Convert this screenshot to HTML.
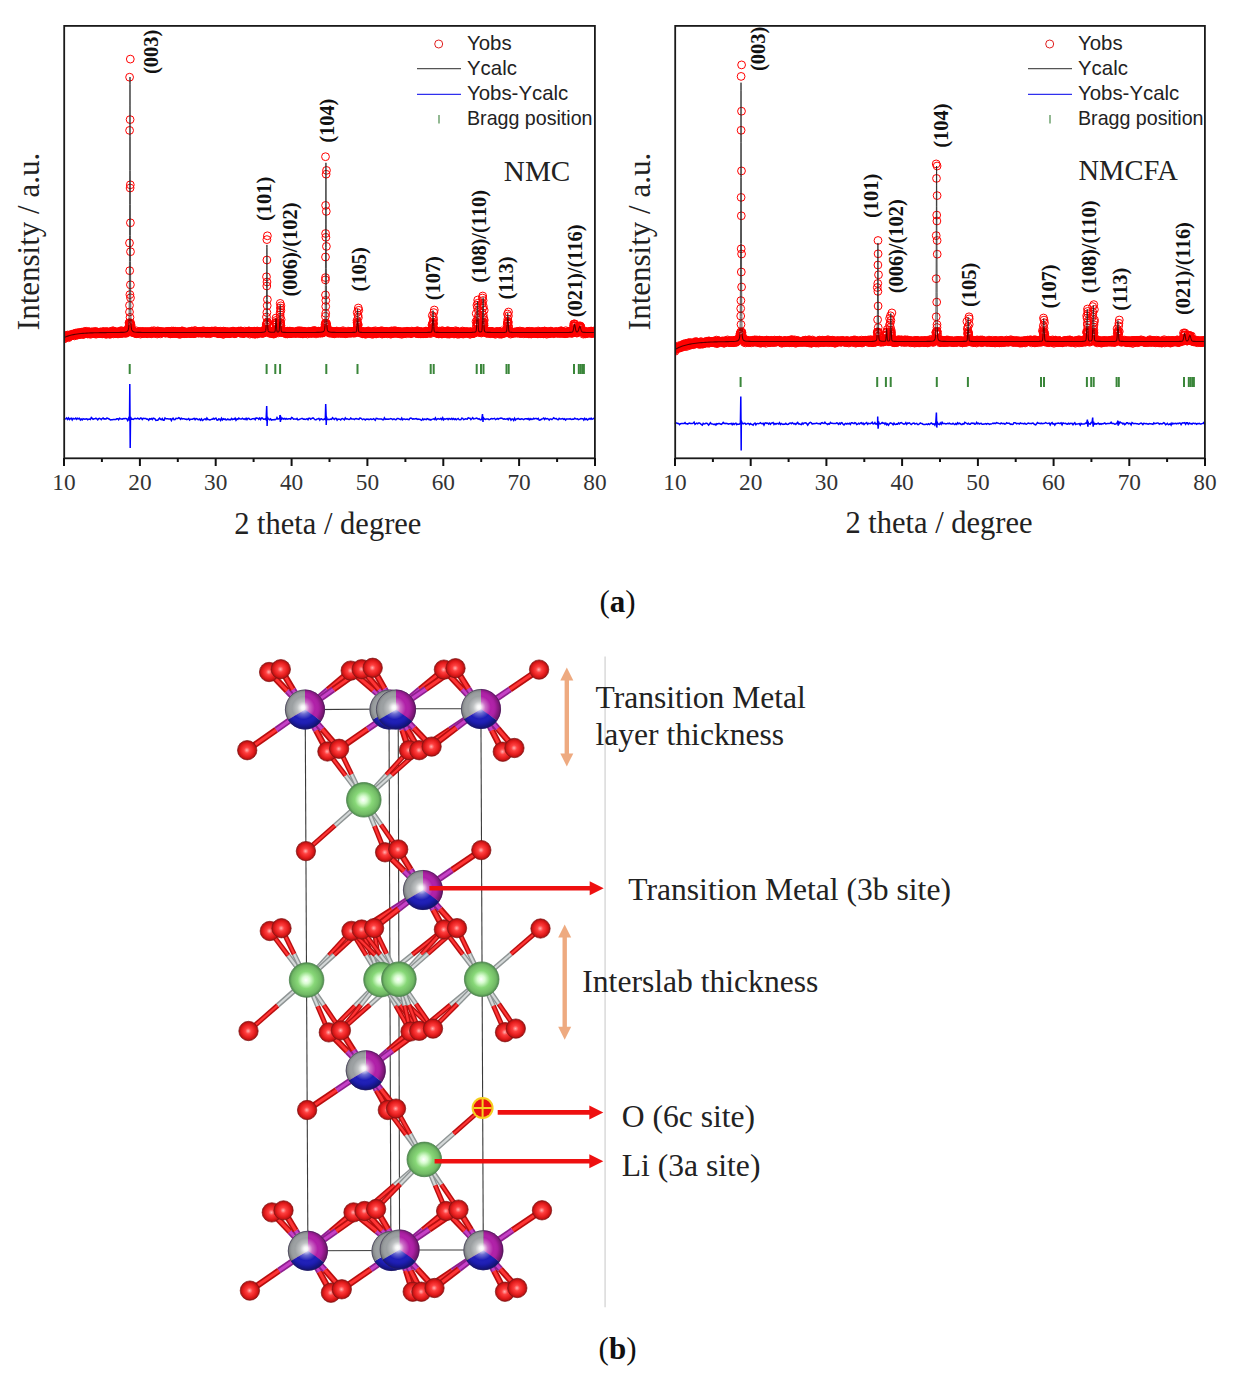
<!DOCTYPE html><html><head><meta charset="utf-8"><style>html,body{margin:0;padding:0;background:#fff;}svg{display:block}</style></head><body>
<svg width="1239" height="1381" viewBox="0 0 1239 1381" font-family='"Liberation Serif", serif'>
<defs>
<marker id="mo" markerWidth="10" markerHeight="10" refX="5" refY="5" markerUnits="userSpaceOnUse" overflow="visible"><circle cx="5" cy="5" r="3.9" fill="none" stroke="#f00" stroke-width="1"/></marker>
<radialGradient id="gO" cx="0.5" cy="0.5" r="0.5" fx="0.48" fy="0.5"><stop offset="0" stop-color="#ffb0b0"/><stop offset="0.3" stop-color="#ff4040"/><stop offset="0.7" stop-color="#e41c1c"/><stop offset="0.88" stop-color="#c01414"/><stop offset="1" stop-color="#8a1010"/></radialGradient>
<radialGradient id="gLi" cx="0.5" cy="0.5" r="0.5" fx="0.48" fy="0.5"><stop offset="0" stop-color="#ffffff"/><stop offset="0.22" stop-color="#d8fcd0"/><stop offset="0.5" stop-color="#88d878"/><stop offset="0.85" stop-color="#70b864"/><stop offset="1" stop-color="#4e8a4e"/></radialGradient>
<radialGradient id="gTMh" cx="0.47" cy="0.47" r="0.53" fx="0.45" fy="0.45"><stop offset="0" stop-color="#fff" stop-opacity="1"/><stop offset="0.1" stop-color="#fff" stop-opacity="0.9"/><stop offset="0.3" stop-color="#fff" stop-opacity="0.35"/><stop offset="0.55" stop-color="#fff" stop-opacity="0"/><stop offset="0.75" stop-color="#000" stop-opacity="0.05"/><stop offset="1" stop-color="#000" stop-opacity="0.4"/></radialGradient>
<clipPath id="clip1"><rect x="65" y="26" width="529" height="431"/></clipPath><clipPath id="clip2"><rect x="676" y="26" width="528" height="431"/></clipPath>
</defs>
<rect width="1239" height="1381" fill="#fff"/>
<g stroke="#3a863a" stroke-width="2">
<g clip-path="url(#clip1)">
<polyline points="64.0,338.7 64.3,338.7 64.5,337.5 64.8,336.7 65.1,336.4 65.3,337.1 65.6,336.2 65.9,335.8 66.1,336.9 66.4,336.7 66.7,337.0 66.9,335.8 67.2,336.4 67.5,336.2 67.7,335.0 68.0,336.5 68.2,336.2 68.5,337.7 68.8,336.0 69.0,335.6 69.3,336.6 69.6,335.7 69.8,336.2 70.1,335.1 70.4,335.5 70.6,336.0 70.9,335.7 71.2,335.2 71.4,334.3 71.7,335.3 72.0,335.0 72.2,335.4 72.5,335.0 72.8,335.6 73.0,334.7 73.3,334.8 73.6,335.1 73.8,333.7 74.1,334.2 74.4,334.1 74.6,335.9 74.9,334.3 75.2,334.8 75.4,334.7 75.7,334.0 75.9,333.0 76.2,334.9 76.5,333.8 76.7,334.6 77.0,333.0 77.3,333.7 77.5,334.9 77.8,335.0 78.1,332.9 78.3,332.8 78.6,333.8 78.9,334.3 79.1,333.9 79.4,333.9 79.7,332.9 79.9,334.1 80.2,334.5 80.5,333.3 80.7,332.5 81.0,333.0 81.3,334.1 81.5,332.2 81.8,333.4 82.1,332.7 82.3,333.3 82.6,333.2 82.9,333.4 83.1,334.5 83.4,333.6 83.6,334.3 83.9,333.2 84.2,332.9 84.4,333.5 84.7,331.4 85.0,333.2 85.2,333.3 85.5,332.3 85.8,333.5 86.0,332.7 86.3,331.3 86.6,333.0 86.8,332.4 87.1,332.7 87.4,333.0 87.6,334.0 87.9,333.1 88.2,333.0 88.4,333.3 88.7,331.6 89.0,333.9 89.2,332.2 89.5,333.3 89.8,332.1 90.0,332.2 90.3,332.6 90.6,334.3 90.8,333.4 91.1,332.4 91.3,332.7 91.6,332.0 91.9,332.8 92.1,332.4 92.4,333.4 92.7,331.8 92.9,332.6 93.2,332.2 93.5,332.3 93.7,333.3 94.0,332.9 94.3,333.2 94.5,333.7 94.8,333.6 95.1,331.7 95.3,333.2 95.6,331.4 95.9,332.7 96.1,334.2 96.4,332.6 96.7,332.5 96.9,332.9 97.2,332.7 97.5,332.7 97.7,332.1 98.0,333.5 98.2,333.4 98.5,332.5 98.8,332.9 99.0,333.2 99.3,333.5 99.6,333.0 99.8,333.2 100.1,332.5 100.4,331.9 100.6,332.3 100.9,333.4 101.2,333.4 101.4,332.8 101.7,332.2 102.0,332.9 102.2,333.9 102.5,333.6 102.8,332.1 103.0,332.6 103.3,331.5 103.6,331.8 103.8,332.7 104.1,332.6 104.4,333.3 104.6,333.5 104.9,333.2 105.2,333.6 105.4,332.2 105.7,331.7 105.9,333.0 106.2,334.4 106.5,332.8 106.7,331.7 107.0,332.8 107.3,333.6 107.5,331.8 107.8,333.2 108.1,332.1 108.3,333.5 108.6,333.1 108.9,332.8 109.1,334.1 109.4,332.2 109.7,332.0 109.9,333.9 110.2,331.9 110.5,334.2 110.7,332.5 111.0,331.8 111.3,332.5 111.5,332.6 111.8,332.7 112.1,332.4 112.3,333.3 112.6,330.8 112.9,332.1 113.1,332.3 113.4,333.9 113.6,331.0 113.9,332.3 114.2,331.7 114.4,332.0 114.7,333.0 115.0,332.8 115.2,333.6 115.5,332.0 115.8,332.7 116.0,333.4 116.3,333.2 116.6,332.2 116.8,333.3 117.1,331.8 117.4,333.8 117.6,332.6 117.9,332.4 118.2,332.7 118.4,333.1 118.7,333.8 119.0,332.3 119.2,332.2 119.5,332.9 119.8,331.8 120.0,331.2 120.3,333.1 120.6,332.1 120.8,333.3 121.1,331.6 121.3,330.6 121.6,332.6 121.9,332.5 122.1,333.6 122.4,332.8 122.7,332.6 122.9,332.8 123.2,332.0 123.5,332.4 123.7,331.3 124.0,332.7 124.3,331.6 124.5,331.9 124.8,332.7 125.1,332.8 125.3,331.3 125.6,333.5 125.9,331.5 126.1,332.5 126.4,332.5 126.7,331.9 126.9,331.7 127.2,332.7 127.5,331.8 127.7,331.1 128.0,328.9 128.3,329.1 128.5,329.4 128.8,326.8 129.0,322.8 129.3,323.0 129.6,323.3 129.8,324.0 130.1,323.8 130.4,324.3 130.6,322.9 130.9,324.2 131.2,325.9 131.4,328.1 131.7,330.8 132.0,330.3 132.2,330.6 132.5,330.9 132.8,331.0 133.0,332.7 133.3,332.7 133.6,332.3 133.8,332.0 134.1,332.7 134.4,332.0 134.6,332.4 134.9,332.4 135.2,332.2 135.4,333.4 135.7,333.5 136.0,333.2 136.2,330.8 136.5,333.7 136.7,332.8 137.0,332.0 137.3,332.3 137.5,333.2 137.8,333.2 138.1,333.0 138.3,332.5 138.6,332.4 138.9,333.0 139.1,332.3 139.4,331.7 139.7,331.9 139.9,332.3 140.2,332.7 140.5,334.1 140.7,331.4 141.0,332.8 141.3,332.4 141.5,332.7 141.8,333.5 142.1,333.4 142.3,332.3 142.6,332.0 142.9,331.4 143.1,332.4 143.4,333.4 143.7,332.3 143.9,333.0 144.2,333.0 144.4,332.8 144.7,333.3 145.0,332.4 145.2,331.8 145.5,331.6 145.8,333.2 146.0,332.2 146.3,332.2 146.6,333.1 146.8,331.9 147.1,333.8 147.4,333.0 147.6,332.1 147.9,332.0 148.2,333.3 148.4,331.6 148.7,332.0 149.0,332.5 149.2,332.6 149.5,332.5 149.8,332.8 150.0,332.2 150.3,332.4 150.6,333.4 150.8,333.0 151.1,332.1 151.3,333.8 151.6,331.0 151.9,332.5 152.1,333.0 152.4,333.2 152.7,332.6 152.9,332.2 153.2,332.9 153.5,332.3 153.7,332.8 154.0,330.7 154.3,332.8 154.5,331.9 154.8,333.2 155.1,333.0 155.3,333.0 155.6,332.2 155.9,332.8 156.1,332.2 156.4,332.6 156.7,332.4 156.9,331.8 157.2,334.0 157.5,333.0 157.7,330.9 158.0,333.2 158.3,331.4 158.5,332.3 158.8,332.1 159.0,332.1 159.3,332.7 159.6,332.2 159.8,331.4 160.1,332.5 160.4,332.8 160.6,333.8 160.9,332.2 161.2,331.6 161.4,332.2 161.7,333.0 162.0,331.8 162.2,332.0 162.5,332.9 162.8,332.5 163.0,332.7 163.3,332.0 163.6,331.9 163.8,332.2 164.1,332.4 164.4,332.2 164.6,332.8 164.9,332.9 165.2,332.9 165.4,332.9 165.7,331.8 166.0,331.7 166.2,333.1 166.5,332.5 166.7,332.6 167.0,331.6 167.3,332.3 167.5,332.0 167.8,331.8 168.1,332.0 168.3,331.4 168.6,332.6 168.9,333.4 169.1,332.0 169.4,332.6 169.7,331.7 169.9,333.0 170.2,333.9 170.5,331.6 170.7,332.3 171.0,333.6 171.3,332.8 171.5,332.6 171.8,331.0 172.1,332.4 172.3,333.2 172.6,333.6 172.9,333.0 173.1,332.1 173.4,332.0 173.7,331.1 173.9,331.7 174.2,333.3 174.4,332.4 174.7,331.5 175.0,333.5 175.2,331.2 175.5,333.4 175.8,332.3 176.0,332.7 176.3,333.0 176.6,332.7 176.8,333.4 177.1,332.5 177.4,332.2 177.6,332.0 177.9,331.4 178.2,332.0 178.4,333.2 178.7,333.1 179.0,333.5 179.2,334.3 179.5,333.0 179.8,332.9 180.0,331.5 180.3,332.3 180.6,334.1 180.8,332.9 181.1,332.4 181.4,332.7 181.6,331.1 181.9,331.9 182.1,331.5 182.4,330.9 182.7,333.1 182.9,333.2 183.2,332.4 183.5,332.8 183.7,331.7 184.0,332.8 184.3,333.1 184.5,333.6 184.8,333.7 185.1,332.9 185.3,332.4 185.6,331.9 185.9,332.0 186.1,333.0 186.4,332.9 186.7,332.5 186.9,333.7 187.2,333.0 187.5,332.5 187.7,332.4 188.0,332.6 188.3,331.8 188.5,331.8 188.8,332.8 189.1,332.1 189.3,332.3 189.6,333.4 189.8,332.4 190.1,333.5 190.4,332.5 190.6,333.6 190.9,332.8 191.2,331.2 191.4,333.4 191.7,332.3 192.0,331.0 192.2,332.6 192.5,332.6 192.8,331.5 193.0,332.0 193.3,332.9 193.6,333.6 193.8,333.4 194.1,333.4 194.4,333.3 194.6,330.7 194.9,332.0 195.2,332.6 195.4,330.7 195.7,333.1 196.0,333.2 196.2,331.9 196.5,332.2 196.8,331.8 197.0,332.5 197.3,332.5 197.5,332.5 197.8,331.7 198.1,332.8 198.3,332.2 198.6,333.2 198.9,332.7 199.1,331.4 199.4,331.4 199.7,332.5 199.9,332.1 200.2,332.8 200.5,333.1 200.7,332.5 201.0,331.2 201.3,331.6 201.5,332.9 201.8,331.7 202.1,333.3 202.3,332.4 202.6,332.9 202.9,331.8 203.1,332.4 203.4,330.7 203.7,332.3 203.9,332.9 204.2,331.8 204.4,331.9 204.7,332.5 205.0,332.5 205.2,331.9 205.5,333.0 205.8,331.3 206.0,333.3 206.3,331.4 206.6,331.9 206.8,333.5 207.1,331.8 207.4,331.3 207.6,332.6 207.9,331.8 208.2,331.7 208.4,332.0 208.7,331.9 209.0,331.8 209.2,331.7 209.5,333.7 209.8,332.0 210.0,333.2 210.3,331.4 210.6,332.9 210.8,331.6 211.1,332.2 211.4,333.0 211.6,332.1 211.9,331.0 212.1,332.1 212.4,332.4 212.7,332.9 212.9,331.7 213.2,332.3 213.5,332.5 213.7,331.3 214.0,332.4 214.3,331.9 214.5,332.8 214.8,332.4 215.1,332.4 215.3,330.7 215.6,332.4 215.9,332.2 216.1,331.8 216.4,332.1 216.7,331.5 216.9,332.6 217.2,333.0 217.5,332.9 217.7,332.1 218.0,333.8 218.3,333.1 218.5,331.8 218.8,332.4 219.1,331.3 219.3,332.4 219.6,333.0 219.8,333.4 220.1,332.2 220.4,331.2 220.6,332.4 220.9,333.5 221.2,332.6 221.4,333.5 221.7,333.1 222.0,333.7 222.2,332.9 222.5,332.0 222.8,332.8 223.0,334.3 223.3,332.1 223.6,331.1 223.8,334.1 224.1,332.8 224.4,332.0 224.6,332.0 224.9,331.3 225.2,333.0 225.4,332.6 225.7,332.0 226.0,332.2 226.2,332.2 226.5,333.3 226.8,332.4 227.0,333.5 227.3,331.9 227.5,332.0 227.8,332.1 228.1,332.1 228.3,332.4 228.6,333.3 228.9,333.4 229.1,331.7 229.4,333.5 229.7,332.6 229.9,333.7 230.2,332.4 230.5,331.9 230.7,333.1 231.0,333.0 231.3,332.2 231.5,332.5 231.8,332.6 232.1,332.7 232.3,331.2 232.6,331.6 232.9,332.5 233.1,332.7 233.4,332.1 233.7,331.2 233.9,333.5 234.2,332.3 234.5,331.7 234.7,333.7 235.0,333.3 235.2,333.3 235.5,333.1 235.8,332.9 236.0,331.8 236.3,332.5 236.6,332.8 236.8,333.0 237.1,332.8 237.4,331.7 237.6,332.0 237.9,332.2 238.2,332.3 238.4,331.8 238.7,331.1 239.0,331.6 239.2,332.7 239.5,332.5 239.8,332.9 240.0,331.1 240.3,332.2 240.6,333.2 240.8,331.0 241.1,331.7 241.4,331.2 241.6,333.4 241.9,332.5 242.2,332.1 242.4,332.6 242.7,332.4 242.9,333.2 243.2,333.4 243.5,333.2 243.7,332.7 244.0,333.1 244.3,333.1 244.5,333.4 244.8,331.1 245.1,332.7 245.3,332.5 245.6,332.6 245.9,332.3 246.1,332.4 246.4,332.9 246.7,332.6 246.9,332.6 247.2,331.7 247.5,331.5 247.7,331.9 248.0,331.2 248.3,332.1 248.5,331.8 248.8,331.1 249.1,331.0 249.3,332.1 249.6,332.1 249.8,334.1 250.1,333.1 250.4,331.9 250.6,332.1 250.9,331.7 251.2,331.9 251.4,332.2 251.7,332.4 252.0,332.0 252.2,333.1 252.5,333.0 252.8,333.9 253.0,331.5 253.3,333.0 253.6,332.2 253.8,331.3 254.1,332.2 254.4,331.2 254.6,332.5 254.9,334.3 255.2,333.5 255.4,333.8 255.7,333.4 256.0,331.3 256.2,332.8 256.5,332.6 256.8,332.8 257.0,331.7 257.3,331.0 257.5,334.0 257.8,333.3 258.1,332.7 258.3,332.1 258.6,332.6 258.9,331.5 259.1,333.2 259.4,332.6 259.7,332.3 259.9,332.1 260.2,332.4 260.5,332.5 260.7,332.1 261.0,333.1 261.3,332.5 261.5,332.3 261.8,331.7 262.1,333.3 262.3,333.3 262.6,332.8 262.9,330.9 263.1,332.0 263.4,333.0 263.7,332.2 263.9,333.1 264.2,331.7 264.5,332.6 264.7,332.2 265.0,329.9 265.2,331.1 265.5,330.8 265.8,329.7 266.0,326.7 266.3,324.7 266.6,323.4 266.8,324.1 267.1,322.5 267.4,321.9 267.6,323.1 267.9,329.4 268.2,330.1 268.4,331.6 268.7,332.1 269.0,331.4 269.2,331.9 269.5,331.5 269.8,332.9 270.0,333.5 270.3,332.6 270.6,331.8 270.8,331.7 271.1,332.1 271.4,333.0 271.6,331.7 271.9,333.4 272.2,331.4 272.4,332.3 272.7,333.3 272.9,333.6 273.2,332.0 273.5,332.9 273.7,334.1 274.0,333.1 274.3,330.5 274.5,332.3 274.8,333.7 275.1,330.3 275.3,329.8 275.6,323.1 275.9,324.7 276.1,322.9 276.4,324.4 276.7,329.3 276.9,329.2 277.2,330.7 277.5,332.2 277.7,330.9 278.0,332.0 278.3,331.3 278.5,332.9 278.8,331.3 279.1,330.5 279.3,329.7 279.6,324.7 279.9,323.4 280.1,323.7 280.4,323.9 280.6,323.1 280.9,325.9 281.2,330.8 281.4,331.3 281.7,330.8 282.0,332.7 282.2,332.5 282.5,332.3 282.8,331.7 283.0,332.1 283.3,332.8 283.6,332.7 283.8,331.7 284.1,331.7 284.4,332.6 284.6,332.5 284.9,333.0 285.2,331.6 285.4,333.1 285.7,333.8 286.0,333.1 286.2,332.5 286.5,333.1 286.8,331.5 287.0,332.1 287.3,334.0 287.6,331.2 287.8,331.6 288.1,333.1 288.3,332.0 288.6,332.0 288.9,331.6 289.1,333.7 289.4,332.0 289.7,332.3 289.9,331.1 290.2,333.0 290.5,332.5 290.7,332.8 291.0,333.7 291.3,332.6 291.5,331.6 291.8,331.7 292.1,332.5 292.3,333.5 292.6,331.6 292.9,332.3 293.1,332.4 293.4,333.0 293.7,331.8 293.9,332.7 294.2,333.1 294.5,332.5 294.7,332.4 295.0,332.9 295.3,332.9 295.5,333.4 295.8,331.7 296.0,333.4 296.3,332.3 296.6,331.6 296.8,332.1 297.1,331.6 297.4,332.3 297.6,333.3 297.9,330.8 298.2,331.6 298.4,333.1 298.7,332.3 299.0,333.1 299.2,331.5 299.5,332.4 299.8,330.7 300.0,331.8 300.3,333.0 300.6,333.4 300.8,333.7 301.1,332.4 301.4,331.8 301.6,332.2 301.9,331.0 302.2,333.5 302.4,333.4 302.7,331.8 302.9,333.9 303.2,331.5 303.5,332.9 303.7,331.9 304.0,331.2 304.3,332.8 304.5,331.6 304.8,333.4 305.1,331.8 305.3,332.6 305.6,332.1 305.9,332.6 306.1,332.0 306.4,333.1 306.7,332.9 306.9,332.5 307.2,332.4 307.5,334.0 307.7,332.0 308.0,332.1 308.3,333.1 308.5,332.5 308.8,331.2 309.1,332.4 309.3,332.2 309.6,331.7 309.9,332.6 310.1,331.6 310.4,332.3 310.6,331.6 310.9,333.6 311.2,332.3 311.4,332.8 311.7,332.7 312.0,333.0 312.2,332.3 312.5,333.0 312.8,332.6 313.0,330.7 313.3,332.7 313.6,331.5 313.8,333.2 314.1,332.6 314.4,332.2 314.6,330.6 314.9,330.8 315.2,331.6 315.4,332.2 315.7,331.4 316.0,333.9 316.2,332.8 316.5,332.4 316.8,331.7 317.0,332.2 317.3,332.2 317.6,332.1 317.8,332.3 318.1,333.0 318.3,331.1 318.6,332.6 318.9,333.2 319.1,331.3 319.4,332.2 319.7,332.1 319.9,331.5 320.2,333.0 320.5,332.0 320.7,333.1 321.0,332.6 321.3,332.0 321.5,332.4 321.8,331.9 322.1,330.9 322.3,333.1 322.6,332.2 322.9,332.7 323.1,330.4 323.4,332.4 323.7,332.0 323.9,331.0 324.2,329.0 324.5,330.0 324.7,328.1 325.0,324.8 325.3,323.5 325.5,322.8 325.8,323.4 326.0,323.5 326.3,324.6 326.6,323.4 326.8,325.6 327.1,327.4 327.4,329.6 327.6,331.4 327.9,329.8 328.2,331.8 328.4,331.8 328.7,331.3 329.0,331.7 329.2,333.1 329.5,331.7 329.8,332.3 330.0,332.5 330.3,333.1 330.6,330.7 330.8,331.1 331.1,331.3 331.4,332.1 331.6,332.8 331.9,332.9 332.2,332.1 332.4,333.5 332.7,332.3 333.0,332.9 333.2,331.8 333.5,333.0 333.7,331.9 334.0,333.3 334.3,333.1 334.5,333.8 334.8,332.1 335.1,331.6 335.3,333.0 335.6,332.7 335.9,332.0 336.1,331.4 336.4,333.0 336.7,331.0 336.9,332.1 337.2,333.2 337.5,332.3 337.7,332.8 338.0,332.8 338.3,332.9 338.5,333.3 338.8,332.9 339.1,332.2 339.3,331.5 339.6,332.2 339.9,332.0 340.1,332.8 340.4,333.4 340.7,333.1 340.9,331.9 341.2,332.6 341.4,332.5 341.7,332.1 342.0,333.4 342.2,332.9 342.5,332.7 342.8,331.6 343.0,330.7 343.3,331.9 343.6,333.3 343.8,332.3 344.1,332.5 344.4,332.3 344.6,332.8 344.9,332.5 345.2,333.8 345.4,332.4 345.7,332.3 346.0,333.5 346.2,333.0 346.5,333.0 346.8,332.9 347.0,332.4 347.3,332.7 347.6,332.9 347.8,332.6 348.1,331.1 348.4,333.5 348.6,332.1 348.9,332.0 349.1,332.2 349.4,331.9 349.7,331.8 349.9,332.4 350.2,333.1 350.5,332.2 350.7,332.8 351.0,331.4 351.3,333.0 351.5,331.6 351.8,333.0 352.1,331.9 352.3,332.0 352.6,331.5 352.9,331.5 353.1,332.3 353.4,331.7 353.7,332.2 353.9,333.3 354.2,331.8 354.5,332.1 354.7,332.3 355.0,331.8 355.3,332.2 355.5,332.4 355.8,332.9 356.0,331.5 356.3,331.6 356.6,330.7 356.8,328.6 357.1,322.7 357.4,323.6 357.6,324.1 357.9,323.9 358.2,324.7 358.4,329.1 358.7,330.1 359.0,331.5 359.2,331.9 359.5,331.1 359.8,332.9 360.0,332.4 360.3,332.2 360.6,332.0 360.8,332.7 361.1,332.2 361.4,332.8 361.6,332.1 361.9,333.2 362.2,331.2 362.4,331.6 362.7,333.8 363.0,333.2 363.2,333.7 363.5,331.9 363.7,333.0 364.0,333.2 364.3,333.2 364.5,332.3 364.8,333.6 365.1,332.8 365.3,331.5 365.6,334.3 365.9,332.6 366.1,333.4 366.4,332.0 366.7,331.8 366.9,333.1 367.2,333.1 367.5,331.9 367.7,332.7 368.0,331.5 368.3,330.9 368.5,333.3 368.8,331.6 369.1,333.0 369.3,333.3 369.6,332.8 369.9,333.6 370.1,332.8 370.4,332.7 370.7,332.5 370.9,332.8 371.2,332.8 371.4,331.8 371.7,332.5 372.0,332.2 372.2,334.3 372.5,333.4 372.8,331.9 373.0,332.9 373.3,331.2 373.6,332.5 373.8,333.9 374.1,332.6 374.4,333.5 374.6,332.2 374.9,332.8 375.2,332.8 375.4,330.8 375.7,331.9 376.0,333.9 376.2,331.9 376.5,333.4 376.8,333.8 377.0,332.5 377.3,333.2 377.6,332.8 377.8,332.0 378.1,332.9 378.4,332.8 378.6,331.8 378.9,332.2 379.1,331.5 379.4,332.2 379.7,332.5 379.9,331.8 380.2,331.1 380.5,333.0 380.7,333.4 381.0,331.8 381.3,332.5 381.5,332.0 381.8,330.7 382.1,334.1 382.3,332.7 382.6,331.4 382.9,333.4 383.1,333.0 383.4,333.6 383.7,333.0 383.9,332.9 384.2,333.6 384.5,332.3 384.7,332.7 385.0,331.7 385.3,331.6 385.5,332.7 385.8,332.7 386.1,331.3 386.3,332.8 386.6,333.3 386.8,331.6 387.1,332.2 387.4,333.8 387.6,331.9 387.9,332.9 388.2,333.1 388.4,332.6 388.7,332.6 389.0,332.9 389.2,332.7 389.5,332.6 389.8,331.4 390.0,332.7 390.3,331.9 390.6,333.6 390.8,334.2 391.1,333.3 391.4,330.9 391.6,333.2 391.9,332.6 392.2,331.7 392.4,331.6 392.7,333.3 393.0,332.0 393.2,332.4 393.5,332.5 393.8,333.2 394.0,330.7 394.3,333.4 394.5,331.9 394.8,332.2 395.1,333.0 395.3,332.8 395.6,330.8 395.9,332.9 396.1,332.4 396.4,331.7 396.7,332.0 396.9,331.3 397.2,333.1 397.5,333.6 397.7,332.0 398.0,332.1 398.3,331.4 398.5,332.0 398.8,331.7 399.1,332.5 399.3,333.8 399.6,333.3 399.9,333.2 400.1,331.8 400.4,333.1 400.7,332.0 400.9,331.8 401.2,333.0 401.5,332.4 401.7,334.3 402.0,332.6 402.2,332.3 402.5,333.1 402.8,331.6 403.0,333.0 403.3,333.7 403.6,332.4 403.8,332.1 404.1,333.3 404.4,331.7 404.6,332.8 404.9,332.1 405.2,332.7 405.4,331.9 405.7,332.9 406.0,332.9 406.2,333.8 406.5,332.2 406.8,332.8 407.0,331.2 407.3,331.9 407.6,332.7 407.8,331.5 408.1,332.4 408.4,331.8 408.6,332.9 408.9,332.9 409.1,332.1 409.4,333.0 409.7,332.1 409.9,332.6 410.2,332.9 410.5,332.9 410.7,332.9 411.0,333.8 411.3,332.0 411.5,332.4 411.8,331.1 412.1,333.1 412.3,331.7 412.6,332.0 412.9,332.1 413.1,332.8 413.4,332.3 413.7,332.3 413.9,332.6 414.2,332.2 414.5,332.5 414.7,331.8 415.0,332.1 415.3,331.6 415.5,333.1 415.8,333.2 416.1,333.0 416.3,332.7 416.6,332.0 416.8,332.9 417.1,331.3 417.4,330.7 417.6,331.6 417.9,333.6 418.2,332.7 418.4,333.7 418.7,332.0 419.0,333.2 419.2,333.7 419.5,333.2 419.8,332.7 420.0,333.3 420.3,332.1 420.6,333.8 420.8,331.6 421.1,331.9 421.4,332.5 421.6,331.9 421.9,333.8 422.2,333.0 422.4,331.9 422.7,333.7 423.0,333.5 423.2,332.2 423.5,333.7 423.8,333.4 424.0,332.1 424.3,332.1 424.5,332.7 424.8,333.3 425.1,333.7 425.3,333.6 425.6,332.1 425.9,331.1 426.1,331.2 426.4,333.6 426.7,333.3 426.9,333.3 427.2,332.4 427.5,332.5 427.7,332.8 428.0,332.8 428.3,332.5 428.5,331.7 428.8,331.4 429.1,332.5 429.3,332.3 429.6,333.4 429.9,331.5 430.1,330.8 430.4,330.8 430.7,332.2 430.9,333.4 431.2,331.8 431.5,331.4 431.7,331.8 432.0,331.5 432.2,328.1 432.5,324.2 432.8,324.2 433.0,323.3 433.3,323.6 433.6,323.8 433.8,328.7 434.1,328.7 434.4,331.1 434.6,332.2 434.9,331.9 435.2,332.1 435.4,332.0 435.7,331.6 436.0,332.7 436.2,333.3 436.5,332.1 436.8,332.7 437.0,333.2 437.3,331.9 437.6,332.4 437.8,331.5 438.1,333.6 438.4,333.7 438.6,332.3 438.9,333.9 439.2,333.1 439.4,331.1 439.7,332.8 439.9,332.7 440.2,332.8 440.5,333.0 440.7,332.1 441.0,333.3 441.3,332.7 441.5,333.9 441.8,332.4 442.1,330.7 442.3,333.9 442.6,332.9 442.9,331.1 443.1,332.0 443.4,331.9 443.7,333.2 443.9,332.0 444.2,333.4 444.5,332.1 444.7,333.2 445.0,332.0 445.3,331.6 445.5,332.9 445.8,332.3 446.1,332.9 446.3,331.2 446.6,331.7 446.9,332.2 447.1,334.0 447.4,332.8 447.6,331.2 447.9,330.7 448.2,333.9 448.4,332.7 448.7,331.5 449.0,333.2 449.2,333.1 449.5,334.1 449.8,332.6 450.0,332.1 450.3,333.1 450.6,331.5 450.8,332.2 451.1,331.7 451.4,332.1 451.6,331.5 451.9,331.4 452.2,331.7 452.4,332.8 452.7,332.5 453.0,332.4 453.2,332.8 453.5,333.1 453.8,332.8 454.0,334.0 454.3,332.7 454.6,332.8 454.8,332.1 455.1,333.3 455.3,333.6 455.6,330.7 455.9,333.1 456.1,331.7 456.4,332.8 456.7,332.6 456.9,331.5 457.2,331.5 457.5,332.3 457.7,334.3 458.0,331.6 458.3,332.2 458.5,332.3 458.8,332.3 459.1,333.3 459.3,334.0 459.6,332.5 459.9,332.8 460.1,332.2 460.4,333.7 460.7,332.4 460.9,333.0 461.2,332.3 461.5,333.3 461.7,332.4 462.0,331.8 462.2,333.9 462.5,331.0 462.8,332.6 463.0,332.2 463.3,331.8 463.6,334.0 463.8,332.7 464.1,332.2 464.4,331.8 464.6,332.7 464.9,332.5 465.2,332.3 465.4,332.0 465.7,333.6 466.0,332.6 466.2,332.3 466.5,331.5 466.8,331.9 467.0,333.0 467.3,331.9 467.6,333.0 467.8,332.4 468.1,332.8 468.4,332.7 468.6,332.1 468.9,332.3 469.2,332.4 469.4,332.9 469.7,334.2 469.9,333.1 470.2,331.5 470.5,334.1 470.7,332.3 471.0,331.9 471.3,332.5 471.5,332.4 471.8,332.6 472.1,332.4 472.3,332.4 472.6,333.3 472.9,333.6 473.1,332.4 473.4,333.5 473.7,333.0 473.9,333.2 474.2,332.5 474.5,332.4 474.7,332.8 475.0,331.4 475.3,332.1 475.5,331.0 475.8,332.4 476.1,331.4 476.3,330.2 476.6,325.8 476.9,322.9 477.1,324.2 477.4,323.2 477.6,323.3 477.9,323.5 478.2,324.5 478.4,329.0 478.7,330.1 479.0,330.7 479.2,332.5 479.5,331.6 479.8,331.7 480.0,331.3 480.3,332.6 480.6,332.3 480.8,331.5 481.1,330.5 481.4,333.0 481.6,330.8 481.9,329.4 482.2,327.1 482.4,322.6 482.7,323.5 483.0,323.1 483.2,322.6 483.5,324.0 483.8,322.9 484.0,325.4 484.3,330.3 484.6,330.8 484.8,330.8 485.1,330.6 485.3,331.5 485.6,331.6 485.9,331.8 486.1,331.8 486.4,333.2 486.7,333.1 486.9,332.5 487.2,332.8 487.5,332.0 487.7,331.3 488.0,332.8 488.3,333.4 488.5,331.9 488.8,331.9 489.1,331.9 489.3,331.4 489.6,332.8 489.9,331.6 490.1,333.5 490.4,333.7 490.7,332.5 490.9,332.4 491.2,331.8 491.5,333.1 491.7,332.5 492.0,331.3 492.3,331.8 492.5,332.8 492.8,332.1 493.0,332.8 493.3,332.6 493.6,333.5 493.8,332.4 494.1,333.3 494.4,333.3 494.6,333.5 494.9,332.2 495.2,332.7 495.4,334.3 495.7,332.3 496.0,332.0 496.2,332.6 496.5,331.6 496.8,331.8 497.0,332.1 497.3,332.3 497.6,333.2 497.8,331.6 498.1,332.3 498.4,332.7 498.6,332.2 498.9,333.0 499.2,334.1 499.4,331.7 499.7,331.8 500.0,332.1 500.2,332.1 500.5,332.1 500.7,332.8 501.0,333.8 501.3,334.3 501.5,332.4 501.8,330.9 502.1,333.6 502.3,332.5 502.6,332.1 502.9,333.3 503.1,332.3 503.4,332.2 503.7,331.8 503.9,333.1 504.2,333.0 504.5,331.7 504.7,331.9 505.0,333.2 505.3,331.7 505.5,331.9 505.8,331.6 506.1,331.9 506.3,332.5 506.6,331.2 506.9,330.1 507.1,325.7 507.4,322.0 507.7,323.5 507.9,323.5 508.2,322.3 508.4,326.6 508.7,329.7 509.0,330.9 509.2,332.3 509.5,332.8 509.8,332.7 510.0,331.8 510.3,332.3 510.6,334.1 510.8,331.4 511.1,332.4 511.4,332.4 511.6,333.5 511.9,332.9 512.2,332.6 512.4,332.2 512.7,333.4 513.0,332.5 513.2,332.4 513.5,332.6 513.8,333.0 514.0,332.5 514.3,332.7 514.6,333.1 514.8,331.9 515.1,332.3 515.3,332.5 515.6,333.0 515.9,332.9 516.1,332.1 516.4,331.7 516.7,332.2 516.9,332.1 517.2,333.1 517.5,333.0 517.7,332.5 518.0,331.7 518.3,331.5 518.5,332.6 518.8,332.9 519.1,332.8 519.3,332.3 519.6,332.9 519.9,331.0 520.1,333.3 520.4,333.6 520.7,332.6 520.9,332.7 521.2,332.3 521.5,333.2 521.7,331.8 522.0,332.1 522.3,332.8 522.5,331.4 522.8,332.9 523.0,332.8 523.3,332.5 523.6,332.1 523.8,333.8 524.1,332.1 524.4,332.6 524.6,333.1 524.9,332.5 525.2,333.3 525.4,332.5 525.7,332.7 526.0,332.5 526.2,333.0 526.5,332.0 526.8,333.2 527.0,333.3 527.3,331.7 527.6,331.4 527.8,331.5 528.1,331.9 528.4,333.0 528.6,332.5 528.9,333.9 529.2,333.7 529.4,331.3 529.7,332.2 530.0,332.3 530.2,333.7 530.5,333.1 530.7,333.2 531.0,331.9 531.3,334.0 531.5,331.7 531.8,332.5 532.1,331.8 532.3,331.8 532.6,332.7 532.9,331.8 533.1,333.0 533.4,332.9 533.7,332.5 533.9,333.0 534.2,333.3 534.5,333.3 534.7,331.6 535.0,333.0 535.3,333.2 535.5,332.2 535.8,332.2 536.1,333.4 536.3,333.0 536.6,332.6 536.9,333.6 537.1,333.2 537.4,333.8 537.7,332.2 537.9,333.2 538.2,331.0 538.4,332.0 538.7,333.7 539.0,331.8 539.2,332.4 539.5,332.2 539.8,332.9 540.0,333.3 540.3,333.7 540.6,332.4 540.8,332.7 541.1,333.2 541.4,333.4 541.6,332.3 541.9,333.5 542.2,331.4 542.4,332.7 542.7,331.5 543.0,332.1 543.2,331.9 543.5,333.8 543.8,333.7 544.0,333.1 544.3,332.6 544.6,331.0 544.8,331.2 545.1,332.6 545.4,333.0 545.6,332.9 545.9,331.9 546.1,331.9 546.4,332.9 546.7,334.2 546.9,333.0 547.2,332.5 547.5,332.4 547.7,332.8 548.0,332.7 548.3,331.4 548.5,333.7 548.8,332.8 549.1,332.9 549.3,332.2 549.6,333.3 549.9,333.3 550.1,331.9 550.4,333.3 550.7,332.0 550.9,331.1 551.2,333.1 551.5,331.7 551.7,332.1 552.0,331.8 552.3,332.4 552.5,332.2 552.8,332.6 553.1,332.8 553.3,333.7 553.6,332.8 553.8,332.9 554.1,332.9 554.4,333.1 554.6,333.2 554.9,332.7 555.2,331.6 555.4,331.8 555.7,332.7 556.0,332.3 556.2,332.2 556.5,332.1 556.8,332.0 557.0,333.3 557.3,333.1 557.6,331.5 557.8,332.6 558.1,332.5 558.4,332.1 558.6,333.3 558.9,332.7 559.2,332.5 559.4,331.8 559.7,333.2 560.0,332.7 560.2,332.7 560.5,332.0 560.8,333.6 561.0,330.7 561.3,331.4 561.5,331.2 561.8,331.5 562.1,331.7 562.3,332.1 562.6,332.2 562.9,332.6 563.1,333.5 563.4,332.9 563.7,332.6 563.9,332.4 564.2,332.8 564.5,333.1 564.7,331.9 565.0,333.8 565.3,332.5 565.5,333.1 565.8,330.7 566.1,332.6 566.3,332.2 566.6,333.5 566.9,333.2 567.1,332.7 567.4,332.9 567.7,332.2 567.9,331.8 568.2,333.3 568.4,331.5 568.7,332.0 569.0,331.6 569.2,331.7 569.5,332.1 569.8,333.0 570.0,331.7 570.3,332.9 570.6,331.0 570.8,331.7 571.1,331.7 571.4,332.8 571.6,333.3 571.9,330.5 572.2,332.2 572.4,333.2 572.7,331.7 573.0,332.4 573.2,331.2 573.5,329.3 573.8,326.5 574.0,325.5 574.3,326.0 574.6,323.8 574.8,324.3 575.1,326.1 575.4,328.9 575.6,329.5 575.9,329.4 576.1,330.8 576.4,332.2 576.7,332.7 576.9,333.1 577.2,332.3 577.5,332.2 577.7,330.8 578.0,330.8 578.3,329.6 578.5,329.8 578.8,329.3 579.1,328.1 579.3,326.5 579.6,327.0 579.9,327.1 580.1,327.7 580.4,325.9 580.7,326.6 580.9,328.5 581.2,330.6 581.5,331.7 581.7,332.0 582.0,331.8 582.3,332.2 582.5,332.0 582.8,331.7 583.1,331.6 583.3,334.1 583.6,332.2 583.8,332.8 584.1,332.8 584.4,333.1 584.6,332.4 584.9,333.1 585.2,333.9 585.4,331.9 585.7,332.0 586.0,331.7 586.2,332.2 586.5,331.5 586.8,332.7 587.0,333.0 587.3,333.4 587.6,333.4 587.8,332.2 588.1,332.6 588.4,331.9 588.6,332.5 588.9,332.5 589.2,332.8 589.4,332.4 589.7,331.7 590.0,333.2 590.2,332.4 590.5,331.4 590.8,331.2 591.0,333.0 591.3,331.1 591.5,333.0 591.8,333.6 592.1,332.9 592.3,333.1 592.6,332.9 592.9,332.0 593.1,332.6 593.4,331.1 593.7,332.9 593.9,333.0 594.2,332.6 594.5,333.3 594.7,332.4 595.0,331.2 130.3,59.1 129.6,77.2 130.1,119.6 129.6,130.4 130.3,184.8 130.1,188.0 130.4,222.8 129.5,243.0 130.5,251.7 129.7,270.7 130.4,284.8 129.9,294.6 130.5,297.8 129.5,305.4 129.5,312.0 130.0,317.4 267.4,235.8 266.9,239.6 266.9,260.0 266.5,276.8 267.0,282.0 266.8,286.0 267.4,299.6 267.2,305.7 266.9,312.5 266.5,317.0 325.5,156.7 326.5,170.4 326.1,174.2 325.6,205.4 326.3,211.4 325.6,233.5 325.9,237.3 326.4,246.4 325.5,257.0 325.5,277.6 325.4,279.9 325.5,295.0 325.8,300.4 325.7,306.5 325.7,313.3 325.4,316.3 280.2,303.4 280.9,305.8 280.4,308.0 280.9,310.3 280.2,312.3 280.1,314.8 280.3,317.3 281.1,319.6 280.4,322.7 280.8,325.4 280.5,327.6 276.0,318.0 276.1,320.4 275.3,322.5 276.3,324.5 276.8,326.7 358.3,308.0 358.8,310.3 357.2,312.5 358.0,315.2 358.4,317.5 357.0,320.5 357.3,322.7 358.0,325.4 357.3,327.5 434.3,310.0 433.8,312.6 432.3,315.6 433.4,317.5 433.6,319.9 432.9,322.1 431.9,325.0 432.1,327.4 477.7,300.0 477.8,303.2 476.9,305.2 477.4,307.7 478.4,310.5 476.2,313.6 478.4,315.7 478.4,317.7 477.3,319.7 476.0,321.6 477.9,323.9 476.5,326.7 482.7,296.0 482.4,298.0 483.1,300.5 482.0,303.6 483.3,306.2 482.7,308.2 484.2,310.2 481.9,312.5 483.2,314.9 483.7,318.0 484.3,320.1 483.7,321.9 484.0,323.7 483.9,325.8 508.5,312.0 507.5,314.0 508.4,315.9 507.8,319.1 508.2,321.8 507.4,323.8 508.5,326.1 507.4,328.5 573.7,324.0 573.8,325.9 575.0,327.7 579.4,326.0 580.9,327.0" fill="none" stroke="none" marker-start="url(#mo)" marker-mid="url(#mo)" marker-end="url(#mo)"/>
<path d="M64.00,337.70L65.90,336.85L67.79,336.14L69.69,335.54L71.59,335.04L73.48,334.63L75.38,334.28L77.28,333.99L79.17,333.74L81.07,333.54L82.96,333.37L84.86,333.22L86.76,333.10L88.65,333.00L90.55,332.92L92.45,332.85L94.34,332.79L96.24,332.74L98.14,332.70L100.03,332.66L101.93,332.63L103.82,332.61L105.72,332.59L107.62,332.57L109.51,332.55L111.41,332.53L113.31,332.52L115.20,332.50L117.10,332.48L119.00,332.45L120.89,332.41L122.79,332.34L124.69,332.19L126.58,331.73L126.66,331.70L126.73,331.66L126.81,331.62L126.89,331.58L126.96,331.53L127.04,331.48L127.11,331.43L127.19,331.37L127.26,331.30L127.34,331.24L127.42,331.16L127.49,331.08L127.57,330.99L127.64,330.89L127.72,330.79L127.80,330.67L127.87,330.54L127.95,330.39L128.02,330.23L128.10,330.06L128.18,329.85L128.25,329.63L128.33,329.37L128.40,329.08L128.48,328.75L128.55,328.37L128.63,327.91L128.71,327.36L128.78,326.67L128.86,325.75L128.93,324.45L129.01,322.51L129.09,319.52M130.91,319.52L130.98,322.51L131.06,324.45L131.13,325.75L131.21,326.67L131.29,327.36L131.36,327.91L131.44,328.36L131.51,328.75L131.59,329.08L131.66,329.37L131.74,329.63L131.82,329.85L131.89,330.05L131.97,330.23L132.04,330.39L132.12,330.53L132.20,330.66L132.27,330.78L132.35,330.89L132.42,330.99L132.50,331.07L132.57,331.16L132.65,331.23L132.73,331.30L132.80,331.36L132.88,331.42L132.95,331.47L133.03,331.52L133.11,331.57L133.18,331.61L133.26,331.65L133.33,331.69L133.41,331.73L133.49,331.76L133.56,331.79L133.64,331.82L133.71,331.85L133.79,331.87L133.86,331.90L133.94,331.92L134.02,331.94L134.09,331.96L134.17,331.98L134.24,332.00L134.32,332.02L134.40,332.04L134.47,332.05L134.55,332.07L136.44,332.28L138.34,332.37L140.24,332.42L142.13,332.44L144.03,332.46L145.93,332.47L147.82,332.47L149.72,332.48L151.62,332.48L153.51,332.48L155.41,332.49L157.30,332.49L159.20,332.49L161.10,332.49L162.99,332.49L164.89,332.49L166.79,332.49L168.68,332.49L170.58,332.49L172.48,332.49L174.37,332.49L176.27,332.49L178.17,332.50L180.06,332.50L181.96,332.50L183.85,332.50L185.75,332.50L187.65,332.50L189.54,332.50L191.44,332.50L193.34,332.50L195.23,332.50L197.13,332.50L199.03,332.50L200.92,332.50L202.82,332.50L204.72,332.50L206.61,332.50L208.51,332.50L210.40,332.50L212.30,332.50L214.20,332.50L216.09,332.50L217.99,332.50L219.89,332.50L221.78,332.50L223.68,332.50L225.58,332.50L227.47,332.50L229.37,332.50L231.27,332.49L233.16,332.49L235.06,332.49L236.95,332.49L238.85,332.49L240.75,332.49L242.64,332.49L244.54,332.49L246.44,332.49L248.33,332.49L250.23,332.48L252.13,332.48L254.02,332.48L255.92,332.47L257.82,332.45L259.71,332.43L261.61,332.38L263.50,332.22L263.58,332.21L263.66,332.20L263.73,332.18L263.81,332.17L263.88,332.15L263.96,332.13L264.04,332.11L264.11,332.09L264.19,332.07L264.26,332.05L264.34,332.02L264.41,331.99L264.49,331.96L264.57,331.93L264.64,331.89L264.72,331.85L264.79,331.81L264.87,331.76L264.95,331.70L265.02,331.64L265.10,331.57L265.17,331.50L265.25,331.41L265.32,331.31L265.40,331.20L265.48,331.06L265.55,330.91L265.63,330.72L265.70,330.48L265.78,330.17L265.86,329.72L265.93,329.05L266.01,328.03L266.08,326.44L266.16,323.99L266.24,320.36M267.60,320.36L267.68,323.99L267.75,326.43L267.83,328.02L267.90,329.05L267.98,329.71L268.06,330.16L268.13,330.47L268.21,330.71L268.28,330.90L268.36,331.05L268.44,331.19L268.51,331.30L268.59,331.40L268.66,331.48L268.74,331.56L268.81,331.63L268.89,331.69L268.97,331.75L269.04,331.79L269.12,331.84L269.19,331.88L269.27,331.91L269.35,331.95L269.42,331.98L269.50,332.00L269.57,332.03L269.65,332.05L269.72,332.07L269.80,332.09L269.88,332.11L269.95,332.13L270.03,332.14L270.10,332.16L270.18,332.17L270.26,332.18L270.33,332.19L270.41,332.20L270.48,332.21L270.56,332.22L270.63,332.23L270.71,332.24L270.79,332.25L270.86,332.25L270.94,332.26L271.01,332.27L271.09,332.27L271.17,332.28L271.24,332.28L271.32,332.28L271.39,332.29L271.47,332.29L271.55,332.30L271.62,332.30L271.70,332.30L271.77,332.30L271.85,332.31L271.92,332.31L272.00,332.31L272.08,332.31L272.15,332.31L272.23,332.31L272.30,332.31L272.38,332.31L272.46,332.31L272.53,332.31L272.61,332.31L272.68,332.31L272.76,332.31L272.83,332.31L272.91,332.31L272.99,332.31L273.06,332.30L273.14,332.30L273.21,332.30L273.29,332.29L273.37,332.29L273.44,332.29L273.52,332.28L273.59,332.27L273.67,332.27L273.74,332.26L273.82,332.25L273.90,332.24L273.97,332.23L274.05,332.22L274.12,332.21L274.20,332.19L274.28,332.17L274.35,332.15L274.43,332.13L274.50,332.10L274.58,332.07L274.66,332.03L274.73,331.97L274.81,331.89L274.88,331.78L274.96,331.61L275.03,331.37L275.11,331.04L275.19,330.57L275.26,329.93L275.34,329.11L275.41,328.07L275.49,326.82L275.57,325.39L275.64,323.83L275.72,322.24L275.79,320.75L275.87,319.51L275.94,318.67M276.10,318.67L276.17,319.50L276.25,320.74L276.32,322.23L276.40,323.81L276.48,325.36L276.55,326.78L276.63,328.03L276.70,329.06L276.78,329.88L276.86,330.51L276.93,330.97L277.01,331.31L277.08,331.53L277.16,331.69L277.23,331.80L277.31,331.87L277.39,331.92L277.46,331.95L277.54,331.98L277.61,331.99L277.69,332.00L277.77,332.01L277.84,332.01L277.92,332.01L277.99,332.01L278.07,332.00L278.14,331.99L278.22,331.97L278.30,331.96L278.37,331.93L278.45,331.91L278.52,331.87L278.60,331.84L278.68,331.79L278.75,331.72L278.83,331.64L278.90,331.53L278.98,331.38L279.05,331.16L279.13,330.83L279.21,330.36L279.28,329.70L279.36,328.76L279.43,327.50L279.51,325.85L279.59,323.77L279.66,321.28M280.72,321.31L280.80,323.80L280.88,325.88L280.95,327.53L281.03,328.80L281.10,329.74L281.18,330.41L281.25,330.89L281.33,331.21L281.41,331.44L281.48,331.60L281.56,331.72L281.63,331.80L281.71,331.87L281.79,331.93L281.86,331.97L281.94,332.01L282.01,332.05L282.09,332.08L282.17,332.11L282.24,332.13L282.32,332.16L282.39,332.18L282.47,332.20L282.54,332.21L282.62,332.23L282.70,332.24L282.77,332.26L282.85,332.27L282.92,332.28L283.00,332.29L283.08,332.30L283.15,332.31L283.23,332.32L283.30,332.32L283.38,332.33L283.45,332.34L283.53,332.34L283.61,332.35L283.68,332.36L283.76,332.36L283.83,332.37L283.91,332.37L283.99,332.37L284.06,332.38L284.14,332.38L284.21,332.39L284.29,332.39L284.36,332.39L284.44,332.40L284.52,332.40L284.59,332.40L284.67,332.40L284.74,332.41L284.82,332.41L286.72,332.45L288.61,332.46L290.51,332.47L292.41,332.48L294.30,332.48L296.20,332.48L298.10,332.48L299.99,332.48L301.89,332.48L303.78,332.48L305.68,332.48L307.58,332.48L309.47,332.47L311.37,332.47L313.27,332.46L315.16,332.44L317.06,332.42L318.96,332.37L320.85,332.26L322.75,331.90L322.82,331.87L322.90,331.84L322.98,331.81L323.05,331.77L323.13,331.74L323.20,331.69L323.28,331.65L323.36,331.60L323.43,331.54L323.51,331.49L323.58,331.42L323.66,331.35L323.73,331.27L323.81,331.19L323.89,331.09L323.96,330.98L324.04,330.86L324.11,330.73L324.19,330.58L324.27,330.41L324.34,330.22L324.42,330.00L324.49,329.74L324.57,329.44L324.65,329.08L324.72,328.62L324.80,328.00L324.87,327.14L324.95,325.85L325.02,323.87L325.10,320.78M326.77,320.78L326.84,323.87L326.92,325.85L327.00,327.14L327.07,328.00L327.15,328.62L327.22,329.08L327.30,329.44L327.38,329.74L327.45,330.00L327.53,330.22L327.60,330.41L327.68,330.58L327.76,330.73L327.83,330.86L327.91,330.98L327.98,331.09L328.06,331.19L328.13,331.27L328.21,331.35L328.29,331.42L328.36,331.49L328.44,331.54L328.51,331.60L328.59,331.65L328.67,331.69L328.74,331.74L328.82,331.77L328.89,331.81L328.97,331.84L329.04,331.87L329.12,331.90L329.20,331.93L329.27,331.96L329.35,331.98L329.42,332.00L329.50,332.02L329.58,332.04L329.65,332.06L329.73,332.08L329.80,332.09L329.88,332.11L329.96,332.12L330.03,332.14L330.11,332.15L330.18,332.16L330.26,332.17L330.33,332.18L330.41,332.19L330.49,332.20L330.56,332.21L332.46,332.35L334.35,332.41L336.25,332.44L338.15,332.45L340.04,332.46L341.94,332.47L343.84,332.47L345.73,332.47L347.63,332.47L349.53,332.47L351.42,332.46L353.32,332.42L353.39,332.42L353.47,332.42L353.55,332.42L353.62,332.41L353.70,332.41L353.77,332.41L353.85,332.40L353.93,332.40L354.00,332.40L354.08,332.39L354.15,332.39L354.23,332.38L354.31,332.38L354.38,332.37L354.46,332.37L354.53,332.36L354.61,332.36L354.68,332.35L354.76,332.34L354.84,332.33L354.91,332.32L354.99,332.31L355.06,332.30L355.14,332.29L355.22,332.28L355.29,332.27L355.37,332.25L355.44,332.23L355.52,332.21L355.59,332.19L355.67,332.17L355.75,332.15L355.82,332.12L355.90,332.08L355.97,332.04L356.05,332.00L356.13,331.94L356.20,331.87L356.28,331.77L356.35,331.64L356.43,331.45L356.51,331.18L356.58,330.78L356.66,330.21L356.73,329.43L356.81,328.37L356.88,326.98L356.96,325.24L357.04,323.14L357.11,320.74M358.02,320.74L358.10,323.14L358.17,325.24L358.25,326.98L358.33,328.37L358.40,329.43L358.48,330.22L358.55,330.78L358.63,331.18L358.70,331.45L358.78,331.64L358.86,331.77L358.93,331.87L359.01,331.94L359.08,332.00L359.16,332.05L359.24,332.08L359.31,332.12L359.39,332.15L359.46,332.17L359.54,332.20L359.62,332.22L359.69,332.24L359.77,332.25L359.84,332.27L359.92,332.28L359.99,332.29L360.07,332.31L360.15,332.32L360.22,332.33L360.30,332.33L360.37,332.34L360.45,332.35L360.53,332.36L360.60,332.36L360.68,332.37L360.75,332.38L360.83,332.38L360.90,332.39L360.98,332.39L361.06,332.40L361.13,332.40L361.21,332.40L361.28,332.41L361.36,332.41L361.44,332.41L361.51,332.42L361.59,332.42L361.66,332.42L361.74,332.42L361.82,332.43L361.89,332.43L361.97,332.43L362.04,332.43L362.12,332.44L362.19,332.44L364.09,332.47L365.99,332.48L367.88,332.48L369.78,332.49L371.68,332.49L373.57,332.49L375.47,332.49L377.37,332.49L379.26,332.49L381.16,332.49L383.06,332.49L384.95,332.49L386.85,332.49L388.74,332.50L390.64,332.50L392.54,332.50L394.43,332.50L396.33,332.50L398.23,332.50L400.12,332.50L402.02,332.50L403.92,332.50L405.81,332.49L407.71,332.49L409.61,332.49L411.50,332.49L413.40,332.49L415.29,332.49L417.19,332.49L419.09,332.49L420.98,332.49L422.88,332.48L424.78,332.47L426.67,332.46L428.57,332.42L428.65,332.42L428.72,332.42L428.80,332.41L428.87,332.41L428.95,332.41L429.02,332.40L429.10,332.40L429.18,332.40L429.25,332.39L429.33,332.39L429.40,332.38L429.48,332.38L429.56,332.37L429.63,332.37L429.71,332.36L429.78,332.35L429.86,332.35L429.93,332.34L430.01,332.33L430.09,332.32L430.16,332.32L430.24,332.31L430.31,332.30L430.39,332.29L430.47,332.27L430.54,332.26L430.62,332.25L430.69,332.23L430.77,332.21L430.85,332.19L430.92,332.17L431.00,332.15L431.07,332.12L431.15,332.09L431.22,332.06L431.30,332.02L431.38,331.97L431.45,331.91L431.53,331.84L431.60,331.74L431.68,331.61L431.76,331.42L431.83,331.17L431.91,330.83L431.98,330.36L432.06,329.75L432.13,328.95L432.21,327.93L432.29,326.68L432.36,325.18L432.44,323.44L432.51,321.50L432.59,319.41M433.50,319.41L433.58,321.50L433.65,323.44L433.73,325.18L433.80,326.68L433.88,327.93L433.96,328.95L434.03,329.75L434.11,330.36L434.18,330.83L434.26,331.17L434.33,331.42L434.41,331.60L434.49,331.74L434.56,331.84L434.64,331.91L434.71,331.97L434.79,332.02L434.87,332.06L434.94,332.09L435.02,332.12L435.09,332.15L435.17,332.17L435.24,332.19L435.32,332.21L435.40,332.23L435.47,332.25L435.55,332.26L435.62,332.27L435.70,332.28L435.78,332.30L435.85,332.31L435.93,332.32L436.00,332.32L436.08,332.33L436.16,332.34L436.23,332.35L436.31,332.35L436.38,332.36L436.46,332.37L436.53,332.37L436.61,332.38L436.69,332.38L436.76,332.39L436.84,332.39L436.91,332.39L436.99,332.40L437.07,332.40L437.14,332.41L437.22,332.41L437.29,332.41L437.37,332.41L437.44,332.42L437.52,332.42L437.60,332.42L437.67,332.42L439.57,332.46L441.47,332.47L443.36,332.48L445.26,332.48L447.15,332.49L449.05,332.49L450.95,332.49L452.84,332.49L454.74,332.49L456.64,332.49L458.53,332.49L460.43,332.48L462.33,332.48L464.22,332.48L466.12,332.47L468.02,332.46L469.91,332.44L471.81,332.41L473.70,332.31L473.78,332.31L473.86,332.30L473.93,332.29L474.01,332.28L474.08,332.28L474.16,332.27L474.24,332.26L474.31,332.25L474.39,332.23L474.46,332.22L474.54,332.21L474.61,332.20L474.69,332.18L474.77,332.16L474.84,332.15L474.92,332.13L474.99,332.11L475.07,332.08L475.15,332.06L475.22,332.03L475.30,332.00L475.37,331.97L475.45,331.93L475.52,331.89L475.60,331.84L475.68,331.78L475.75,331.71L475.83,331.63L475.90,331.52L475.98,331.38L476.06,331.19L476.13,330.93L476.21,330.58L476.28,330.09L476.36,329.44L476.44,328.57L476.51,327.44L476.59,326.01L476.66,324.24L476.74,322.12L476.81,319.67M478.03,319.64L478.10,322.08L478.18,324.20L478.26,325.96L478.33,327.39L478.41,328.51L478.48,329.38L478.56,330.03L478.64,330.51L478.71,330.86L478.79,331.11L478.86,331.29L478.94,331.43L479.01,331.53L479.09,331.61L479.17,331.67L479.24,331.72L479.32,331.76L479.39,331.80L479.47,331.83L479.55,331.85L479.62,331.87L479.70,331.89L479.77,331.90L479.85,331.92L479.92,331.93L480.00,331.93L480.08,331.94L480.15,331.94L480.23,331.94L480.30,331.94L480.38,331.94L480.46,331.93L480.53,331.92L480.61,331.91L480.68,331.90L480.76,331.88L480.83,331.86L480.91,331.84L480.99,331.81L481.06,331.78L481.14,331.75L481.21,331.71L481.29,331.66L481.37,331.60L481.44,331.53L481.52,331.44L481.59,331.33L481.67,331.17L481.75,330.96L481.82,330.68L481.90,330.28L481.97,329.74L482.05,329.00L482.12,328.03L482.20,326.76L482.28,325.14L482.35,323.15L482.43,320.76M483.79,320.80L483.87,323.18L483.95,325.18L484.02,326.80L484.10,328.08L484.17,329.06L484.25,329.80L484.32,330.34L484.40,330.74L484.48,331.03L484.55,331.25L484.63,331.41L484.70,331.53L484.78,331.62L484.86,331.70L484.93,331.76L485.01,331.82L485.08,331.87L485.16,331.91L485.23,331.95L485.31,331.98L485.39,332.01L485.46,332.04L485.54,332.06L485.61,332.09L485.69,332.11L485.77,332.13L485.84,332.15L485.92,332.16L485.99,332.18L486.07,332.19L486.14,332.21L486.22,332.22L486.30,332.23L486.37,332.24L486.45,332.25L486.52,332.26L486.60,332.27L486.68,332.28L486.75,332.29L486.83,332.30L486.90,332.30L486.98,332.31L487.06,332.32L487.13,332.32L487.21,332.33L487.28,332.33L487.36,332.34L487.43,332.34L487.51,332.35L487.59,332.35L487.66,332.36L487.74,332.36L489.63,332.42L491.53,332.45L493.43,332.46L495.32,332.47L497.22,332.47L499.12,332.47L501.01,332.46L502.91,332.43L504.81,332.34L504.88,332.33L504.96,332.32L505.03,332.31L505.11,332.30L505.19,332.29L505.26,332.28L505.34,332.27L505.41,332.25L505.49,332.24L505.56,332.22L505.64,332.20L505.72,332.18L505.79,332.16L505.87,332.13L505.94,332.10L506.02,332.07L506.10,332.03L506.17,331.98L506.25,331.91L506.32,331.82L506.40,331.70L506.47,331.54L506.55,331.32L506.63,331.01L506.70,330.60L506.78,330.06L506.85,329.35L506.93,328.44L507.01,327.33L507.08,326.00L507.16,324.46L507.23,322.74L507.31,320.89L507.39,318.99M508.14,318.99L508.22,320.89L508.30,322.74L508.37,324.46L508.45,326.00L508.52,327.33L508.60,328.45L508.67,329.35L508.75,330.06L508.83,330.60L508.90,331.01L508.98,331.32L509.05,331.54L509.13,331.70L509.21,331.82L509.28,331.91L509.36,331.98L509.43,332.03L509.51,332.07L509.58,332.11L509.66,332.14L509.74,332.16L509.81,332.19L509.89,332.21L509.96,332.22L510.04,332.24L510.12,332.26L510.19,332.27L510.27,332.28L510.34,332.29L510.42,332.31L510.50,332.32L510.57,332.32L510.65,332.33L510.72,332.34L510.80,332.35L510.87,332.36L510.95,332.36L511.03,332.37L511.10,332.37L511.18,332.38L511.25,332.38L511.33,332.39L511.41,332.39L511.48,332.40L511.56,332.40L511.63,332.40L511.71,332.41L511.78,332.41L511.86,332.41L511.94,332.42L512.01,332.42L512.09,332.42L512.16,332.42L512.24,332.43L512.32,332.43L514.21,332.46L516.11,332.48L518.01,332.48L519.90,332.49L521.80,332.49L523.69,332.49L525.59,332.49L527.49,332.49L529.38,332.49L531.28,332.49L533.18,332.49L535.07,332.49L536.97,332.49L538.87,332.49L540.76,332.49L542.66,332.49L544.56,332.49L546.45,332.49L548.35,332.49L550.24,332.49L552.14,332.49L554.04,332.49L555.93,332.49L557.83,332.49L559.73,332.49L561.62,332.48L563.52,332.48L565.42,332.47L567.31,332.45L569.21,332.42L571.11,332.34L571.18,332.33L571.26,332.33L571.33,332.32L571.41,332.31L571.48,332.30L571.56,332.29L571.64,332.28L571.71,332.27L571.79,332.26L571.86,332.24L571.94,332.22L572.02,332.20L572.09,332.18L572.17,332.15L572.24,332.11L572.32,332.07L572.39,332.02L572.47,331.95L572.55,331.88L572.62,331.79L572.70,331.69L572.77,331.56L572.85,331.42L572.93,331.25L573.00,331.05L573.08,330.83L573.15,330.58L573.23,330.30L573.30,329.98L573.38,329.64L573.46,329.27L573.53,328.87L573.61,328.45L573.68,328.01L573.76,327.56L573.84,327.10L573.91,326.65L573.99,326.21L574.06,325.80L574.14,325.42L574.22,325.08L574.29,324.81L574.37,324.60L574.44,324.48L574.52,324.43L574.59,324.47L574.67,324.60L574.75,324.80L574.82,325.07L574.90,325.40L574.97,325.78L575.05,326.19L575.13,326.62L575.20,327.07L575.28,327.52L575.35,327.97L575.43,328.40L575.50,328.82L575.58,329.21L575.66,329.58L575.73,329.92L575.81,330.23L575.88,330.51L575.96,330.75L576.04,330.97L576.11,331.16L576.19,331.32L576.26,331.46L576.34,331.57L576.42,331.67L576.49,331.75L576.57,331.81L576.64,331.86L576.72,331.90L576.79,331.93L576.87,331.94L576.95,331.95L577.02,331.96L577.10,331.95L577.17,331.94L577.25,331.91L577.33,331.89L577.40,331.85L577.48,331.80L577.55,331.75L577.63,331.69L577.70,331.61L577.78,331.52L577.86,331.42L577.93,331.31L578.01,331.19L578.08,331.05L578.16,330.89L578.24,330.72L578.31,330.54L578.39,330.34L578.46,330.12L578.54,329.90L578.61,329.66L578.69,329.41L578.77,329.15L578.84,328.88L578.92,328.61L578.99,328.34L579.07,328.08L579.15,327.82L579.22,327.56L579.30,327.33L579.37,327.11L579.45,326.92L579.53,326.75L579.60,326.62L579.68,326.52L579.75,326.46L579.83,326.44L579.90,326.46L579.98,326.53L580.06,326.63L580.13,326.76L580.21,326.93L580.28,327.13L580.36,327.35L580.44,327.59L580.51,327.84L580.59,328.11L580.66,328.38L580.74,328.65L580.81,328.93L580.89,329.20L580.97,329.46L581.04,329.71L581.12,329.96L581.19,330.19L581.27,330.41L581.35,330.61L581.42,330.80L581.50,330.98L581.57,331.14L581.65,331.28L581.73,331.41L581.80,331.53L581.88,331.64L581.95,331.73L582.03,331.82L582.10,331.89L582.18,331.95L582.26,332.01L582.33,332.06L582.41,332.10L582.48,332.14L582.56,332.17L582.64,332.20L582.71,332.22L582.79,332.24L582.86,332.26L582.94,332.27L583.01,332.29L583.09,332.30L583.17,332.31L583.24,332.32L583.32,332.33L583.39,332.33L583.47,332.34L583.55,332.35L583.62,332.35L583.70,332.36L583.77,332.36L583.85,332.37L583.92,332.37L584.00,332.38L584.08,332.38L584.15,332.38L584.23,332.39L584.30,332.39L584.38,332.39L586.28,332.44L588.17,332.46L590.07,332.47L591.97,332.48L593.86,332.48" fill="none" stroke="#5a0000" stroke-width="1.1"/>
<path d="M129.09,319.52L129.16,314.88L129.24,307.75L129.31,297.15L129.39,282.06L129.46,261.66L129.54,235.69L129.62,204.75L129.69,170.58L129.77,136.23L129.84,105.93L129.92,84.71L130.00,77.01L130.07,84.71L130.15,105.93L130.22,136.23L130.30,170.58L130.38,204.75L130.45,235.69L130.53,261.66L130.60,282.06L130.68,297.15L130.75,307.75L130.83,314.88L130.91,319.52M266.24,320.36L266.31,315.19L266.39,308.19L266.46,299.29L266.54,288.68L266.61,276.96L266.69,265.18L266.77,254.80L266.84,247.52L266.92,244.88L266.99,247.52L267.07,254.80L267.15,265.18L267.22,276.96L267.30,288.67L267.37,299.28L267.45,308.19L267.52,315.18L267.60,320.36M275.94,318.67L276.02,318.38L276.10,318.67M279.66,321.28L279.74,318.42L279.81,315.32L279.89,312.15L279.97,309.17L280.04,306.69L280.12,305.03L280.19,304.44L280.27,305.03L280.34,306.70L280.42,309.18L280.50,312.16L280.57,315.34L280.65,318.44L280.72,321.31M325.10,320.78L325.18,316.05L325.25,309.01L325.33,298.99L325.40,285.44L325.48,268.19L325.56,247.64L325.63,224.95L325.71,202.13L325.78,182.01L325.86,167.91L325.93,162.80L326.01,167.91L326.09,182.01L326.16,202.13L326.24,224.95L326.31,247.64L326.39,268.19L326.47,285.44L326.54,298.99L326.62,309.01L326.69,316.05L326.77,320.78M357.11,320.74L357.19,318.13L357.26,315.47L357.34,312.97L357.42,310.89L357.49,309.49L357.57,308.99L357.64,309.49L357.72,310.89L357.79,312.97L357.87,315.47L357.95,318.13L358.02,320.74M432.59,319.41L432.67,317.27L432.74,315.19L432.82,313.32L432.89,311.82L432.97,310.84L433.04,310.50L433.12,310.84L433.20,311.82L433.27,313.32L433.35,315.19L433.42,317.27L433.50,319.41M476.81,319.67L476.89,316.93L476.97,313.99L477.04,310.97L477.12,308.04L477.19,305.41L477.27,303.29L477.35,301.90L477.42,301.42L477.50,301.90L477.57,303.28L477.65,305.40L477.72,308.03L477.80,310.95L477.88,313.97L477.95,316.90L478.03,319.64M482.43,320.76L482.50,318.00L482.58,314.91L482.66,311.60L482.73,308.19L482.81,304.89L482.88,301.92L482.96,299.53L483.03,297.97L483.11,297.43L483.19,297.97L483.26,299.54L483.34,301.93L483.41,304.91L483.49,308.21L483.57,311.62L483.64,314.94L483.72,318.03L483.79,320.80M507.39,318.99L507.46,317.15L507.54,315.50L507.61,314.16L507.69,313.29L507.76,312.99L507.84,313.30L507.92,314.16L507.99,315.50L508.07,317.15L508.14,318.99" fill="none" stroke="#222" stroke-width="0.8"/>
</g>
<line x1="129.7" y1="364" x2="129.7" y2="374"/>
<line x1="266.6" y1="364" x2="266.6" y2="374"/>
<line x1="275.3" y1="364" x2="275.3" y2="374"/>
<line x1="280.1" y1="364" x2="280.1" y2="374"/>
<line x1="326.3" y1="364" x2="326.3" y2="374"/>
<line x1="357.5" y1="364" x2="357.5" y2="374"/>
<line x1="430.7" y1="364" x2="430.7" y2="374"/>
<line x1="433.7" y1="364" x2="433.7" y2="374"/>
<line x1="476.7" y1="364" x2="476.7" y2="374"/>
<line x1="481.0" y1="364" x2="481.0" y2="374"/>
<line x1="483.5" y1="364" x2="483.5" y2="374"/>
<line x1="506.5" y1="364" x2="506.5" y2="374"/>
<line x1="508.7" y1="364" x2="508.7" y2="374"/>
<line x1="574.0" y1="364" x2="574.0" y2="374"/>
<line x1="578.8" y1="364" x2="578.8" y2="374"/>
<line x1="580.6" y1="364" x2="580.6" y2="374"/>
<line x1="582.3" y1="364" x2="582.3" y2="374"/>
<line x1="583.9" y1="364" x2="583.9" y2="374"/>
<path d="M64.0,419.8 L64.9,419.0 L65.8,418.9 L66.7,418.0 L67.6,419.4 L68.6,418.0 L69.5,419.6 L70.4,418.7 L71.3,418.2 L72.2,419.9 L73.1,418.4 L74.0,418.8 L74.9,418.9 L75.8,418.1 L76.7,419.3 L77.7,418.2 L78.6,418.9 L79.5,418.3 L80.4,419.9 L81.3,419.0 L82.2,419.9 L83.1,418.7 L84.0,419.1 L84.9,419.3 L85.8,419.0 L86.8,418.8 L87.7,419.7 L88.6,419.2 L89.5,419.0 L90.4,419.5 L91.3,417.5 L92.2,418.4 L93.1,419.3 L94.0,418.8 L94.9,418.8 L95.9,418.1 L96.8,418.8 L97.7,419.8 L98.6,418.7 L99.5,418.4 L100.4,418.8 L101.3,419.6 L102.2,418.6 L103.1,418.0 L104.1,419.1 L105.0,418.8 L105.9,419.1 L106.8,418.0 L107.7,418.3 L108.6,418.8 L109.5,419.2 L110.4,420.0 L111.3,419.8 L112.2,419.7 L113.2,419.6 L114.1,419.6 L115.0,419.4 L115.9,419.4 L116.8,418.8 L117.7,418.7 L118.6,419.8 L119.5,418.3 L120.4,418.7 L121.3,418.9 L122.3,419.1 L123.2,418.6 L124.1,418.7 L125.0,418.5 L125.9,418.6 L126.8,418.8 L127.7,420.5 L128.6,418.3 L129.5,420.4 L129.8,384.0 L130.2,448.0 L130.5,418.3 L130.6,417.0 L131.4,419.1 L132.3,419.0 L133.2,419.4 L134.1,418.8 L135.0,418.4 L135.9,418.7 L136.8,418.8 L137.7,418.1 L138.6,418.9 L139.6,419.1 L140.5,418.1 L141.4,418.2 L142.3,419.5 L143.2,418.4 L144.1,418.6 L145.0,418.6 L145.9,418.6 L146.8,419.3 L147.7,419.1 L148.7,420.2 L149.6,418.8 L150.5,419.2 L151.4,418.6 L152.3,419.6 L153.2,418.1 L154.1,418.5 L155.0,418.9 L155.9,420.5 L156.8,420.3 L157.8,420.2 L158.7,419.0 L159.6,418.1 L160.5,419.3 L161.4,419.6 L162.3,418.6 L163.2,420.2 L164.1,420.2 L165.0,418.0 L166.0,418.8 L166.9,418.8 L167.8,418.8 L168.7,418.9 L169.6,419.0 L170.5,418.8 L171.4,420.5 L172.3,418.7 L173.2,418.3 L174.1,419.7 L175.1,419.6 L176.0,418.3 L176.9,418.5 L177.8,418.5 L178.7,417.7 L179.6,418.2 L180.5,419.3 L181.4,418.2 L182.3,418.9 L183.2,418.8 L184.2,418.7 L185.1,419.3 L186.0,419.1 L186.9,419.7 L187.8,419.2 L188.7,418.6 L189.6,420.0 L190.5,419.2 L191.4,419.3 L192.4,419.2 L193.3,418.8 L194.2,418.4 L195.1,419.7 L196.0,418.6 L196.9,418.8 L197.8,419.5 L198.7,419.6 L199.6,419.0 L200.5,420.2 L201.5,418.9 L202.4,420.4 L203.3,419.8 L204.2,419.1 L205.1,418.9 L206.0,419.7 L206.9,418.0 L207.8,419.4 L208.7,419.4 L209.6,419.9 L210.6,419.8 L211.5,419.2 L212.4,419.3 L213.3,418.4 L214.2,419.3 L215.1,418.5 L216.0,418.2 L216.9,420.0 L217.8,420.1 L218.7,418.9 L219.7,419.2 L220.6,420.4 L221.5,418.2 L222.4,419.9 L223.3,418.8 L224.2,419.4 L225.1,419.0 L226.0,419.9 L226.9,419.7 L227.9,418.9 L228.8,419.7 L229.7,419.6 L230.6,419.8 L231.5,418.4 L232.4,419.5 L233.3,419.0 L234.2,419.2 L235.1,418.1 L236.0,420.3 L237.0,419.0 L237.9,419.3 L238.8,418.1 L239.7,418.9 L240.6,419.1 L241.5,419.1 L242.4,418.3 L243.3,419.2 L244.2,418.8 L245.1,419.5 L246.1,418.3 L247.0,419.7 L247.9,418.4 L248.8,418.3 L249.7,419.3 L250.6,419.4 L251.5,419.3 L252.4,418.7 L253.3,418.8 L254.2,418.5 L255.2,419.7 L256.1,417.9 L257.0,418.3 L257.9,418.3 L258.8,419.3 L259.7,418.1 L260.6,419.5 L261.5,418.0 L262.4,418.0 L263.4,419.2 L264.3,419.2 L265.2,418.8 L266.1,419.8 L266.7,406.0 L267.0,418.7 L267.1,426.0 L267.5,417.0 L267.9,418.7 L268.8,418.9 L269.7,419.8 L270.6,418.9 L271.5,420.1 L272.5,419.8 L273.4,419.7 L274.3,419.5 L275.2,419.8 L276.1,419.3 L277.0,417.6 L277.9,419.1 L278.8,418.9 L279.7,418.3 L280.0,415.0 L280.4,422.0 L280.6,417.9 L280.8,417.0 L281.6,419.1 L282.5,418.3 L283.4,419.0 L284.3,418.5 L285.2,419.2 L286.1,418.4 L287.0,419.1 L287.9,419.0 L288.8,418.7 L289.8,418.8 L290.7,419.2 L291.6,417.5 L292.5,417.9 L293.4,419.1 L294.3,419.0 L295.2,419.1 L296.1,419.2 L297.0,418.4 L297.9,419.8 L298.9,419.5 L299.8,419.2 L300.7,418.9 L301.6,418.6 L302.5,418.6 L303.4,419.2 L304.3,419.1 L305.2,419.5 L306.1,419.1 L307.0,418.7 L308.0,419.7 L308.9,418.2 L309.8,418.2 L310.7,419.2 L311.6,418.7 L312.5,418.1 L313.4,418.1 L314.3,419.0 L315.2,419.8 L316.1,419.8 L317.1,418.9 L318.0,418.8 L318.9,418.5 L319.8,420.1 L320.7,418.9 L321.6,418.8 L322.5,419.5 L323.4,419.7 L324.3,419.0 L325.3,419.7 L325.7,404.0 L326.2,418.2 L326.2,425.0 L326.5,417.0 L327.1,419.3 L328.0,419.4 L328.9,419.2 L329.8,419.4 L330.7,419.1 L331.6,419.3 L332.5,417.7 L333.4,418.6 L334.4,419.5 L335.3,418.3 L336.2,418.5 L337.1,420.2 L338.0,419.0 L338.9,419.2 L339.8,419.2 L340.7,420.0 L341.6,418.8 L342.5,418.5 L343.5,419.2 L344.4,419.8 L345.3,417.9 L346.2,418.9 L347.1,418.8 L348.0,419.1 L348.9,419.4 L349.8,419.2 L350.7,418.1 L351.7,418.9 L352.6,418.9 L353.5,419.0 L354.4,419.6 L355.3,418.8 L356.2,418.6 L357.1,418.9 L358.0,419.0 L358.9,419.4 L359.8,418.0 L360.8,418.2 L361.7,419.0 L362.6,419.6 L363.5,419.0 L364.4,419.1 L365.3,420.0 L366.2,419.1 L367.1,419.2 L368.0,419.0 L368.9,419.6 L369.9,419.3 L370.8,418.8 L371.7,419.4 L372.6,419.3 L373.5,418.7 L374.4,419.4 L375.3,420.2 L376.2,418.3 L377.1,418.4 L378.0,418.9 L379.0,418.9 L379.9,419.1 L380.8,419.0 L381.7,419.1 L382.6,419.7 L383.5,419.8 L384.4,417.8 L385.3,419.3 L386.2,419.0 L387.2,419.3 L388.1,419.0 L389.0,419.2 L389.9,418.9 L390.8,418.6 L391.7,418.9 L392.6,419.5 L393.5,419.0 L394.4,419.0 L395.3,419.7 L396.3,419.5 L397.2,418.5 L398.1,418.5 L399.0,418.9 L399.9,419.3 L400.8,419.6 L401.7,418.0 L402.6,419.8 L403.5,419.0 L404.4,419.1 L405.4,419.5 L406.3,419.2 L407.2,419.1 L408.1,419.6 L409.0,419.7 L409.9,418.3 L410.8,418.1 L411.7,418.4 L412.6,419.2 L413.5,418.8 L414.5,418.9 L415.4,418.7 L416.3,418.5 L417.2,419.3 L418.1,419.0 L419.0,419.2 L419.9,419.3 L420.8,419.9 L421.7,420.3 L422.7,418.7 L423.6,419.8 L424.5,419.1 L425.4,419.3 L426.3,419.7 L427.2,418.7 L428.1,418.9 L429.0,419.6 L429.9,419.4 L430.8,420.1 L431.8,419.4 L432.7,419.1 L433.6,418.9 L434.5,419.4 L435.4,417.9 L436.3,419.8 L437.2,419.2 L438.1,418.6 L439.0,419.1 L439.9,419.3 L440.9,418.3 L441.8,419.5 L442.7,417.7 L443.6,419.9 L444.5,418.8 L445.4,419.2 L446.3,418.8 L447.2,418.6 L448.1,419.6 L449.1,418.4 L450.0,419.0 L450.9,419.3 L451.8,418.3 L452.7,419.4 L453.6,418.5 L454.5,419.5 L455.4,418.8 L456.3,419.8 L457.2,419.0 L458.2,418.4 L459.1,419.6 L460.0,419.7 L460.9,419.6 L461.8,418.1 L462.7,418.4 L463.6,419.6 L464.5,419.3 L465.4,418.8 L466.3,418.9 L467.3,419.1 L468.2,417.7 L469.1,418.3 L470.0,418.3 L470.9,419.6 L471.8,418.8 L472.7,417.7 L473.6,418.9 L474.5,418.8 L475.4,418.6 L476.4,418.1 L477.3,418.5 L478.2,419.2 L479.1,418.7 L480.0,419.5 L480.9,419.8 L481.8,418.8 L482.5,414.0 L482.7,418.1 L483.0,422.0 L483.3,417.0 L483.6,418.4 L484.6,419.0 L485.5,419.4 L486.4,418.9 L487.3,419.0 L488.2,419.1 L489.1,419.7 L490.0,419.4 L490.9,418.8 L491.8,418.6 L492.7,419.0 L493.7,418.6 L494.6,418.4 L495.5,419.6 L496.4,419.1 L497.3,418.4 L498.2,419.2 L499.1,418.4 L500.0,418.4 L500.9,418.0 L501.8,418.3 L502.8,418.7 L503.7,419.1 L504.6,418.9 L505.5,419.2 L506.4,419.0 L507.3,418.7 L508.2,419.7 L509.1,418.3 L510.0,418.4 L511.0,420.2 L511.9,419.1 L512.8,419.1 L513.7,420.5 L514.6,418.3 L515.5,420.0 L516.4,419.0 L517.3,418.9 L518.2,418.4 L519.1,419.0 L520.1,419.4 L521.0,419.0 L521.9,418.7 L522.8,419.2 L523.7,419.7 L524.6,419.0 L525.5,418.7 L526.4,418.8 L527.3,419.2 L528.2,418.6 L529.2,419.8 L530.1,418.7 L531.0,419.6 L531.9,418.9 L532.8,419.4 L533.7,418.3 L534.6,418.9 L535.5,418.4 L536.4,418.5 L537.3,419.0 L538.3,418.3 L539.2,420.2 L540.1,420.0 L541.0,419.5 L541.9,419.0 L542.8,418.6 L543.7,418.0 L544.6,419.5 L545.5,418.3 L546.5,419.0 L547.4,418.6 L548.3,419.0 L549.2,420.0 L550.1,418.9 L551.0,418.9 L551.9,419.5 L552.8,418.7 L553.7,417.8 L554.6,418.5 L555.6,418.8 L556.5,418.5 L557.4,419.6 L558.3,419.7 L559.2,418.4 L560.1,419.0 L561.0,419.1 L561.9,418.7 L562.8,418.6 L563.7,419.3 L564.7,418.8 L565.6,420.1 L566.5,419.0 L567.4,419.0 L568.3,419.1 L569.2,419.1 L570.1,418.7 L571.0,419.3 L571.9,419.5 L572.8,419.1 L573.8,419.2 L574.7,418.2 L575.6,418.7 L576.5,419.0 L577.4,418.8 L578.3,419.6 L579.2,419.2 L580.1,419.0 L581.0,418.6 L582.0,418.8 L582.9,418.8 L583.8,420.0 L584.7,418.3 L585.6,419.5 L586.5,418.8 L587.4,420.0 L588.3,419.5 L589.2,418.5 L590.1,419.2 L591.1,418.2 L592.0,419.4 L592.9,418.9 L593.8,418.4 L594.7,419.0" fill="none" stroke="#0000ff" stroke-width="1.5"/>
</g>
<rect x="64.2" y="25.9" width="530.7" height="432.4" fill="none" stroke="#1a1a1a" stroke-width="1.8"/>
<line x1="64.0" y1="458" x2="64.0" y2="466" stroke="#111" stroke-width="2"/>
<text x="64.0" y="490" text-anchor="middle" font-size="23.3" fill="#333">10</text>
<line x1="101.9" y1="458" x2="101.9" y2="462" stroke="#111" stroke-width="2"/>
<line x1="139.9" y1="458" x2="139.9" y2="466" stroke="#111" stroke-width="2"/>
<text x="139.9" y="490" text-anchor="middle" font-size="23.3" fill="#333">20</text>
<line x1="177.8" y1="458" x2="177.8" y2="462" stroke="#111" stroke-width="2"/>
<line x1="215.7" y1="458" x2="215.7" y2="466" stroke="#111" stroke-width="2"/>
<text x="215.7" y="490" text-anchor="middle" font-size="23.3" fill="#333">30</text>
<line x1="253.6" y1="458" x2="253.6" y2="462" stroke="#111" stroke-width="2"/>
<line x1="291.6" y1="458" x2="291.6" y2="466" stroke="#111" stroke-width="2"/>
<text x="291.6" y="490" text-anchor="middle" font-size="23.3" fill="#333">40</text>
<line x1="329.5" y1="458" x2="329.5" y2="462" stroke="#111" stroke-width="2"/>
<line x1="367.4" y1="458" x2="367.4" y2="466" stroke="#111" stroke-width="2"/>
<text x="367.4" y="490" text-anchor="middle" font-size="23.3" fill="#333">50</text>
<line x1="405.4" y1="458" x2="405.4" y2="462" stroke="#111" stroke-width="2"/>
<line x1="443.3" y1="458" x2="443.3" y2="466" stroke="#111" stroke-width="2"/>
<text x="443.3" y="490" text-anchor="middle" font-size="23.3" fill="#333">60</text>
<line x1="481.2" y1="458" x2="481.2" y2="462" stroke="#111" stroke-width="2"/>
<line x1="519.1" y1="458" x2="519.1" y2="466" stroke="#111" stroke-width="2"/>
<text x="519.1" y="490" text-anchor="middle" font-size="23.3" fill="#333">70</text>
<line x1="557.1" y1="458" x2="557.1" y2="462" stroke="#111" stroke-width="2"/>
<line x1="595.0" y1="458" x2="595.0" y2="466" stroke="#111" stroke-width="2"/>
<text x="595.0" y="490" text-anchor="middle" font-size="23.3" fill="#333">80</text>
<text x="327.8" y="534.1" text-anchor="middle" font-size="30.5" fill="#222">2 theta / degree</text>
<text transform="translate(39.0,241.5) rotate(-90)" text-anchor="middle" font-size="31" fill="#222">Intensity / a.u.</text>
<circle cx="438.7" cy="44" r="4" fill="none" stroke="#e02020" stroke-width="1"/>
<line x1="417.0" y1="68.6" x2="461.0" y2="68.6" stroke="#555" stroke-width="1.2"/>
<line x1="417.0" y1="94.4" x2="461.0" y2="94.4" stroke="#3030ee" stroke-width="1.2"/>
<line x1="439.0" y1="115" x2="439.0" y2="123.5" stroke="#4a8a4a" stroke-width="1.2"/>
<text x="467.0" y="50.0" font-family='"Liberation Sans", sans-serif' font-size="20.4" fill="#222">Yobs</text>
<text x="467.0" y="75.0" font-family='"Liberation Sans", sans-serif' font-size="20.4" fill="#222">Ycalc</text>
<text x="467.0" y="100.0" font-family='"Liberation Sans", sans-serif' font-size="20.4" fill="#222">Yobs-Ycalc</text>
<text x="467.0" y="124.5" font-family='"Liberation Sans", sans-serif' font-size="20.4" fill="#222" textLength="125.5" lengthAdjust="spacingAndGlyphs">Bragg position</text>
<text x="503.8" y="180.8" font-size="29.2" fill="#222">NMC</text>
<text transform="translate(158.2,74.0) rotate(-90)" font-size="20.4" font-weight="bold" fill="#111">(003)</text>
<text transform="translate(271.2,221.0) rotate(-90)" font-size="20.4" font-weight="bold" fill="#111">(101)</text>
<text transform="translate(297.2,296.5) rotate(-90)" font-size="20.4" font-weight="bold" fill="#111">(006)/(102)</text>
<text transform="translate(333.7,142.8) rotate(-90)" font-size="20.4" font-weight="bold" fill="#111">(104)</text>
<text transform="translate(366.2,291.4) rotate(-90)" font-size="20.4" font-weight="bold" fill="#111">(105)</text>
<text transform="translate(440.2,300.3) rotate(-90)" font-size="20.4" font-weight="bold" fill="#111">(107)</text>
<text transform="translate(485.8,282.8) rotate(-90)" font-size="20.4" font-weight="bold" fill="#111">(108)/(110)</text>
<text transform="translate(512.9,299.5) rotate(-90)" font-size="20.4" font-weight="bold" fill="#111">(113)</text>
<text transform="translate(582.4,317.3) rotate(-90)" font-size="20.4" font-weight="bold" fill="#111">(021)/(116)</text>
<g stroke="#3a863a" stroke-width="2">
<g clip-path="url(#clip2)">
<polyline points="675.0,351.3 675.3,348.8 675.5,349.5 675.8,349.2 676.1,349.5 676.3,347.7 676.6,348.3 676.9,347.9 677.1,347.5 677.4,347.6 677.6,347.7 677.9,347.7 678.2,347.2 678.4,348.0 678.7,347.2 679.0,345.7 679.2,348.3 679.5,347.0 679.8,346.6 680.0,347.2 680.3,347.1 680.6,346.9 680.8,346.1 681.1,346.8 681.4,345.4 681.6,347.5 681.9,345.4 682.2,346.1 682.4,346.2 682.7,346.2 683.0,345.8 683.2,346.2 683.5,344.0 683.7,345.5 684.0,345.4 684.3,345.1 684.5,346.5 684.8,344.6 685.1,345.2 685.3,343.6 685.6,345.3 685.9,343.8 686.1,343.8 686.4,346.6 686.7,345.3 686.9,344.7 687.2,344.8 687.5,343.5 687.7,343.7 688.0,344.8 688.2,342.8 688.5,344.6 688.8,343.0 689.0,344.3 689.3,343.4 689.6,345.5 689.8,344.9 690.1,343.6 690.4,342.5 690.6,343.3 690.9,343.8 691.2,343.1 691.4,344.0 691.7,344.5 692.0,343.7 692.2,343.3 692.5,344.2 692.8,343.3 693.0,344.2 693.3,343.2 693.6,344.7 693.8,343.2 694.1,342.6 694.3,343.4 694.6,342.8 694.9,342.5 695.1,343.1 695.4,343.8 695.7,341.5 695.9,343.1 696.2,343.0 696.5,342.9 696.7,343.6 697.0,342.0 697.3,343.5 697.5,342.8 697.8,343.0 698.1,342.7 698.3,342.6 698.6,342.4 698.9,343.1 699.1,344.4 699.4,343.5 699.6,343.4 699.9,343.1 700.2,342.3 700.4,343.1 700.7,344.2 701.0,341.6 701.2,343.2 701.5,343.3 701.8,342.8 702.0,343.1 702.3,343.6 702.6,344.2 702.8,343.5 703.1,343.7 703.4,342.7 703.6,343.0 703.9,342.5 704.2,342.6 704.4,342.0 704.7,342.9 704.9,343.4 705.2,342.2 705.5,342.5 705.7,342.8 706.0,342.3 706.3,343.0 706.5,342.4 706.8,341.3 707.1,341.4 707.3,342.8 707.6,342.7 707.9,343.0 708.1,342.4 708.4,342.3 708.7,340.9 708.9,343.2 709.2,341.4 709.5,342.9 709.7,341.2 710.0,341.6 710.2,342.2 710.5,341.7 710.8,341.5 711.0,342.7 711.3,342.5 711.6,342.3 711.8,341.7 712.1,341.4 712.4,341.6 712.6,341.6 712.9,341.9 713.2,342.5 713.4,341.8 713.7,341.3 714.0,341.5 714.2,342.9 714.5,342.0 714.8,342.1 715.0,342.1 715.3,342.3 715.5,342.0 715.8,342.8 716.1,342.5 716.3,340.1 716.6,341.8 716.9,343.7 717.1,340.9 717.4,341.9 717.7,342.6 717.9,341.8 718.2,342.8 718.5,340.9 718.7,340.9 719.0,341.7 719.3,341.2 719.5,341.0 719.8,342.2 720.1,342.0 720.3,341.8 720.6,341.5 720.8,342.0 721.1,341.7 721.4,341.2 721.6,342.1 721.9,342.0 722.2,341.8 722.4,342.2 722.7,340.9 723.0,341.6 723.2,341.3 723.5,342.7 723.8,342.1 724.0,343.3 724.3,342.9 724.6,341.4 724.8,340.8 725.1,342.0 725.4,341.4 725.6,341.5 725.9,340.9 726.1,342.1 726.4,341.8 726.7,341.9 726.9,341.9 727.2,340.9 727.5,339.9 727.7,341.4 728.0,341.1 728.3,341.2 728.5,342.3 728.8,341.5 729.1,342.7 729.3,341.7 729.6,342.1 729.9,341.9 730.1,342.2 730.4,340.6 730.7,342.4 730.9,341.6 731.2,340.8 731.4,342.0 731.7,341.8 732.0,342.5 732.2,342.0 732.5,341.8 732.8,340.3 733.0,342.7 733.3,342.6 733.6,342.0 733.8,341.8 734.1,342.3 734.4,340.7 734.6,341.9 734.9,341.4 735.2,340.6 735.4,341.6 735.7,341.5 736.0,342.5 736.2,341.9 736.5,339.9 736.7,339.6 737.0,341.0 737.3,340.8 737.5,340.1 737.8,339.6 738.1,340.4 738.3,339.4 738.6,339.5 738.9,340.3 739.1,339.3 739.4,337.7 739.7,336.1 739.9,334.0 740.2,333.9 740.5,332.2 740.7,333.9 741.0,332.0 741.3,332.4 741.5,333.1 741.8,332.0 742.0,332.6 742.3,335.3 742.6,338.4 742.8,339.7 743.1,339.0 743.4,340.1 743.6,339.9 743.9,338.8 744.2,342.4 744.4,341.2 744.7,341.5 745.0,341.2 745.2,341.2 745.5,342.9 745.8,339.8 746.0,340.9 746.3,340.9 746.6,341.1 746.8,341.8 747.1,340.7 747.3,340.3 747.6,340.5 747.9,341.7 748.1,342.1 748.4,342.0 748.7,342.6 748.9,341.0 749.2,342.1 749.5,341.9 749.7,341.3 750.0,340.9 750.3,342.1 750.5,340.9 750.8,341.2 751.1,340.7 751.3,342.8 751.6,341.4 751.9,341.1 752.1,341.3 752.4,341.3 752.6,341.5 752.9,340.2 753.2,340.6 753.4,341.8 753.7,342.3 754.0,340.7 754.2,341.6 754.5,341.0 754.8,339.8 755.0,341.2 755.3,340.7 755.6,342.1 755.8,341.3 756.1,341.4 756.4,340.4 756.6,341.6 756.9,340.0 757.2,341.6 757.4,342.5 757.7,340.6 757.9,342.1 758.2,342.5 758.5,341.3 758.7,342.3 759.0,341.5 759.3,341.1 759.5,340.0 759.8,340.7 760.1,340.4 760.3,343.3 760.6,341.7 760.9,341.4 761.1,340.5 761.4,342.8 761.7,340.6 761.9,342.6 762.2,342.3 762.5,341.5 762.7,341.0 763.0,341.5 763.2,340.5 763.5,342.0 763.8,342.8 764.0,342.2 764.3,342.3 764.6,341.0 764.8,341.7 765.1,340.7 765.4,341.2 765.6,342.0 765.9,343.3 766.2,341.5 766.4,341.5 766.7,340.1 767.0,341.6 767.2,340.8 767.5,340.4 767.8,340.4 768.0,341.6 768.3,341.2 768.5,342.0 768.8,341.3 769.1,341.5 769.3,342.6 769.6,342.1 769.9,342.1 770.1,342.6 770.4,341.7 770.7,340.7 770.9,340.9 771.2,340.3 771.5,341.8 771.7,341.2 772.0,341.9 772.3,342.1 772.5,340.9 772.8,341.6 773.1,342.5 773.3,341.6 773.6,342.2 773.8,341.3 774.1,340.8 774.4,341.3 774.6,340.1 774.9,342.0 775.2,341.1 775.4,342.5 775.7,340.6 776.0,341.6 776.2,341.8 776.5,341.3 776.8,341.8 777.0,340.9 777.3,340.7 777.6,340.4 777.8,341.1 778.1,340.9 778.4,341.7 778.6,341.2 778.9,341.0 779.1,340.9 779.4,340.1 779.7,341.2 779.9,341.8 780.2,340.5 780.5,341.3 780.7,342.0 781.0,341.0 781.3,341.6 781.5,341.2 781.8,343.3 782.1,342.6 782.3,342.4 782.6,341.0 782.9,342.0 783.1,341.4 783.4,341.8 783.7,341.1 783.9,341.6 784.2,340.9 784.4,341.7 784.7,342.8 785.0,340.5 785.2,340.5 785.5,341.9 785.8,342.1 786.0,341.2 786.3,341.9 786.6,341.8 786.8,341.9 787.1,342.5 787.4,341.0 787.6,342.0 787.9,341.6 788.2,341.0 788.4,341.9 788.7,340.5 789.0,340.4 789.2,342.3 789.5,340.7 789.7,342.8 790.0,342.3 790.3,341.1 790.5,340.8 790.8,339.8 791.1,341.4 791.3,340.2 791.6,342.7 791.9,340.2 792.1,341.5 792.4,339.7 792.7,341.2 792.9,342.5 793.2,341.2 793.5,340.9 793.7,341.1 794.0,341.8 794.3,342.2 794.5,341.3 794.8,339.9 795.0,341.7 795.3,342.2 795.6,343.3 795.8,341.6 796.1,341.6 796.4,341.1 796.6,342.1 796.9,342.8 797.2,340.7 797.4,341.6 797.7,340.7 798.0,341.0 798.2,341.4 798.5,341.9 798.8,340.9 799.0,341.3 799.3,342.5 799.6,341.9 799.8,342.0 800.1,341.8 800.3,341.3 800.6,341.8 800.9,341.9 801.1,341.5 801.4,342.3 801.7,341.5 801.9,342.2 802.2,341.5 802.5,342.1 802.7,341.0 803.0,341.1 803.3,340.6 803.5,342.4 803.8,341.9 804.1,341.7 804.3,342.0 804.6,340.9 804.9,341.6 805.1,341.1 805.4,340.1 805.6,341.3 805.9,340.8 806.2,342.6 806.4,340.9 806.7,341.0 807.0,342.2 807.2,341.5 807.5,340.5 807.8,341.7 808.0,340.9 808.3,342.8 808.6,340.7 808.8,340.9 809.1,339.7 809.4,341.0 809.6,342.9 809.9,341.4 810.2,340.8 810.4,341.7 810.7,341.3 810.9,341.5 811.2,343.3 811.5,343.0 811.7,342.7 812.0,342.8 812.3,340.8 812.5,340.0 812.8,342.1 813.1,341.8 813.3,341.5 813.6,341.4 813.9,342.0 814.1,341.9 814.4,341.7 814.7,341.9 814.9,341.3 815.2,341.2 815.5,342.6 815.7,341.3 816.0,343.0 816.2,342.0 816.5,341.5 816.8,342.4 817.0,341.1 817.3,341.3 817.6,341.2 817.8,341.5 818.1,342.0 818.4,343.1 818.6,341.9 818.9,340.7 819.2,340.9 819.4,340.1 819.7,342.1 820.0,342.2 820.2,341.7 820.5,341.8 820.8,341.9 821.0,341.8 821.3,342.0 821.5,341.7 821.8,340.7 822.1,342.2 822.3,342.5 822.6,340.2 822.9,341.3 823.1,340.6 823.4,341.9 823.7,341.3 823.9,342.6 824.2,342.3 824.5,341.1 824.7,341.1 825.0,341.0 825.3,341.9 825.5,340.8 825.8,341.8 826.1,340.4 826.3,342.3 826.6,341.9 826.8,340.6 827.1,340.9 827.4,341.6 827.6,341.7 827.9,339.7 828.2,341.6 828.4,342.7 828.7,341.2 829.0,340.5 829.2,342.4 829.5,341.7 829.8,341.6 830.0,342.0 830.3,340.5 830.6,341.0 830.8,340.6 831.1,340.6 831.4,341.2 831.6,340.7 831.9,342.7 832.1,341.9 832.4,342.1 832.7,340.2 832.9,341.3 833.2,341.4 833.5,341.6 833.7,341.8 834.0,340.9 834.3,340.8 834.5,342.2 834.8,343.2 835.1,343.1 835.3,341.3 835.6,340.9 835.9,341.6 836.1,341.9 836.4,342.8 836.7,341.3 836.9,340.9 837.2,342.3 837.4,340.9 837.7,340.8 838.0,341.9 838.2,341.3 838.5,340.7 838.8,341.3 839.0,341.2 839.3,341.3 839.6,340.9 839.8,341.9 840.1,341.2 840.4,341.0 840.6,342.3 840.9,340.8 841.2,342.1 841.4,341.9 841.7,341.3 842.0,341.7 842.2,340.4 842.5,341.7 842.7,340.7 843.0,340.8 843.3,341.7 843.5,340.9 843.8,341.6 844.1,341.8 844.3,342.3 844.6,341.8 844.9,342.3 845.1,340.9 845.4,341.2 845.7,342.0 845.9,342.4 846.2,341.8 846.5,341.1 846.7,340.7 847.0,340.8 847.3,342.3 847.5,340.7 847.8,341.3 848.0,342.0 848.3,341.8 848.6,341.0 848.8,343.0 849.1,341.6 849.4,341.7 849.6,342.1 849.9,341.3 850.2,342.0 850.4,341.4 850.7,340.8 851.0,340.8 851.2,341.8 851.5,341.6 851.8,341.4 852.0,341.1 852.3,341.3 852.5,342.1 852.8,342.3 853.1,341.3 853.3,341.7 853.6,340.1 853.9,340.6 854.1,341.0 854.4,340.8 854.7,342.0 854.9,339.9 855.2,341.9 855.5,342.0 855.7,343.2 856.0,341.1 856.3,341.8 856.5,342.6 856.8,342.2 857.1,340.8 857.3,341.2 857.6,340.6 857.8,341.5 858.1,342.0 858.4,342.5 858.6,341.9 858.9,342.2 859.2,342.3 859.4,340.9 859.7,342.0 860.0,342.2 860.2,341.3 860.5,340.8 860.8,341.6 861.0,341.6 861.3,342.0 861.6,340.1 861.8,341.2 862.1,343.0 862.4,342.5 862.6,341.4 862.9,341.3 863.1,341.3 863.4,340.7 863.7,341.1 863.9,341.4 864.2,340.6 864.5,341.4 864.7,341.7 865.0,340.5 865.3,341.1 865.5,340.3 865.8,341.5 866.1,341.6 866.3,341.1 866.6,341.5 866.9,341.9 867.1,342.0 867.4,340.5 867.7,341.2 867.9,340.4 868.2,340.0 868.4,342.2 868.7,342.0 869.0,342.4 869.2,342.0 869.5,341.1 869.8,341.6 870.0,341.0 870.3,342.5 870.6,339.6 870.8,341.7 871.1,341.0 871.4,341.9 871.6,342.3 871.9,340.9 872.2,342.4 872.4,342.2 872.7,340.2 873.0,342.7 873.2,340.4 873.5,340.3 873.7,342.0 874.0,340.7 874.3,341.4 874.5,341.1 874.8,340.4 875.1,342.3 875.3,342.1 875.6,340.9 875.9,341.9 876.1,340.4 876.4,340.2 876.7,339.1 876.9,336.6 877.2,332.2 877.5,331.8 877.7,332.8 878.0,332.6 878.3,332.1 878.5,333.5 878.8,336.0 879.0,340.2 879.3,339.5 879.6,340.0 879.8,340.0 880.1,340.9 880.4,340.8 880.6,341.0 880.9,342.4 881.2,341.7 881.4,340.7 881.7,341.5 882.0,341.0 882.2,341.0 882.5,341.1 882.8,341.3 883.0,341.8 883.3,342.1 883.6,341.3 883.8,340.7 884.1,341.3 884.3,341.1 884.6,341.0 884.9,340.3 885.1,341.0 885.4,339.6 885.7,341.3 885.9,339.1 886.2,335.3 886.5,331.8 886.7,332.7 887.0,335.0 887.3,337.9 887.5,339.4 887.8,340.7 888.1,339.3 888.3,341.7 888.6,341.4 888.9,339.9 889.1,341.4 889.4,341.6 889.6,340.6 889.9,338.8 890.2,333.9 890.4,332.7 890.7,333.6 891.0,332.3 891.2,332.0 891.5,335.5 891.8,338.6 892.0,340.8 892.3,340.3 892.6,341.3 892.8,341.4 893.1,342.4 893.4,342.6 893.6,340.9 893.9,341.2 894.2,341.2 894.4,340.9 894.7,342.7 894.9,342.3 895.2,341.2 895.5,340.4 895.7,340.9 896.0,341.4 896.3,342.6 896.5,340.5 896.8,342.5 897.1,340.4 897.3,341.7 897.6,340.6 897.9,341.1 898.1,339.7 898.4,341.9 898.7,341.5 898.9,340.7 899.2,339.9 899.5,341.4 899.7,341.4 900.0,340.4 900.2,341.8 900.5,341.4 900.8,340.6 901.0,340.9 901.3,339.7 901.6,342.0 901.8,342.2 902.1,341.3 902.4,340.5 902.6,340.6 902.9,341.2 903.2,340.8 903.4,341.7 903.7,340.8 904.0,342.1 904.2,342.4 904.5,341.0 904.8,340.9 905.0,339.7 905.3,341.5 905.5,341.8 905.8,340.8 906.1,342.3 906.3,341.0 906.6,340.6 906.9,342.1 907.1,341.8 907.4,339.9 907.7,340.9 907.9,340.5 908.2,341.3 908.5,341.6 908.7,341.1 909.0,341.6 909.3,342.1 909.5,341.2 909.8,340.5 910.1,340.7 910.3,342.1 910.6,342.8 910.8,341.3 911.1,341.8 911.4,340.9 911.6,341.0 911.9,342.2 912.2,341.1 912.4,341.6 912.7,341.6 913.0,342.3 913.2,341.6 913.5,341.4 913.8,341.2 914.0,341.1 914.3,342.2 914.6,343.1 914.8,340.3 915.1,342.2 915.4,340.7 915.6,341.0 915.9,341.2 916.1,341.1 916.4,341.2 916.7,341.0 916.9,342.8 917.2,340.4 917.5,341.0 917.7,340.9 918.0,341.6 918.3,340.5 918.5,341.5 918.8,341.5 919.1,342.9 919.3,341.9 919.6,341.4 919.9,341.5 920.1,342.8 920.4,341.4 920.7,340.9 920.9,341.0 921.2,341.2 921.4,342.1 921.7,340.7 922.0,341.0 922.2,341.4 922.5,340.8 922.8,341.9 923.0,341.2 923.3,341.8 923.6,341.8 923.8,342.6 924.1,342.7 924.4,340.8 924.6,340.5 924.9,340.6 925.2,341.8 925.4,341.8 925.7,341.4 926.0,341.4 926.2,342.6 926.5,342.1 926.7,341.6 927.0,341.9 927.3,340.3 927.5,342.3 927.8,342.9 928.1,341.5 928.3,341.1 928.6,342.3 928.9,341.0 929.1,341.4 929.4,341.8 929.7,341.2 929.9,341.9 930.2,339.9 930.5,339.5 930.7,341.9 931.0,341.7 931.3,341.4 931.5,341.0 931.8,341.3 932.0,341.5 932.3,340.3 932.6,341.3 932.8,340.5 933.1,342.5 933.4,341.2 933.6,341.0 933.9,341.4 934.2,341.2 934.4,340.9 934.7,339.3 935.0,339.4 935.2,339.0 935.5,336.6 935.8,332.6 936.0,332.1 936.3,332.6 936.6,333.5 936.8,331.6 937.1,331.5 937.3,331.6 937.6,334.2 937.9,338.9 938.1,340.4 938.4,340.0 938.7,340.2 938.9,341.4 939.2,341.4 939.5,339.1 939.7,340.8 940.0,342.8 940.3,340.7 940.5,340.6 940.8,340.7 941.1,342.4 941.3,340.9 941.6,341.6 941.9,342.2 942.1,341.4 942.4,341.3 942.6,340.6 942.9,340.4 943.2,342.2 943.4,340.4 943.7,342.2 944.0,342.3 944.2,342.5 944.5,341.3 944.8,340.8 945.0,341.5 945.3,342.4 945.6,341.8 945.8,341.8 946.1,341.3 946.4,342.1 946.6,340.0 946.9,340.6 947.2,342.6 947.4,341.8 947.7,342.0 947.9,340.0 948.2,340.8 948.5,341.1 948.7,341.4 949.0,342.3 949.3,341.0 949.5,341.6 949.8,340.9 950.1,341.3 950.3,341.7 950.6,341.8 950.9,342.2 951.1,340.5 951.4,342.0 951.7,341.8 951.9,340.9 952.2,342.4 952.5,341.0 952.7,341.2 953.0,341.9 953.2,342.5 953.5,341.2 953.8,342.6 954.0,341.8 954.3,340.9 954.6,342.0 954.8,341.5 955.1,340.9 955.4,341.4 955.6,342.4 955.9,341.7 956.2,341.3 956.4,342.1 956.7,340.4 957.0,342.0 957.2,342.5 957.5,340.6 957.8,340.7 958.0,340.8 958.3,341.3 958.5,340.9 958.8,341.5 959.1,340.7 959.3,341.7 959.6,341.9 959.9,341.8 960.1,341.0 960.4,342.1 960.7,340.3 960.9,341.0 961.2,341.4 961.5,342.4 961.7,341.2 962.0,341.9 962.3,342.7 962.5,342.9 962.8,342.7 963.1,340.9 963.3,341.6 963.6,341.8 963.8,341.9 964.1,341.8 964.4,341.3 964.6,341.4 964.9,340.4 965.2,341.9 965.4,341.6 965.7,340.9 966.0,342.6 966.2,341.2 966.5,340.6 966.8,341.3 967.0,340.8 967.3,339.3 967.6,334.0 967.8,333.1 968.1,332.6 968.4,333.4 968.6,332.7 968.9,336.0 969.1,339.0 969.4,341.1 969.7,341.7 969.9,340.1 970.2,341.7 970.5,341.2 970.7,341.5 971.0,340.8 971.3,340.6 971.5,341.0 971.8,340.8 972.1,341.1 972.3,341.5 972.6,341.5 972.9,342.8 973.1,340.8 973.4,341.1 973.7,341.5 973.9,341.9 974.2,340.7 974.4,340.4 974.7,341.7 975.0,341.8 975.2,341.9 975.5,342.0 975.8,340.4 976.0,342.3 976.3,341.4 976.6,343.0 976.8,341.2 977.1,339.9 977.4,341.4 977.6,341.6 977.9,341.7 978.2,341.6 978.4,341.1 978.7,340.3 979.0,341.4 979.2,341.3 979.5,341.0 979.7,341.5 980.0,341.3 980.3,340.0 980.5,340.9 980.8,340.9 981.1,341.3 981.3,342.7 981.6,341.5 981.9,341.9 982.1,339.9 982.4,342.4 982.7,341.1 982.9,341.9 983.2,340.7 983.5,341.5 983.7,342.1 984.0,341.5 984.3,341.7 984.5,340.9 984.8,341.0 985.0,341.7 985.3,341.4 985.6,341.6 985.8,341.0 986.1,341.2 986.4,342.0 986.6,342.5 986.9,341.2 987.2,341.0 987.4,341.6 987.7,342.2 988.0,341.7 988.2,342.3 988.5,341.4 988.8,340.8 989.0,340.1 989.3,342.1 989.6,341.7 989.8,341.0 990.1,341.8 990.3,340.7 990.6,342.3 990.9,342.3 991.1,342.4 991.4,341.2 991.7,342.5 991.9,342.1 992.2,342.7 992.5,340.3 992.7,342.2 993.0,342.5 993.3,341.3 993.5,342.2 993.8,341.6 994.1,342.6 994.3,341.3 994.6,341.5 994.9,340.6 995.1,343.0 995.4,340.9 995.6,340.7 995.9,340.8 996.2,341.6 996.4,341.5 996.7,341.8 997.0,342.6 997.2,342.2 997.5,340.4 997.8,341.6 998.0,341.4 998.3,342.1 998.6,341.6 998.8,342.5 999.1,341.6 999.4,342.9 999.6,340.8 999.9,342.4 1000.2,342.2 1000.4,341.0 1000.7,340.5 1000.9,341.0 1001.2,341.8 1001.5,342.7 1001.7,340.4 1002.0,341.3 1002.3,340.6 1002.5,342.1 1002.8,341.6 1003.1,341.5 1003.3,342.1 1003.6,341.7 1003.9,342.6 1004.1,341.3 1004.4,341.1 1004.7,341.5 1004.9,341.5 1005.2,342.4 1005.5,341.2 1005.7,341.1 1006.0,341.0 1006.2,340.9 1006.5,340.1 1006.8,341.6 1007.0,341.9 1007.3,341.6 1007.6,340.9 1007.8,342.2 1008.1,342.0 1008.4,341.7 1008.6,342.0 1008.9,341.4 1009.2,341.8 1009.4,341.9 1009.7,340.6 1010.0,341.1 1010.2,341.0 1010.5,341.8 1010.8,339.7 1011.0,341.7 1011.3,341.5 1011.5,341.4 1011.8,341.8 1012.1,340.4 1012.3,341.7 1012.6,340.9 1012.9,341.1 1013.1,342.5 1013.4,341.3 1013.7,342.3 1013.9,341.5 1014.2,341.3 1014.5,341.2 1014.7,340.4 1015.0,341.3 1015.3,341.6 1015.5,342.5 1015.8,342.1 1016.1,342.1 1016.3,340.8 1016.6,341.0 1016.8,341.8 1017.1,341.9 1017.4,340.7 1017.6,342.3 1017.9,341.0 1018.2,341.7 1018.4,341.2 1018.7,342.0 1019.0,342.1 1019.2,342.3 1019.5,340.8 1019.8,341.6 1020.0,343.2 1020.3,341.5 1020.6,341.8 1020.8,341.6 1021.1,341.1 1021.4,342.8 1021.6,342.7 1021.9,341.0 1022.1,341.9 1022.4,342.9 1022.7,341.9 1022.9,341.6 1023.2,342.2 1023.5,342.1 1023.7,340.6 1024.0,340.9 1024.3,342.7 1024.5,341.1 1024.8,341.5 1025.1,341.0 1025.3,342.9 1025.6,340.6 1025.9,341.6 1026.1,341.2 1026.4,341.3 1026.7,340.6 1026.9,340.9 1027.2,341.4 1027.4,341.7 1027.7,340.1 1028.0,341.6 1028.2,340.9 1028.5,341.5 1028.8,341.2 1029.0,341.4 1029.3,341.3 1029.6,341.8 1029.8,341.5 1030.1,340.3 1030.4,339.7 1030.6,340.4 1030.9,341.7 1031.2,340.3 1031.4,340.7 1031.7,342.8 1032.0,341.2 1032.2,341.3 1032.5,341.7 1032.7,342.0 1033.0,341.1 1033.3,341.6 1033.5,340.0 1033.8,341.7 1034.1,341.9 1034.3,340.2 1034.6,342.2 1034.9,342.9 1035.1,339.7 1035.4,341.3 1035.7,342.5 1035.9,342.0 1036.2,340.9 1036.5,341.0 1036.7,341.2 1037.0,342.0 1037.3,340.8 1037.5,340.4 1037.8,341.5 1038.0,340.9 1038.3,342.7 1038.6,340.7 1038.8,341.6 1039.1,341.3 1039.4,340.3 1039.6,341.0 1039.9,339.9 1040.2,341.7 1040.4,340.6 1040.7,340.4 1041.0,340.1 1041.2,342.3 1041.5,341.6 1041.8,340.4 1042.0,340.8 1042.3,341.2 1042.6,340.4 1042.8,337.8 1043.1,331.4 1043.3,333.8 1043.6,332.4 1043.9,333.5 1044.1,331.5 1044.4,334.4 1044.7,339.2 1044.9,341.0 1045.2,339.8 1045.5,340.8 1045.7,342.3 1046.0,340.6 1046.3,341.8 1046.5,341.2 1046.8,340.2 1047.1,342.1 1047.3,342.2 1047.6,341.9 1047.9,341.6 1048.1,342.2 1048.4,339.9 1048.6,341.4 1048.9,342.7 1049.2,341.8 1049.4,342.2 1049.7,341.3 1050.0,341.7 1050.2,340.6 1050.5,341.8 1050.8,341.7 1051.0,341.2 1051.3,341.5 1051.6,341.5 1051.8,341.6 1052.1,342.0 1052.4,342.2 1052.6,339.9 1052.9,341.7 1053.2,342.3 1053.4,340.6 1053.7,341.3 1053.9,343.3 1054.2,341.0 1054.5,342.2 1054.7,341.7 1055.0,340.4 1055.3,341.3 1055.5,340.1 1055.8,341.2 1056.1,342.2 1056.3,342.0 1056.6,341.7 1056.9,341.1 1057.1,342.0 1057.4,342.4 1057.7,342.1 1057.9,342.2 1058.2,341.8 1058.5,341.8 1058.7,340.8 1059.0,342.6 1059.2,340.7 1059.5,340.8 1059.8,341.0 1060.0,340.9 1060.3,342.5 1060.6,341.3 1060.8,341.3 1061.1,341.3 1061.4,341.5 1061.6,342.5 1061.9,342.6 1062.2,341.2 1062.4,342.8 1062.7,341.9 1063.0,341.7 1063.2,342.5 1063.5,341.6 1063.8,341.7 1064.0,341.6 1064.3,340.6 1064.5,340.6 1064.8,340.8 1065.1,340.8 1065.3,341.1 1065.6,341.1 1065.9,342.3 1066.1,341.5 1066.4,342.1 1066.7,341.7 1066.9,340.8 1067.2,341.3 1067.5,340.4 1067.7,340.2 1068.0,341.8 1068.3,341.5 1068.5,341.5 1068.8,342.2 1069.1,340.5 1069.3,341.4 1069.6,339.8 1069.8,340.8 1070.1,341.9 1070.4,340.3 1070.6,340.5 1070.9,341.2 1071.2,342.7 1071.4,342.0 1071.7,341.3 1072.0,341.9 1072.2,341.5 1072.5,341.2 1072.8,341.1 1073.0,341.8 1073.3,341.4 1073.6,342.0 1073.8,341.0 1074.1,342.1 1074.4,341.1 1074.6,342.3 1074.9,342.2 1075.1,340.9 1075.4,343.2 1075.7,341.7 1075.9,341.0 1076.2,340.5 1076.5,341.5 1076.7,341.6 1077.0,340.9 1077.3,340.6 1077.5,341.1 1077.8,340.6 1078.1,341.0 1078.3,340.8 1078.6,341.8 1078.9,339.7 1079.1,342.9 1079.4,341.1 1079.7,341.4 1079.9,340.4 1080.2,342.2 1080.4,341.3 1080.7,341.1 1081.0,340.7 1081.2,341.8 1081.5,341.7 1081.8,340.9 1082.0,342.6 1082.3,340.7 1082.6,342.2 1082.8,341.5 1083.1,340.3 1083.4,341.1 1083.6,341.7 1083.9,340.9 1084.2,341.3 1084.4,341.1 1084.7,341.4 1085.0,340.6 1085.2,342.3 1085.5,341.0 1085.7,341.6 1086.0,339.5 1086.3,337.6 1086.5,331.8 1086.8,332.5 1087.1,333.6 1087.3,332.7 1087.6,331.9 1087.9,332.1 1088.1,336.0 1088.4,338.8 1088.7,341.7 1088.9,340.8 1089.2,340.8 1089.5,341.4 1089.7,342.2 1090.0,339.8 1090.3,340.5 1090.5,340.5 1090.8,339.5 1091.0,340.7 1091.3,340.7 1091.6,341.2 1091.8,340.7 1092.1,339.7 1092.4,336.7 1092.6,332.2 1092.9,334.3 1093.2,333.6 1093.4,332.3 1093.7,331.8 1094.0,332.9 1094.2,336.4 1094.5,339.4 1094.8,340.8 1095.0,341.4 1095.3,341.2 1095.6,340.3 1095.8,340.7 1096.1,339.8 1096.3,341.9 1096.6,340.8 1096.9,341.4 1097.1,342.9 1097.4,340.7 1097.7,341.3 1097.9,340.7 1098.2,340.0 1098.5,342.1 1098.7,341.3 1099.0,341.3 1099.3,342.0 1099.5,341.3 1099.8,341.9 1100.1,342.4 1100.3,340.9 1100.6,341.8 1100.9,341.5 1101.1,342.2 1101.4,343.2 1101.6,340.7 1101.9,342.6 1102.2,341.5 1102.4,341.9 1102.7,341.7 1103.0,341.4 1103.2,340.5 1103.5,341.5 1103.8,340.8 1104.0,342.5 1104.3,341.8 1104.6,341.0 1104.8,341.2 1105.1,342.3 1105.4,340.4 1105.6,341.6 1105.9,341.6 1106.2,340.8 1106.4,342.2 1106.7,341.2 1106.9,342.2 1107.2,341.6 1107.5,341.0 1107.7,341.4 1108.0,342.2 1108.3,340.8 1108.5,340.9 1108.8,341.4 1109.1,341.9 1109.3,341.9 1109.6,340.7 1109.9,340.6 1110.1,341.4 1110.4,341.3 1110.7,341.7 1110.9,340.3 1111.2,341.1 1111.5,340.6 1111.7,342.6 1112.0,339.9 1112.2,340.8 1112.5,341.0 1112.8,340.1 1113.0,341.1 1113.3,340.8 1113.6,340.2 1113.8,341.0 1114.1,342.3 1114.4,341.5 1114.6,342.3 1114.9,342.3 1115.2,341.4 1115.4,341.0 1115.7,339.6 1116.0,339.6 1116.2,341.2 1116.5,340.8 1116.8,340.2 1117.0,337.5 1117.3,333.5 1117.5,331.7 1117.8,333.1 1118.1,332.6 1118.3,331.0 1118.6,334.1 1118.9,339.4 1119.1,339.4 1119.4,340.0 1119.7,340.3 1119.9,340.7 1120.2,341.3 1120.5,341.1 1120.7,341.4 1121.0,340.9 1121.3,341.8 1121.5,342.4 1121.8,340.7 1122.1,341.6 1122.3,341.6 1122.6,341.5 1122.8,341.4 1123.1,341.8 1123.4,341.3 1123.6,341.0 1123.9,340.9 1124.2,342.0 1124.4,341.1 1124.7,340.1 1125.0,341.1 1125.2,341.1 1125.5,342.1 1125.8,342.2 1126.0,340.7 1126.3,342.4 1126.6,341.7 1126.8,342.6 1127.1,341.1 1127.4,342.0 1127.6,342.0 1127.9,342.6 1128.1,340.5 1128.4,341.5 1128.7,341.6 1128.9,341.3 1129.2,340.8 1129.5,341.3 1129.7,341.5 1130.0,342.9 1130.3,341.5 1130.5,342.3 1130.8,341.1 1131.1,341.7 1131.3,341.5 1131.6,341.5 1131.9,340.4 1132.1,341.5 1132.4,343.3 1132.7,341.5 1132.9,340.5 1133.2,343.2 1133.4,341.8 1133.7,341.7 1134.0,340.4 1134.2,341.3 1134.5,341.3 1134.8,341.4 1135.0,340.8 1135.3,342.0 1135.6,340.5 1135.8,342.3 1136.1,341.5 1136.4,341.2 1136.6,340.4 1136.9,341.7 1137.2,341.8 1137.4,340.4 1137.7,342.7 1138.0,341.3 1138.2,340.4 1138.5,342.4 1138.7,340.7 1139.0,340.8 1139.3,340.4 1139.5,340.8 1139.8,341.3 1140.1,340.7 1140.3,341.7 1140.6,340.7 1140.9,341.4 1141.1,339.8 1141.4,341.1 1141.7,341.4 1141.9,341.9 1142.2,341.2 1142.5,341.5 1142.7,341.7 1143.0,340.8 1143.3,341.9 1143.5,341.7 1143.8,341.1 1144.0,340.6 1144.3,342.4 1144.6,342.3 1144.8,341.6 1145.1,342.3 1145.4,342.5 1145.6,341.4 1145.9,341.9 1146.2,341.9 1146.4,341.8 1146.7,341.4 1147.0,341.1 1147.2,342.0 1147.5,341.6 1147.8,342.7 1148.0,341.8 1148.3,341.5 1148.6,340.6 1148.8,341.4 1149.1,341.7 1149.3,341.4 1149.6,340.9 1149.9,339.7 1150.1,340.8 1150.4,341.6 1150.7,342.6 1150.9,340.6 1151.2,341.8 1151.5,340.5 1151.7,342.2 1152.0,341.3 1152.3,341.5 1152.5,341.7 1152.8,341.0 1153.1,341.0 1153.3,342.2 1153.6,340.4 1153.9,340.8 1154.1,342.0 1154.4,342.0 1154.6,340.9 1154.9,340.9 1155.2,341.6 1155.4,342.8 1155.7,342.5 1156.0,341.2 1156.2,341.1 1156.5,341.4 1156.8,340.2 1157.0,341.7 1157.3,341.2 1157.6,342.2 1157.8,340.9 1158.1,341.7 1158.4,341.0 1158.6,341.1 1158.9,342.8 1159.2,340.8 1159.4,341.4 1159.7,341.8 1159.9,342.9 1160.2,341.7 1160.5,341.2 1160.7,341.7 1161.0,342.7 1161.3,341.9 1161.5,342.0 1161.8,343.1 1162.1,340.8 1162.3,342.3 1162.6,340.9 1162.9,342.4 1163.1,341.9 1163.4,341.9 1163.7,341.7 1163.9,341.7 1164.2,339.7 1164.5,340.6 1164.7,343.0 1165.0,341.6 1165.2,341.4 1165.5,341.9 1165.8,342.2 1166.0,341.6 1166.3,342.2 1166.6,341.9 1166.8,341.1 1167.1,341.6 1167.4,342.2 1167.6,340.8 1167.9,341.5 1168.2,340.9 1168.4,341.3 1168.7,340.3 1169.0,341.6 1169.2,341.0 1169.5,342.3 1169.8,341.2 1170.0,343.0 1170.3,342.3 1170.5,340.9 1170.8,343.0 1171.1,341.6 1171.3,341.8 1171.6,340.5 1171.9,341.4 1172.1,341.0 1172.4,340.5 1172.7,340.7 1172.9,342.4 1173.2,341.1 1173.5,341.4 1173.7,340.9 1174.0,341.1 1174.3,341.1 1174.5,341.4 1174.8,341.5 1175.1,342.1 1175.3,341.4 1175.6,341.3 1175.8,340.8 1176.1,341.8 1176.4,341.7 1176.6,341.2 1176.9,340.1 1177.2,341.3 1177.4,339.9 1177.7,342.5 1178.0,341.4 1178.2,342.3 1178.5,341.2 1178.8,342.0 1179.0,342.6 1179.3,342.0 1179.6,340.6 1179.8,340.2 1180.1,340.9 1180.4,341.5 1180.6,340.4 1180.9,339.9 1181.1,340.8 1181.4,341.1 1181.7,339.8 1181.9,341.0 1182.2,341.6 1182.5,340.0 1182.7,340.7 1183.0,340.0 1183.3,339.4 1183.5,338.2 1183.8,335.7 1184.1,335.3 1184.3,335.2 1184.6,333.6 1184.9,332.9 1185.1,335.0 1185.4,338.2 1185.7,338.1 1185.9,339.5 1186.2,339.2 1186.4,339.4 1186.7,340.7 1187.0,341.1 1187.2,340.3 1187.5,340.9 1187.8,340.2 1188.0,338.5 1188.3,339.3 1188.6,339.2 1188.8,339.6 1189.1,335.9 1189.4,336.3 1189.6,335.8 1189.9,335.6 1190.2,335.8 1190.4,337.5 1190.7,338.1 1191.0,337.7 1191.2,338.5 1191.5,339.8 1191.7,339.2 1192.0,340.8 1192.3,341.5 1192.5,340.6 1192.8,340.9 1193.1,340.7 1193.3,341.3 1193.6,341.6 1193.9,340.5 1194.1,342.0 1194.4,340.6 1194.7,341.4 1194.9,341.5 1195.2,340.6 1195.5,341.1 1195.7,340.5 1196.0,342.1 1196.3,341.2 1196.5,340.2 1196.8,341.9 1197.0,341.1 1197.3,342.7 1197.6,341.3 1197.8,341.8 1198.1,340.5 1198.4,341.2 1198.6,341.3 1198.9,342.0 1199.2,342.4 1199.4,341.5 1199.7,341.3 1200.0,340.7 1200.2,340.9 1200.5,341.3 1200.8,342.2 1201.0,342.7 1201.3,341.2 1201.6,340.9 1201.8,340.7 1202.1,342.0 1202.3,342.4 1202.6,341.9 1202.9,342.6 1203.1,341.4 1203.4,341.1 1203.7,341.6 1203.9,340.5 1204.2,341.2 1204.5,341.0 1204.7,340.0 1205.0,341.4 741.6,64.9 741.1,76.4 741.5,111.2 741.1,130.3 741.5,170.9 741.1,197.4 741.3,215.8 741.2,248.8 741.6,254.0 741.3,272.0 741.6,287.0 740.9,300.6 740.7,308.5 740.7,316.0 741.0,324.5 878.0,240.5 878.1,253.8 877.9,265.0 878.5,274.8 877.8,283.5 877.3,287.5 877.9,291.4 878.1,306.0 877.6,319.7 878.2,327.5 936.2,163.9 937.1,166.0 936.5,178.4 937.1,195.6 936.7,215.1 936.9,221.0 936.2,235.6 937.1,240.5 937.2,254.2 936.2,278.7 936.7,302.1 936.2,316.8 937.0,324.6 937.0,327.5 891.9,312.9 890.5,315.8 889.6,318.5 890.9,320.4 890.2,323.2 889.5,325.1 890.4,327.3 891.3,330.4 891.5,333.4 891.5,336.2 887.3,329.5 887.0,332.1 886.5,334.6 969.0,316.8 969.2,318.9 966.9,321.4 969.2,324.3 968.0,326.7 967.3,328.9 968.0,331.5 968.6,334.2 968.9,336.3 1043.5,318.0 1044.0,320.1 1044.5,322.8 1043.3,325.8 1044.0,328.3 1042.4,330.7 1044.8,333.5 1044.9,336.0 1087.5,309.0 1087.7,311.4 1087.9,313.7 1086.7,315.7 1087.0,318.1 1088.5,320.5 1087.4,323.0 1087.4,325.0 1087.8,327.9 1087.5,331.0 1088.3,333.3 1088.6,336.5 1093.8,304.6 1092.7,306.6 1094.4,309.5 1092.8,312.1 1092.8,314.6 1092.5,316.8 1094.5,319.9 1094.3,322.0 1094.0,324.8 1093.4,327.0 1093.9,329.9 1092.1,333.0 1093.0,335.3 1119.3,320.0 1118.9,323.2 1118.7,325.9 1117.1,328.9 1119.3,331.5 1117.8,333.6 1118.9,335.9 1183.5,333.0 1185.0,335.3 1187.8,335.0 1191.5,336.0" fill="none" stroke="none" marker-start="url(#mo)" marker-mid="url(#mo)" marker-end="url(#mo)"/>
<path d="M675.00,349.50L676.89,348.46L678.79,347.56L680.68,346.77L682.57,346.09L684.46,345.49L686.36,344.97L688.25,344.52L690.14,344.13L692.04,343.79L693.93,343.49L695.82,343.23L697.71,343.01L699.61,342.81L701.50,342.64L703.39,342.49L705.29,342.36L707.18,342.25L709.07,342.15L710.96,342.06L712.86,341.99L714.75,341.92L716.64,341.86L718.54,341.81L720.43,341.76L722.32,341.72L724.21,341.68L726.11,341.65L728.00,341.61L729.89,341.57L731.79,341.51L733.68,341.44L735.57,341.28L737.46,340.86L737.54,340.82L737.62,340.79L737.69,340.75L737.77,340.72L737.84,340.67L737.92,340.63L737.99,340.58L738.07,340.53L738.15,340.48L738.22,340.42L738.30,340.35L738.37,340.28L738.45,340.21L738.52,340.12L738.60,340.03L738.68,339.93L738.75,339.82L738.83,339.70L738.90,339.57L738.98,339.43L739.05,339.26L739.13,339.08L739.21,338.88L739.28,338.65L739.36,338.39L739.43,338.10L739.51,337.76L739.58,337.37L739.66,336.91L739.74,336.35L739.81,335.65L739.89,334.72L739.96,333.40L740.04,331.43L740.11,328.41M741.93,328.40L742.01,331.42L742.08,333.39L742.16,334.71L742.23,335.64L742.31,336.34L742.39,336.90L742.46,337.36L742.54,337.75L742.61,338.08L742.69,338.38L742.76,338.63L742.84,338.86L742.92,339.06L742.99,339.25L743.07,339.41L743.14,339.55L743.22,339.68L743.29,339.80L743.37,339.91L743.45,340.01L743.52,340.10L743.60,340.18L743.67,340.26L743.75,340.33L743.82,340.39L743.90,340.45L743.98,340.50L744.05,340.55L744.13,340.60L744.20,340.64L744.28,340.69L744.35,340.72L744.43,340.76L744.51,340.79L744.58,340.82L744.66,340.85L744.73,340.88L744.81,340.91L744.88,340.93L744.96,340.95L745.04,340.98L745.11,341.00L745.19,341.02L745.26,341.03L745.34,341.05L745.41,341.07L745.49,341.08L745.57,341.10L747.46,341.32L749.35,341.40L751.24,341.44L753.14,341.46L755.03,341.47L756.92,341.48L758.82,341.49L760.71,341.49L762.60,341.49L764.49,341.49L766.39,341.49L768.28,341.50L770.17,341.50L772.07,341.50L773.96,341.50L775.85,341.50L777.74,341.50L779.64,341.50L781.53,341.50L783.42,341.50L785.32,341.50L787.21,341.50L789.10,341.50L790.99,341.50L792.89,341.50L794.78,341.50L796.67,341.50L798.57,341.50L800.46,341.50L802.35,341.50L804.24,341.50L806.14,341.50L808.03,341.50L809.92,341.50L811.82,341.50L813.71,341.50L815.60,341.50L817.49,341.50L819.39,341.50L821.28,341.50L823.17,341.50L825.07,341.50L826.96,341.50L828.85,341.50L830.74,341.50L832.64,341.50L834.53,341.50L836.42,341.50L838.32,341.50L840.21,341.49L842.10,341.49L843.99,341.49L845.89,341.49L847.78,341.49L849.67,341.49L851.57,341.49L853.46,341.49L855.35,341.49L857.24,341.49L859.14,341.49L861.03,341.48L862.92,341.48L864.82,341.47L866.71,341.47L868.60,341.45L870.49,341.43L872.39,341.38L874.28,341.22L874.36,341.21L874.43,341.20L874.51,341.19L874.58,341.17L874.66,341.16L874.73,341.14L874.81,341.13L874.89,341.11L874.96,341.09L875.04,341.07L875.11,341.05L875.19,341.02L875.26,340.99L875.34,340.97L875.42,340.93L875.49,340.90L875.57,340.86L875.64,340.82L875.72,340.77L875.79,340.72L875.87,340.67L875.95,340.61L876.02,340.54L876.10,340.46L876.17,340.37L876.25,340.28L876.32,340.16L876.40,340.03L876.48,339.89L876.55,339.71L876.63,339.50L876.70,339.23L876.78,338.88L876.85,338.38L876.93,337.63L877.01,336.48L877.08,334.69L877.16,331.94L877.23,327.85M878.60,327.85L878.67,331.93L878.75,334.68L878.82,336.47L878.90,337.62L878.97,338.37L879.05,338.87L879.13,339.22L879.20,339.49L879.28,339.70L879.35,339.88L879.43,340.02L879.50,340.15L879.58,340.26L879.66,340.36L879.73,340.45L879.81,340.52L879.88,340.59L879.96,340.65L880.03,340.71L880.11,340.76L880.19,340.80L880.26,340.84L880.34,340.88L880.41,340.92L880.49,340.95L880.56,340.97L880.64,341.00L880.72,341.02L880.79,341.05L880.87,341.07L880.94,341.08L881.02,341.10L881.09,341.12L881.17,341.13L881.25,341.15L881.32,341.16L881.40,341.17L881.47,341.18L881.55,341.19L881.62,341.20L881.70,341.21L881.78,341.22L881.85,341.23L881.93,341.23L882.00,341.24L882.08,341.25L882.15,341.25L882.23,341.26L882.31,341.26L882.38,341.27L882.46,341.27L882.53,341.27L882.61,341.28L882.68,341.28L882.76,341.28L882.84,341.29L882.91,341.29L882.99,341.29L883.06,341.29L883.14,341.29L883.21,341.29L883.29,341.30L883.37,341.30L883.44,341.30L883.52,341.29L883.59,341.29L883.67,341.29L883.74,341.29L883.82,341.29L883.90,341.29L883.97,341.28L884.05,341.28L884.12,341.28L884.20,341.27L884.27,341.27L884.35,341.26L884.43,341.26L884.50,341.25L884.58,341.24L884.65,341.23L884.73,341.22L884.80,341.21L884.88,341.19L884.96,341.18L885.03,341.16L885.11,341.13L885.18,341.10L885.26,341.07L885.33,341.02L885.41,340.95L885.49,340.85L885.56,340.71L885.64,340.51L885.71,340.22L885.79,339.82L885.86,339.27L885.94,338.57L886.02,337.67L886.09,336.60L886.17,335.38L886.24,334.04L886.32,332.68L886.39,331.41L886.47,330.34L886.55,329.62L886.62,329.37L886.70,329.62L886.77,330.33L886.85,331.39L886.92,332.67L887.00,334.02L887.08,335.35L887.15,336.57L887.23,337.64L887.30,338.52L887.38,339.23L887.45,339.77L887.53,340.16L887.61,340.44L887.68,340.64L887.76,340.77L887.83,340.86L887.91,340.92L887.98,340.96L888.06,340.99L888.14,341.01L888.21,341.02L888.29,341.03L888.36,341.03L888.44,341.04L888.51,341.03L888.59,341.03L888.67,341.02L888.74,341.01L888.82,340.99L888.89,340.97L888.97,340.95L889.04,340.92L889.12,340.89L889.20,340.85L889.27,340.80L889.35,340.73L889.42,340.65L889.50,340.54L889.57,340.39L889.65,340.16L889.73,339.84L889.80,339.37L889.88,338.70L889.95,337.77L890.03,336.50L890.10,334.85L890.18,332.78L890.26,330.29M891.32,330.31L891.39,332.80L891.47,334.88L891.54,336.54L891.62,337.80L891.69,338.74L891.77,339.41L891.85,339.89L891.92,340.21L892.00,340.44L892.07,340.60L892.15,340.72L892.22,340.80L892.30,340.87L892.38,340.93L892.45,340.97L892.53,341.01L892.60,341.05L892.68,341.08L892.75,341.11L892.83,341.13L892.91,341.16L892.98,341.18L893.06,341.20L893.13,341.21L893.21,341.23L893.28,341.24L893.36,341.26L893.44,341.27L893.51,341.28L893.59,341.29L893.66,341.30L893.74,341.31L893.81,341.32L893.89,341.32L893.97,341.33L894.04,341.34L894.12,341.34L894.19,341.35L894.27,341.35L894.34,341.36L894.42,341.36L894.50,341.37L894.57,341.37L894.65,341.38L894.72,341.38L894.80,341.39L894.87,341.39L894.95,341.39L895.03,341.40L895.10,341.40L895.18,341.40L895.25,341.40L895.33,341.41L895.40,341.41L897.30,341.45L899.19,341.46L901.08,341.47L902.98,341.48L904.87,341.48L906.76,341.48L908.65,341.48L910.55,341.48L912.44,341.48L914.33,341.48L916.23,341.48L918.12,341.48L920.01,341.47L921.90,341.47L923.80,341.46L925.69,341.44L927.58,341.42L929.48,341.37L931.37,341.27L933.26,340.94L933.34,340.91L933.41,340.88L933.49,340.85L933.56,340.82L933.64,340.79L933.72,340.75L933.79,340.71L933.87,340.67L933.94,340.62L934.02,340.57L934.09,340.51L934.17,340.45L934.25,340.38L934.32,340.31L934.40,340.23L934.47,340.14L934.55,340.04L934.62,339.93L934.70,339.81L934.78,339.67L934.85,339.52L934.93,339.34L935.00,339.14L935.08,338.91L935.15,338.65L935.23,338.34L935.31,337.96L935.38,337.48L935.46,336.85L935.53,335.96L935.61,334.63L935.68,332.57L935.76,329.38M937.43,329.38L937.50,332.57L937.58,334.63L937.65,335.96L937.73,336.85L937.80,337.48L937.88,337.96L937.96,338.34L938.03,338.65L938.11,338.91L938.18,339.14L938.26,339.34L938.33,339.52L938.41,339.67L938.49,339.81L938.56,339.93L938.64,340.04L938.71,340.14L938.79,340.23L938.86,340.31L938.94,340.38L939.02,340.45L939.09,340.51L939.17,340.57L939.24,340.62L939.32,340.67L939.39,340.71L939.47,340.75L939.55,340.79L939.62,340.82L939.70,340.85L939.77,340.88L939.85,340.91L939.92,340.94L940.00,340.96L940.08,340.98L940.15,341.01L940.23,341.03L940.30,341.04L940.38,341.06L940.45,341.08L940.53,341.09L940.61,341.11L940.68,341.12L940.76,341.14L940.83,341.15L940.91,341.16L940.98,341.17L941.06,341.18L941.14,341.19L941.21,341.20L943.10,341.35L945.00,341.41L946.89,341.44L948.78,341.45L950.68,341.46L952.57,341.47L954.46,341.47L956.35,341.47L958.25,341.47L960.14,341.47L962.03,341.46L963.93,341.42L964.00,341.42L964.08,341.42L964.15,341.41L964.23,341.41L964.30,341.41L964.38,341.40L964.46,341.40L964.53,341.40L964.61,341.39L964.68,341.39L964.76,341.39L964.83,341.38L964.91,341.38L964.99,341.37L965.06,341.36L965.14,341.36L965.21,341.35L965.29,341.34L965.36,341.34L965.44,341.33L965.52,341.32L965.59,341.31L965.67,341.30L965.74,341.29L965.82,341.27L965.89,341.26L965.97,341.24L966.05,341.23L966.12,341.21L966.20,341.19L966.27,341.16L966.35,341.14L966.42,341.11L966.50,341.07L966.58,341.03L966.65,340.99L966.73,340.93L966.80,340.86L966.88,340.76L966.95,340.62L967.03,340.43L967.11,340.15L967.18,339.74L967.26,339.17L967.33,338.36L967.41,337.28L967.48,335.86L967.56,334.08L967.64,331.94L967.71,329.49M968.62,329.49L968.70,331.94L968.77,334.08L968.85,335.86L968.92,337.28L969.00,338.36L969.07,339.17L969.15,339.74L969.23,340.15L969.30,340.43L969.38,340.62L969.45,340.76L969.53,340.86L969.60,340.93L969.68,340.99L969.76,341.04L969.83,341.08L969.91,341.11L969.98,341.14L970.06,341.17L970.13,341.19L970.21,341.21L970.29,341.23L970.36,341.25L970.44,341.26L970.51,341.28L970.59,341.29L970.66,341.30L970.74,341.31L970.82,341.32L970.89,341.33L970.97,341.34L971.04,341.35L971.12,341.35L971.19,341.36L971.27,341.37L971.35,341.37L971.42,341.38L971.50,341.38L971.57,341.39L971.65,341.39L971.72,341.40L971.80,341.40L971.88,341.40L971.95,341.41L972.03,341.41L972.10,341.41L972.18,341.42L972.25,341.42L972.33,341.42L972.41,341.43L972.48,341.43L972.56,341.43L972.63,341.43L972.71,341.43L972.78,341.44L974.68,341.46L976.57,341.48L978.46,341.48L980.36,341.49L982.25,341.49L984.14,341.49L986.03,341.49L987.93,341.49L989.82,341.49L991.71,341.49L993.61,341.49L995.50,341.49L997.39,341.49L999.28,341.49L1001.18,341.50L1003.07,341.50L1004.96,341.50L1006.86,341.50L1008.75,341.50L1010.64,341.50L1012.53,341.50L1014.43,341.49L1016.32,341.49L1018.21,341.49L1020.11,341.49L1022.00,341.49L1023.89,341.49L1025.78,341.49L1027.68,341.49L1029.57,341.49L1031.46,341.49L1033.36,341.48L1035.25,341.47L1037.14,341.46L1039.03,341.42L1040.93,341.30L1041.00,341.29L1041.08,341.28L1041.15,341.26L1041.23,341.25L1041.31,341.23L1041.38,341.22L1041.46,341.20L1041.53,341.18L1041.61,341.16L1041.68,341.13L1041.76,341.11L1041.84,341.08L1041.91,341.04L1041.99,341.00L1042.06,340.95L1042.14,340.89L1042.21,340.81L1042.29,340.70L1042.37,340.56L1042.44,340.37L1042.52,340.11L1042.59,339.75L1042.67,339.27L1042.74,338.62L1042.82,337.79L1042.90,336.72L1042.97,335.41L1043.05,333.84L1043.12,332.03L1043.20,330.00L1043.27,327.81M1044.18,327.81L1044.26,329.99L1044.33,332.03L1044.41,333.84L1044.49,335.41L1044.56,336.72L1044.64,337.79L1044.71,338.62L1044.79,339.27L1044.86,339.75L1044.94,340.11L1045.02,340.37L1045.09,340.56L1045.17,340.70L1045.24,340.81L1045.32,340.89L1045.39,340.95L1045.47,341.00L1045.55,341.04L1045.62,341.08L1045.70,341.11L1045.77,341.13L1045.85,341.16L1045.92,341.18L1046.00,341.20L1046.08,341.22L1046.15,341.23L1046.23,341.25L1046.30,341.26L1046.38,341.27L1046.45,341.29L1046.53,341.30L1046.61,341.31L1046.68,341.32L1046.76,341.33L1046.83,341.33L1046.91,341.34L1046.98,341.35L1047.06,341.35L1047.14,341.36L1047.21,341.37L1047.29,341.37L1047.36,341.38L1047.44,341.38L1047.51,341.39L1047.59,341.39L1047.67,341.39L1047.74,341.40L1047.82,341.40L1047.89,341.40L1047.97,341.41L1048.04,341.41L1048.12,341.41L1048.20,341.42L1048.27,341.42L1048.35,341.42L1050.24,341.46L1052.13,341.47L1054.03,341.48L1055.92,341.48L1057.81,341.49L1059.70,341.49L1061.60,341.49L1063.49,341.49L1065.38,341.49L1067.28,341.49L1069.17,341.48L1071.06,341.48L1072.95,341.48L1074.85,341.47L1076.74,341.47L1078.63,341.46L1080.53,341.43L1082.42,341.38L1084.31,341.22L1084.39,341.20L1084.46,341.19L1084.54,341.17L1084.61,341.16L1084.69,341.14L1084.77,341.12L1084.84,341.10L1084.92,341.07L1084.99,341.05L1085.07,341.02L1085.14,340.99L1085.22,340.95L1085.30,340.92L1085.37,340.87L1085.45,340.82L1085.52,340.76L1085.60,340.69L1085.67,340.61L1085.75,340.50L1085.83,340.35L1085.90,340.15L1085.98,339.89L1086.05,339.52L1086.13,339.02L1086.20,338.35L1086.28,337.45L1086.36,336.28L1086.43,334.80L1086.51,332.98L1086.58,330.79L1086.66,328.26M1087.87,328.24L1087.95,330.76L1088.02,332.94L1088.10,334.76L1088.17,336.24L1088.25,337.40L1088.32,338.30L1088.40,338.97L1088.48,339.46L1088.55,339.82L1088.63,340.09L1088.70,340.28L1088.78,340.42L1088.85,340.52L1088.93,340.61L1089.01,340.67L1089.08,340.72L1089.16,340.77L1089.23,340.81L1089.31,340.84L1089.38,340.87L1089.46,340.89L1089.54,340.91L1089.61,340.93L1089.69,340.94L1089.76,340.96L1089.84,340.97L1089.91,340.98L1089.99,340.98L1090.07,340.99L1090.14,340.99L1090.22,340.99L1090.29,340.99L1090.37,340.99L1090.44,340.98L1090.52,340.98L1090.60,340.97L1090.67,340.96L1090.75,340.95L1090.82,340.94L1090.90,340.92L1090.97,340.90L1091.05,340.88L1091.13,340.85L1091.20,340.82L1091.28,340.79L1091.35,340.75L1091.43,340.71L1091.50,340.66L1091.58,340.60L1091.66,340.53L1091.73,340.43L1091.81,340.31L1091.88,340.15L1091.96,339.94L1092.03,339.64L1092.11,339.23L1092.19,338.67L1092.26,337.92L1092.34,336.91L1092.41,335.60L1092.49,333.94L1092.56,331.89L1092.64,329.44M1094.00,329.47L1094.08,331.92L1094.15,333.98L1094.23,335.64L1094.31,336.95L1094.38,337.96L1094.46,338.72L1094.53,339.28L1094.61,339.70L1094.68,340.00L1094.76,340.22L1094.84,340.38L1094.91,340.50L1094.99,340.60L1095.06,340.68L1095.14,340.75L1095.21,340.80L1095.29,340.85L1095.37,340.89L1095.44,340.93L1095.52,340.97L1095.59,341.00L1095.67,341.03L1095.74,341.05L1095.82,341.08L1095.90,341.10L1095.97,341.12L1096.05,341.14L1096.12,341.16L1096.20,341.17L1096.27,341.19L1096.35,341.20L1096.43,341.21L1096.50,341.23L1096.58,341.24L1096.65,341.25L1096.73,341.26L1096.80,341.27L1096.88,341.28L1096.96,341.28L1097.03,341.29L1097.11,341.30L1097.18,341.31L1097.26,341.31L1097.33,341.32L1097.41,341.32L1097.49,341.33L1097.56,341.34L1097.64,341.34L1097.71,341.35L1097.79,341.35L1097.86,341.35L1097.94,341.36L1099.83,341.42L1101.73,341.45L1103.62,341.46L1105.51,341.47L1107.40,341.47L1109.30,341.46L1111.19,341.45L1113.08,341.43L1114.98,341.33L1115.05,341.32L1115.13,341.31L1115.20,341.30L1115.28,341.29L1115.35,341.28L1115.43,341.26L1115.51,341.25L1115.58,341.24L1115.66,341.22L1115.73,341.20L1115.81,341.18L1115.88,341.16L1115.96,341.13L1116.04,341.11L1116.11,341.07L1116.19,341.04L1116.26,340.99L1116.34,340.94L1116.41,340.86L1116.49,340.77L1116.57,340.64L1116.64,340.47L1116.72,340.23L1116.79,339.90L1116.87,339.46L1116.94,338.87L1117.02,338.10L1117.10,337.13L1117.17,335.94L1117.25,334.50L1117.32,332.84L1117.40,330.99L1117.47,329.00M1118.38,329.00L1118.46,330.99L1118.53,332.85L1118.61,334.50L1118.69,335.94L1118.76,337.13L1118.84,338.10L1118.91,338.87L1118.99,339.46L1119.06,339.90L1119.14,340.23L1119.22,340.47L1119.29,340.64L1119.37,340.77L1119.44,340.86L1119.52,340.94L1119.59,340.99L1119.67,341.04L1119.75,341.08L1119.82,341.11L1119.90,341.14L1119.97,341.16L1120.05,341.18L1120.12,341.20L1120.20,341.22L1120.28,341.24L1120.35,341.25L1120.43,341.27L1120.50,341.28L1120.58,341.29L1120.65,341.30L1120.73,341.31L1120.81,341.32L1120.88,341.33L1120.96,341.34L1121.03,341.34L1121.11,341.35L1121.18,341.36L1121.26,341.36L1121.34,341.37L1121.41,341.37L1121.49,341.38L1121.56,341.38L1121.64,341.39L1121.71,341.39L1121.79,341.40L1121.87,341.40L1121.94,341.40L1122.02,341.41L1122.09,341.41L1122.17,341.41L1122.24,341.42L1122.32,341.42L1122.40,341.42L1122.47,341.42L1124.36,341.46L1126.26,341.47L1128.15,341.48L1130.04,341.49L1131.94,341.49L1133.83,341.49L1135.72,341.49L1137.61,341.49L1139.51,341.49L1141.40,341.49L1143.29,341.49L1145.19,341.49L1147.08,341.49L1148.97,341.49L1150.86,341.49L1152.76,341.49L1154.65,341.49L1156.54,341.49L1158.44,341.49L1160.33,341.49L1162.22,341.49L1164.11,341.49L1166.01,341.49L1167.90,341.49L1169.79,341.49L1171.69,341.48L1173.58,341.48L1175.47,341.47L1177.36,341.45L1179.26,341.42L1181.15,341.34L1181.23,341.33L1181.30,341.33L1181.38,341.32L1181.45,341.31L1181.53,341.30L1181.60,341.29L1181.68,341.28L1181.76,341.27L1181.83,341.26L1181.91,341.24L1181.98,341.22L1182.06,341.20L1182.13,341.18L1182.21,341.15L1182.29,341.11L1182.36,341.07L1182.44,341.02L1182.51,340.95L1182.59,340.88L1182.66,340.79L1182.74,340.69L1182.82,340.56L1182.89,340.42L1182.97,340.25L1183.04,340.05L1183.12,339.83L1183.19,339.58L1183.27,339.30L1183.35,338.98L1183.42,338.64L1183.50,338.27L1183.57,337.87L1183.65,337.45L1183.72,337.01L1183.80,336.56L1183.88,336.10L1183.95,335.65L1184.03,335.21L1184.10,334.80L1184.18,334.42L1184.25,334.08L1184.33,333.81L1184.41,333.60L1184.48,333.48L1184.56,333.43L1184.63,333.47L1184.71,333.60L1184.78,333.80L1184.86,334.07L1184.94,334.40L1185.01,334.78L1185.09,335.19L1185.16,335.62L1185.24,336.07L1185.31,336.52L1185.39,336.97L1185.47,337.40L1185.54,337.82L1185.62,338.21L1185.69,338.58L1185.77,338.92L1185.84,339.23L1185.92,339.51L1186.00,339.75L1186.07,339.97L1186.15,340.16L1186.22,340.32L1186.30,340.46L1186.37,340.57L1186.45,340.67L1186.53,340.75L1186.60,340.81L1186.68,340.86L1186.75,340.90L1186.83,340.93L1186.90,340.94L1186.98,340.95L1187.06,340.96L1187.13,340.95L1187.21,340.94L1187.28,340.91L1187.36,340.89L1187.43,340.85L1187.51,340.80L1187.59,340.75L1187.66,340.69L1187.74,340.61L1187.81,340.52L1187.89,340.42L1187.96,340.31L1188.04,340.19L1188.12,340.05L1188.19,339.89L1188.27,339.72L1188.34,339.54L1188.42,339.34L1188.49,339.12L1188.57,338.90L1188.65,338.66L1188.72,338.41L1188.80,338.15L1188.87,337.88L1188.95,337.61L1189.02,337.34L1189.10,337.08L1189.18,336.82L1189.25,336.56L1189.33,336.33L1189.40,336.11L1189.48,335.92L1189.55,335.75L1189.63,335.62L1189.71,335.52L1189.78,335.46L1189.86,335.44L1189.93,335.46L1190.01,335.53L1190.08,335.63L1190.16,335.76L1190.24,335.93L1190.31,336.13L1190.39,336.35L1190.46,336.59L1190.54,336.84L1190.61,337.11L1190.69,337.38L1190.77,337.65L1190.84,337.93L1190.92,338.20L1190.99,338.46L1191.07,338.71L1191.14,338.96L1191.22,339.19L1191.30,339.41L1191.37,339.61L1191.45,339.80L1191.52,339.98L1191.60,340.14L1191.67,340.28L1191.75,340.41L1191.83,340.53L1191.90,340.64L1191.98,340.73L1192.05,340.82L1192.13,340.89L1192.20,340.95L1192.28,341.01L1192.36,341.06L1192.43,341.10L1192.51,341.14L1192.58,341.17L1192.66,341.20L1192.73,341.22L1192.81,341.24L1192.89,341.26L1192.96,341.27L1193.04,341.29L1193.11,341.30L1193.19,341.31L1193.26,341.32L1193.34,341.33L1193.42,341.33L1193.49,341.34L1193.57,341.35L1193.64,341.35L1193.72,341.36L1193.79,341.36L1193.87,341.37L1193.95,341.37L1194.02,341.38L1194.10,341.38L1194.17,341.38L1194.25,341.39L1194.32,341.39L1194.40,341.39L1196.29,341.44L1198.19,341.46L1200.08,341.47L1201.97,341.48L1203.86,341.48" fill="none" stroke="#5a0000" stroke-width="1.1"/>
<path d="M740.11,328.41L740.19,323.70L740.27,316.48L740.34,305.74L740.42,290.44L740.49,269.78L740.57,243.46L740.64,212.10L740.72,177.48L740.80,142.67L740.87,111.97L740.95,90.46L741.02,82.66L741.10,90.46L741.17,111.97L741.25,142.67L741.33,177.48L741.40,212.10L741.48,243.45L741.55,269.77L741.63,290.44L741.70,305.73L741.78,316.47L741.86,323.69L741.93,328.40M877.23,327.85L877.31,322.03L877.38,314.17L877.46,304.16L877.54,292.23L877.61,279.06L877.69,265.81L877.76,254.13L877.84,245.95L877.91,242.98L877.99,245.95L878.07,254.13L878.14,265.81L878.22,279.05L878.29,292.22L878.37,304.15L878.44,314.17L878.52,322.03L878.60,327.85M890.26,330.29L890.33,327.43L890.41,324.32L890.48,321.15L890.56,318.18L890.63,315.69L890.71,314.03L890.79,313.44L890.86,314.03L890.94,315.70L891.01,318.18L891.09,321.17L891.16,324.34L891.24,327.45L891.32,330.31M935.76,329.38L935.84,324.49L935.91,317.21L935.99,306.84L936.06,292.83L936.14,274.99L936.21,253.74L936.29,230.27L936.37,206.67L936.44,185.86L936.52,171.28L936.59,166.00L936.67,171.28L936.74,185.86L936.82,206.67L936.90,230.27L936.97,253.74L937.05,274.99L937.12,292.83L937.20,306.84L937.27,317.21L937.35,324.49L937.43,329.38M967.71,329.49L967.79,326.83L967.86,324.11L967.94,321.56L968.01,319.43L968.09,318.00L968.17,317.49L968.24,318.00L968.32,319.43L968.39,321.56L968.47,324.11L968.54,326.83L968.62,329.49M1043.27,327.81L1043.35,325.58L1043.43,323.40L1043.50,321.45L1043.58,319.88L1043.65,318.85L1043.73,318.50L1043.80,318.85L1043.88,319.88L1043.96,321.45L1044.03,323.40L1044.11,325.58L1044.18,327.81M1086.66,328.26L1086.73,325.44L1086.81,322.40L1086.89,319.29L1086.96,316.26L1087.04,313.54L1087.11,311.36L1087.19,309.93L1087.26,309.43L1087.34,309.92L1087.42,311.35L1087.49,313.53L1087.57,316.25L1087.64,319.27L1087.72,322.38L1087.79,325.41L1087.87,328.24M1092.64,329.44L1092.72,326.60L1092.79,323.42L1092.87,320.01L1092.94,316.51L1093.02,313.11L1093.09,310.05L1093.17,307.60L1093.25,305.99L1093.32,305.44L1093.40,306.00L1093.47,307.60L1093.55,310.06L1093.62,313.12L1093.70,316.52L1093.78,320.03L1093.85,323.44L1093.93,326.62L1094.00,329.47M1117.47,329.00L1117.55,326.96L1117.63,324.97L1117.70,323.19L1117.78,321.75L1117.85,320.82L1117.93,320.49L1118.00,320.82L1118.08,321.75L1118.16,323.19L1118.23,324.97L1118.31,326.96L1118.38,329.00" fill="none" stroke="#222" stroke-width="0.8"/>
</g>
<line x1="740.6" y1="377" x2="740.6" y2="387"/>
<line x1="877.2" y1="377" x2="877.2" y2="387"/>
<line x1="885.9" y1="377" x2="885.9" y2="387"/>
<line x1="890.7" y1="377" x2="890.7" y2="387"/>
<line x1="936.8" y1="377" x2="936.8" y2="387"/>
<line x1="967.9" y1="377" x2="967.9" y2="387"/>
<line x1="1041.0" y1="377" x2="1041.0" y2="387"/>
<line x1="1044.0" y1="377" x2="1044.0" y2="387"/>
<line x1="1086.9" y1="377" x2="1086.9" y2="387"/>
<line x1="1091.2" y1="377" x2="1091.2" y2="387"/>
<line x1="1093.7" y1="377" x2="1093.7" y2="387"/>
<line x1="1116.6" y1="377" x2="1116.6" y2="387"/>
<line x1="1118.8" y1="377" x2="1118.8" y2="387"/>
<line x1="1184.0" y1="377" x2="1184.0" y2="387"/>
<line x1="1188.8" y1="377" x2="1188.8" y2="387"/>
<line x1="1190.6" y1="377" x2="1190.6" y2="387"/>
<line x1="1192.4" y1="377" x2="1192.4" y2="387"/>
<line x1="1193.9" y1="377" x2="1193.9" y2="387"/>
<path d="M675.0,423.9 L675.9,423.0 L676.8,423.0 L677.7,423.4 L678.6,423.4 L679.5,424.6 L680.5,423.7 L681.4,423.5 L682.3,423.6 L683.2,423.4 L684.1,423.5 L685.0,422.7 L685.9,423.8 L686.8,423.7 L687.7,424.2 L688.6,423.5 L689.5,423.1 L690.4,423.5 L691.4,423.5 L692.3,423.5 L693.2,423.2 L694.1,422.1 L695.0,424.4 L695.9,423.7 L696.8,423.2 L697.7,423.8 L698.6,423.0 L699.5,423.1 L700.4,423.6 L701.3,424.4 L702.3,425.1 L703.2,423.3 L704.1,423.9 L705.0,423.7 L705.9,423.3 L706.8,423.3 L707.7,423.8 L708.6,425.1 L709.5,424.0 L710.4,422.7 L711.3,423.7 L712.3,423.9 L713.2,424.1 L714.1,424.7 L715.0,424.0 L715.9,425.0 L716.8,423.7 L717.7,424.0 L718.6,423.5 L719.5,423.5 L720.4,424.0 L721.3,424.3 L722.2,423.7 L723.2,422.4 L724.1,423.4 L725.0,423.2 L725.9,423.6 L726.8,423.3 L727.7,423.8 L728.6,424.2 L729.5,423.7 L730.4,423.7 L731.3,423.4 L732.2,424.7 L733.1,423.4 L734.1,424.4 L735.0,423.6 L735.9,423.2 L736.8,424.6 L737.7,424.0 L738.6,424.2 L739.5,424.0 L740.4,423.0 L740.8,396.6 L741.2,450.6 L741.3,423.6 L741.6,421.6 L742.2,423.2 L743.1,423.8 L744.1,423.3 L745.0,423.2 L745.9,424.3 L746.8,423.9 L747.7,423.4 L748.6,423.4 L749.5,424.6 L750.4,423.6 L751.3,424.2 L752.2,424.4 L753.1,425.1 L754.0,423.7 L755.0,423.0 L755.9,424.8 L756.8,423.6 L757.7,423.5 L758.6,423.8 L759.5,423.4 L760.4,422.8 L761.3,423.6 L762.2,423.7 L763.1,423.3 L764.0,425.0 L764.9,423.2 L765.9,422.8 L766.8,423.4 L767.7,423.1 L768.6,424.1 L769.5,423.1 L770.4,424.3 L771.3,423.2 L772.2,423.1 L773.1,422.5 L774.0,424.5 L774.9,423.5 L775.9,424.2 L776.8,423.4 L777.7,423.4 L778.6,424.0 L779.5,422.7 L780.4,424.5 L781.3,423.4 L782.2,424.0 L783.1,424.4 L784.0,424.1 L784.9,424.2 L785.8,423.3 L786.8,424.2 L787.7,424.4 L788.6,424.0 L789.5,423.1 L790.4,423.0 L791.3,423.7 L792.2,422.7 L793.1,423.4 L794.0,424.1 L794.9,423.4 L795.8,424.4 L796.7,423.4 L797.7,422.5 L798.6,423.9 L799.5,423.7 L800.4,424.4 L801.3,424.6 L802.2,423.0 L803.1,424.1 L804.0,423.0 L804.9,423.0 L805.8,422.8 L806.7,423.6 L807.7,425.1 L808.6,423.8 L809.5,422.9 L810.4,422.4 L811.3,422.8 L812.2,424.1 L813.1,423.6 L814.0,423.7 L814.9,423.5 L815.8,423.4 L816.7,423.1 L817.6,423.6 L818.6,423.8 L819.5,423.5 L820.4,424.2 L821.3,423.0 L822.2,422.7 L823.1,423.3 L824.0,423.4 L824.9,422.2 L825.8,423.4 L826.7,423.7 L827.6,424.5 L828.5,423.7 L829.5,424.1 L830.4,422.5 L831.3,423.3 L832.2,423.2 L833.1,423.5 L834.0,423.4 L834.9,423.5 L835.8,423.5 L836.7,422.8 L837.6,423.2 L838.5,424.3 L839.5,423.2 L840.4,424.1 L841.3,422.7 L842.2,423.0 L843.1,424.2 L844.0,425.0 L844.9,423.8 L845.8,423.3 L846.7,424.0 L847.6,423.3 L848.5,423.8 L849.4,423.3 L850.4,424.4 L851.3,422.7 L852.2,422.8 L853.1,423.3 L854.0,423.6 L854.9,422.7 L855.8,423.1 L856.7,424.5 L857.6,424.2 L858.5,423.2 L859.4,424.0 L860.3,423.2 L861.3,422.7 L862.2,423.9 L863.1,423.2 L864.0,424.6 L864.9,423.7 L865.8,423.2 L866.7,422.6 L867.6,424.3 L868.5,423.4 L869.4,423.6 L870.3,423.7 L871.3,423.2 L872.2,422.3 L873.1,423.9 L874.0,423.7 L874.9,422.6 L875.8,424.1 L876.7,423.6 L877.6,424.9 L877.7,416.6 L878.1,428.6 L878.5,424.7 L878.5,421.6 L879.4,423.7 L880.3,423.9 L881.2,423.4 L882.2,422.6 L883.1,423.4 L884.0,422.9 L884.9,424.2 L885.8,423.1 L886.7,424.7 L887.6,423.9 L888.5,425.1 L889.4,423.7 L890.3,422.9 L891.2,423.2 L892.1,423.7 L893.1,424.8 L894.0,423.1 L894.9,424.2 L895.8,424.4 L896.7,423.9 L897.6,424.1 L898.5,422.9 L899.4,423.9 L900.3,422.9 L901.2,422.5 L902.1,423.2 L903.1,423.8 L904.0,424.1 L904.9,423.9 L905.8,422.7 L906.7,424.4 L907.6,423.1 L908.5,423.2 L909.4,422.8 L910.3,423.8 L911.2,424.6 L912.1,423.8 L913.0,423.2 L914.0,423.1 L914.9,424.1 L915.8,423.6 L916.7,423.4 L917.6,424.6 L918.5,424.6 L919.4,423.7 L920.3,423.0 L921.2,423.6 L922.1,423.6 L923.0,424.3 L923.9,424.6 L924.9,424.6 L925.8,424.2 L926.7,424.1 L927.6,424.6 L928.5,423.7 L929.4,424.5 L930.3,423.7 L931.2,422.9 L932.1,423.6 L933.0,424.3 L933.9,423.7 L934.9,425.1 L935.8,422.8 L936.4,412.6 L936.7,423.8 L936.8,427.6 L937.2,421.6 L937.6,423.3 L938.5,424.2 L939.4,424.6 L940.3,422.9 L941.2,424.3 L942.1,422.3 L943.0,423.7 L943.9,423.6 L944.8,423.5 L945.8,423.9 L946.7,423.8 L947.6,423.3 L948.5,423.7 L949.4,423.2 L950.3,423.8 L951.2,424.1 L952.1,424.0 L953.0,423.3 L953.9,424.0 L954.8,424.6 L955.7,423.6 L956.7,424.4 L957.6,422.7 L958.5,423.7 L959.4,423.2 L960.3,423.6 L961.2,424.4 L962.1,424.4 L963.0,423.7 L963.9,424.1 L964.8,422.3 L965.7,422.9 L966.7,423.3 L967.6,424.0 L968.5,423.2 L969.4,424.2 L970.3,424.3 L971.2,423.2 L972.1,423.1 L973.0,423.4 L973.9,423.2 L974.8,424.2 L975.7,424.0 L976.6,422.4 L977.6,423.8 L978.5,423.2 L979.4,424.1 L980.3,423.4 L981.2,423.3 L982.1,424.2 L983.0,424.2 L983.9,424.0 L984.8,423.9 L985.7,423.5 L986.6,424.2 L987.5,423.5 L988.5,423.6 L989.4,424.3 L990.3,424.0 L991.2,423.9 L992.1,423.6 L993.0,423.1 L993.9,423.6 L994.8,423.1 L995.7,423.6 L996.6,422.6 L997.5,423.0 L998.5,423.3 L999.4,423.6 L1000.3,423.9 L1001.2,423.0 L1002.1,423.6 L1003.0,423.8 L1003.9,423.4 L1004.8,424.1 L1005.7,423.9 L1006.6,422.7 L1007.5,423.3 L1008.4,423.3 L1009.4,423.3 L1010.3,424.4 L1011.2,424.0 L1012.1,424.4 L1013.0,424.3 L1013.9,422.7 L1014.8,422.7 L1015.7,423.0 L1016.6,423.9 L1017.5,423.4 L1018.4,423.4 L1019.3,424.1 L1020.3,423.0 L1021.2,423.5 L1022.1,423.4 L1023.0,423.5 L1023.9,423.9 L1024.8,423.3 L1025.7,424.1 L1026.6,424.2 L1027.5,423.3 L1028.4,423.0 L1029.3,423.4 L1030.3,423.4 L1031.2,423.7 L1032.1,423.3 L1033.0,423.0 L1033.9,423.9 L1034.8,424.6 L1035.7,424.8 L1036.6,423.8 L1037.5,422.5 L1038.4,423.3 L1039.3,423.3 L1040.2,423.6 L1041.2,423.2 L1042.1,423.7 L1043.0,423.5 L1043.9,423.6 L1044.8,423.2 L1045.7,422.6 L1046.6,423.1 L1047.5,423.4 L1048.4,423.3 L1049.3,423.1 L1050.2,424.9 L1051.1,423.3 L1052.1,422.6 L1053.0,424.0 L1053.9,423.6 L1054.8,425.0 L1055.7,423.6 L1056.6,423.6 L1057.5,423.2 L1058.4,423.1 L1059.3,423.4 L1060.2,423.4 L1061.1,422.8 L1062.1,424.8 L1063.0,423.0 L1063.9,423.3 L1064.8,423.5 L1065.7,423.3 L1066.6,424.0 L1067.5,424.1 L1068.4,423.2 L1069.3,424.1 L1070.2,423.4 L1071.1,423.5 L1072.0,423.3 L1073.0,424.7 L1073.9,423.6 L1074.8,422.8 L1075.7,424.4 L1076.6,423.9 L1077.5,423.9 L1078.4,423.8 L1079.3,423.6 L1080.2,425.1 L1081.1,423.3 L1082.0,424.0 L1082.9,424.1 L1083.9,424.0 L1084.8,423.7 L1085.7,423.1 L1086.6,423.3 L1087.4,419.6 L1087.5,423.7 L1087.9,426.6 L1088.2,421.6 L1088.4,423.8 L1089.3,423.8 L1090.2,424.2 L1091.1,422.6 L1092.0,422.8 L1092.7,417.6 L1092.9,423.7 L1093.2,426.6 L1093.5,421.6 L1093.9,422.9 L1094.8,424.2 L1095.7,423.7 L1096.6,424.1 L1097.5,423.5 L1098.4,423.1 L1099.3,424.3 L1100.2,423.6 L1101.1,424.3 L1102.0,423.6 L1102.9,423.9 L1103.8,423.3 L1104.8,422.9 L1105.7,423.9 L1106.6,423.7 L1107.5,423.5 L1108.4,423.6 L1109.3,423.4 L1110.2,423.2 L1111.1,422.2 L1112.0,423.5 L1112.9,423.5 L1113.8,423.5 L1114.7,424.3 L1115.7,424.1 L1116.6,423.2 L1117.5,423.6 L1117.7,420.6 L1118.2,425.6 L1118.4,424.6 L1118.5,421.6 L1119.3,423.4 L1120.2,422.1 L1121.1,422.8 L1122.0,422.9 L1122.9,423.9 L1123.8,423.3 L1124.7,424.7 L1125.7,423.9 L1126.6,422.7 L1127.5,422.7 L1128.4,423.8 L1129.3,423.3 L1130.2,423.4 L1131.1,424.8 L1132.0,422.6 L1132.9,423.2 L1133.8,423.7 L1134.7,423.5 L1135.6,423.6 L1136.6,423.8 L1137.5,423.7 L1138.4,424.2 L1139.3,424.0 L1140.2,423.4 L1141.1,423.0 L1142.0,423.6 L1142.9,424.5 L1143.8,423.3 L1144.7,423.4 L1145.6,423.7 L1146.5,423.6 L1147.5,423.9 L1148.4,424.1 L1149.3,423.6 L1150.2,423.7 L1151.1,423.7 L1152.0,424.1 L1152.9,424.3 L1153.8,422.8 L1154.7,423.6 L1155.6,423.5 L1156.5,423.2 L1157.5,422.9 L1158.4,423.1 L1159.3,424.2 L1160.2,423.5 L1161.1,423.7 L1162.0,424.0 L1162.9,423.3 L1163.8,422.6 L1164.7,423.3 L1165.6,424.7 L1166.5,424.1 L1167.4,423.4 L1168.4,424.7 L1169.3,424.4 L1170.2,423.6 L1171.1,425.1 L1172.0,423.0 L1172.9,424.0 L1173.8,423.4 L1174.7,423.7 L1175.6,423.4 L1176.5,423.8 L1177.4,423.3 L1178.3,423.6 L1179.3,423.0 L1180.2,423.1 L1181.1,424.6 L1182.0,423.1 L1182.9,422.8 L1183.8,422.9 L1184.7,422.7 L1185.6,424.3 L1186.5,422.8 L1187.4,422.8 L1188.3,424.2 L1189.3,423.0 L1190.2,423.7 L1191.1,423.5 L1192.0,424.2 L1192.9,423.3 L1193.8,423.2 L1194.7,423.6 L1195.6,423.3 L1196.5,424.3 L1197.4,423.6 L1198.3,423.7 L1199.2,423.4 L1200.2,423.9 L1201.1,423.9 L1202.0,423.6 L1202.9,423.4 L1203.8,422.6 L1204.7,424.6" fill="none" stroke="#0000ff" stroke-width="1.5"/>
</g>
<rect x="675.2" y="25.9" width="529.7" height="432.4" fill="none" stroke="#1a1a1a" stroke-width="1.8"/>
<line x1="675.0" y1="458" x2="675.0" y2="466" stroke="#111" stroke-width="2"/>
<text x="675.0" y="490" text-anchor="middle" font-size="23.3" fill="#333">10</text>
<line x1="712.9" y1="458" x2="712.9" y2="462" stroke="#111" stroke-width="2"/>
<line x1="750.7" y1="458" x2="750.7" y2="466" stroke="#111" stroke-width="2"/>
<text x="750.7" y="490" text-anchor="middle" font-size="23.3" fill="#333">20</text>
<line x1="788.6" y1="458" x2="788.6" y2="462" stroke="#111" stroke-width="2"/>
<line x1="826.4" y1="458" x2="826.4" y2="466" stroke="#111" stroke-width="2"/>
<text x="826.4" y="490" text-anchor="middle" font-size="23.3" fill="#333">30</text>
<line x1="864.3" y1="458" x2="864.3" y2="462" stroke="#111" stroke-width="2"/>
<line x1="902.1" y1="458" x2="902.1" y2="466" stroke="#111" stroke-width="2"/>
<text x="902.1" y="490" text-anchor="middle" font-size="23.3" fill="#333">40</text>
<line x1="940.0" y1="458" x2="940.0" y2="462" stroke="#111" stroke-width="2"/>
<line x1="977.9" y1="458" x2="977.9" y2="466" stroke="#111" stroke-width="2"/>
<text x="977.9" y="490" text-anchor="middle" font-size="23.3" fill="#333">50</text>
<line x1="1015.7" y1="458" x2="1015.7" y2="462" stroke="#111" stroke-width="2"/>
<line x1="1053.6" y1="458" x2="1053.6" y2="466" stroke="#111" stroke-width="2"/>
<text x="1053.6" y="490" text-anchor="middle" font-size="23.3" fill="#333">60</text>
<line x1="1091.4" y1="458" x2="1091.4" y2="462" stroke="#111" stroke-width="2"/>
<line x1="1129.3" y1="458" x2="1129.3" y2="466" stroke="#111" stroke-width="2"/>
<text x="1129.3" y="490" text-anchor="middle" font-size="23.3" fill="#333">70</text>
<line x1="1167.1" y1="458" x2="1167.1" y2="462" stroke="#111" stroke-width="2"/>
<line x1="1205.0" y1="458" x2="1205.0" y2="466" stroke="#111" stroke-width="2"/>
<text x="1205.0" y="490" text-anchor="middle" font-size="23.3" fill="#333">80</text>
<text x="939.0" y="533.0" text-anchor="middle" font-size="30.5" fill="#222">2 theta / degree</text>
<text transform="translate(650.0,241.5) rotate(-90)" text-anchor="middle" font-size="31" fill="#222">Intensity / a.u.</text>
<circle cx="1049.7" cy="44" r="4" fill="none" stroke="#e02020" stroke-width="1"/>
<line x1="1028.0" y1="68.6" x2="1072.0" y2="68.6" stroke="#555" stroke-width="1.2"/>
<line x1="1028.0" y1="94.4" x2="1072.0" y2="94.4" stroke="#3030ee" stroke-width="1.2"/>
<line x1="1050.0" y1="115" x2="1050.0" y2="123.5" stroke="#4a8a4a" stroke-width="1.2"/>
<text x="1078.0" y="50.0" font-family='"Liberation Sans", sans-serif' font-size="20.4" fill="#222">Yobs</text>
<text x="1078.0" y="75.0" font-family='"Liberation Sans", sans-serif' font-size="20.4" fill="#222">Ycalc</text>
<text x="1078.0" y="100.0" font-family='"Liberation Sans", sans-serif' font-size="20.4" fill="#222">Yobs-Ycalc</text>
<text x="1078.0" y="124.5" font-family='"Liberation Sans", sans-serif' font-size="20.4" fill="#222" textLength="125.5" lengthAdjust="spacingAndGlyphs">Bragg position</text>
<text x="1078.5" y="180" font-size="28.5" fill="#222">NMCFA</text>
<text transform="translate(765.2,71.0) rotate(-90)" font-size="20.4" font-weight="bold" fill="#111">(003)</text>
<text transform="translate(877.7,218.0) rotate(-90)" font-size="20.4" font-weight="bold" fill="#111">(101)</text>
<text transform="translate(903.1,293.3) rotate(-90)" font-size="20.4" font-weight="bold" fill="#111">(006)/(102)</text>
<text transform="translate(948.1,147.7) rotate(-90)" font-size="20.4" font-weight="bold" fill="#111">(104)</text>
<text transform="translate(975.5,307.0) rotate(-90)" font-size="20.4" font-weight="bold" fill="#111">(105)</text>
<text transform="translate(1056.0,308.6) rotate(-90)" font-size="20.4" font-weight="bold" fill="#111">(107)</text>
<text transform="translate(1095.9,293.3) rotate(-90)" font-size="20.4" font-weight="bold" fill="#111">(108)/(110)</text>
<text transform="translate(1127.2,310.8) rotate(-90)" font-size="20.4" font-weight="bold" fill="#111">(113)</text>
<text transform="translate(1190.4,315.0) rotate(-90)" font-size="20.4" font-weight="bold" fill="#111">(021)/(116)</text>
<text x="617.5" y="612" text-anchor="middle" font-size="31" fill="#111">(<tspan font-weight="bold">a</tspan>)</text>
<text x="617.5" y="1358.7" text-anchor="middle" font-size="31" fill="#111">(<tspan font-weight="bold">b</tspan>)</text>
<g stroke="#3a3a3a" stroke-width="1.1" fill="none">
<line x1="305.2" y1="709.5" x2="307.9" y2="1250.8"/>
<line x1="389.0" y1="709.0" x2="390.9" y2="1250.0"/>
<line x1="398.2" y1="709.0" x2="399.6" y2="1250.0"/>
<line x1="480.9" y1="709.0" x2="483.3" y2="1250.0"/>
<line x1="305.0" y1="709.6" x2="395.5" y2="709.0"/>
<line x1="395.5" y1="708.8" x2="481.0" y2="708.8"/>
<line x1="307.9" y1="1250.8" x2="399.6" y2="1250.5"/>
<line x1="399.6" y1="1250.0" x2="483.4" y2="1250.0"/>
</g>
<g stroke-width="4.6" stroke-linecap="butt">
<line x1="305.0" y1="709.5" x2="287.1" y2="690.8" stroke="#8e1f8e" stroke-width="6.4"/>
<line x1="287.1" y1="690.8" x2="269.1" y2="672.0" stroke="#b80e0e" stroke-width="6.4"/>
<line x1="305.0" y1="709.5" x2="287.1" y2="690.8" stroke="#c640c6" stroke-width="3.0"/>
<line x1="287.1" y1="690.8" x2="269.1" y2="672.0" stroke="#ff3434" stroke-width="3.0"/>
<line x1="305.0" y1="709.5" x2="292.9" y2="689.4" stroke="#8e1f8e" stroke-width="6.4"/>
<line x1="292.9" y1="689.4" x2="280.8" y2="669.2" stroke="#b80e0e" stroke-width="6.4"/>
<line x1="305.0" y1="709.5" x2="292.9" y2="689.4" stroke="#c640c6" stroke-width="3.0"/>
<line x1="292.9" y1="689.4" x2="280.8" y2="669.2" stroke="#ff3434" stroke-width="3.0"/>
<line x1="305.0" y1="709.5" x2="327.9" y2="690.0" stroke="#8e1f8e" stroke-width="6.4"/>
<line x1="327.9" y1="690.0" x2="350.7" y2="670.6" stroke="#b80e0e" stroke-width="6.4"/>
<line x1="305.0" y1="709.5" x2="327.9" y2="690.0" stroke="#c640c6" stroke-width="3.0"/>
<line x1="327.9" y1="690.0" x2="350.7" y2="670.6" stroke="#ff3434" stroke-width="3.0"/>
<line x1="305.0" y1="709.5" x2="333.4" y2="689.4" stroke="#8e1f8e" stroke-width="6.4"/>
<line x1="333.4" y1="689.4" x2="361.7" y2="669.2" stroke="#b80e0e" stroke-width="6.4"/>
<line x1="305.0" y1="709.5" x2="333.4" y2="689.4" stroke="#c640c6" stroke-width="3.0"/>
<line x1="333.4" y1="689.4" x2="361.7" y2="669.2" stroke="#ff3434" stroke-width="3.0"/>
<line x1="305.0" y1="709.5" x2="276.1" y2="729.9" stroke="#8e1f8e" stroke-width="6.4"/>
<line x1="276.1" y1="729.9" x2="247.2" y2="750.2" stroke="#b80e0e" stroke-width="6.4"/>
<line x1="305.0" y1="709.5" x2="276.1" y2="729.9" stroke="#c640c6" stroke-width="3.0"/>
<line x1="276.1" y1="729.9" x2="247.2" y2="750.2" stroke="#ff3434" stroke-width="3.0"/>
<line x1="305.0" y1="709.5" x2="316.2" y2="730.5" stroke="#8e1f8e" stroke-width="6.4"/>
<line x1="316.2" y1="730.5" x2="327.4" y2="751.5" stroke="#b80e0e" stroke-width="6.4"/>
<line x1="305.0" y1="709.5" x2="316.2" y2="730.5" stroke="#c640c6" stroke-width="3.0"/>
<line x1="316.2" y1="730.5" x2="327.4" y2="751.5" stroke="#ff3434" stroke-width="3.0"/>
<line x1="305.0" y1="709.5" x2="322.1" y2="729.1" stroke="#8e1f8e" stroke-width="6.4"/>
<line x1="322.1" y1="729.1" x2="339.1" y2="748.8" stroke="#b80e0e" stroke-width="6.4"/>
<line x1="305.0" y1="709.5" x2="322.1" y2="729.1" stroke="#c640c6" stroke-width="3.0"/>
<line x1="322.1" y1="729.1" x2="339.1" y2="748.8" stroke="#ff3434" stroke-width="3.0"/>
<line x1="396.0" y1="709.5" x2="373.4" y2="690.0" stroke="#8e1f8e" stroke-width="6.4"/>
<line x1="373.4" y1="690.0" x2="350.7" y2="670.6" stroke="#b80e0e" stroke-width="6.4"/>
<line x1="396.0" y1="709.5" x2="373.4" y2="690.0" stroke="#c640c6" stroke-width="3.0"/>
<line x1="373.4" y1="690.0" x2="350.7" y2="670.6" stroke="#ff3434" stroke-width="3.0"/>
<line x1="396.0" y1="709.5" x2="378.9" y2="689.4" stroke="#8e1f8e" stroke-width="6.4"/>
<line x1="378.9" y1="689.4" x2="361.7" y2="669.2" stroke="#b80e0e" stroke-width="6.4"/>
<line x1="396.0" y1="709.5" x2="378.9" y2="689.4" stroke="#c640c6" stroke-width="3.0"/>
<line x1="378.9" y1="689.4" x2="361.7" y2="669.2" stroke="#ff3434" stroke-width="3.0"/>
<line x1="396.0" y1="709.5" x2="384.4" y2="688.6" stroke="#8e1f8e" stroke-width="6.4"/>
<line x1="384.4" y1="688.6" x2="372.7" y2="667.8" stroke="#b80e0e" stroke-width="6.4"/>
<line x1="396.0" y1="709.5" x2="384.4" y2="688.6" stroke="#c640c6" stroke-width="3.0"/>
<line x1="384.4" y1="688.6" x2="372.7" y2="667.8" stroke="#ff3434" stroke-width="3.0"/>
<line x1="396.0" y1="709.5" x2="419.9" y2="689.5" stroke="#8e1f8e" stroke-width="6.4"/>
<line x1="419.9" y1="689.5" x2="443.9" y2="669.6" stroke="#b80e0e" stroke-width="6.4"/>
<line x1="396.0" y1="709.5" x2="419.9" y2="689.5" stroke="#c640c6" stroke-width="3.0"/>
<line x1="419.9" y1="689.5" x2="443.9" y2="669.6" stroke="#ff3434" stroke-width="3.0"/>
<line x1="396.0" y1="709.5" x2="425.8" y2="688.9" stroke="#8e1f8e" stroke-width="6.4"/>
<line x1="425.8" y1="688.9" x2="455.5" y2="668.2" stroke="#b80e0e" stroke-width="6.4"/>
<line x1="396.0" y1="709.5" x2="425.8" y2="688.9" stroke="#c640c6" stroke-width="3.0"/>
<line x1="425.8" y1="688.9" x2="455.5" y2="668.2" stroke="#ff3434" stroke-width="3.0"/>
<line x1="396.0" y1="709.5" x2="367.6" y2="729.1" stroke="#8e1f8e" stroke-width="6.4"/>
<line x1="367.6" y1="729.1" x2="339.1" y2="748.8" stroke="#b80e0e" stroke-width="6.4"/>
<line x1="396.0" y1="709.5" x2="367.6" y2="729.1" stroke="#c640c6" stroke-width="3.0"/>
<line x1="367.6" y1="729.1" x2="339.1" y2="748.8" stroke="#ff3434" stroke-width="3.0"/>
<line x1="396.0" y1="709.5" x2="402.5" y2="729.9" stroke="#8e1f8e" stroke-width="6.4"/>
<line x1="402.5" y1="729.9" x2="409.0" y2="750.2" stroke="#b80e0e" stroke-width="6.4"/>
<line x1="396.0" y1="709.5" x2="402.5" y2="729.9" stroke="#c640c6" stroke-width="3.0"/>
<line x1="402.5" y1="729.9" x2="409.0" y2="750.2" stroke="#ff3434" stroke-width="3.0"/>
<line x1="396.0" y1="709.5" x2="407.6" y2="729.9" stroke="#8e1f8e" stroke-width="6.4"/>
<line x1="407.6" y1="729.9" x2="419.2" y2="750.2" stroke="#b80e0e" stroke-width="6.4"/>
<line x1="396.0" y1="709.5" x2="407.6" y2="729.9" stroke="#c640c6" stroke-width="3.0"/>
<line x1="407.6" y1="729.9" x2="419.2" y2="750.2" stroke="#ff3434" stroke-width="3.0"/>
<line x1="396.0" y1="709.5" x2="413.8" y2="728.0" stroke="#8e1f8e" stroke-width="6.4"/>
<line x1="413.8" y1="728.0" x2="431.6" y2="746.6" stroke="#b80e0e" stroke-width="6.4"/>
<line x1="396.0" y1="709.5" x2="413.8" y2="728.0" stroke="#c640c6" stroke-width="3.0"/>
<line x1="413.8" y1="728.0" x2="431.6" y2="746.6" stroke="#ff3434" stroke-width="3.0"/>
<line x1="481.0" y1="709.0" x2="462.4" y2="689.3" stroke="#8e1f8e" stroke-width="6.4"/>
<line x1="462.4" y1="689.3" x2="443.9" y2="669.6" stroke="#b80e0e" stroke-width="6.4"/>
<line x1="481.0" y1="709.0" x2="462.4" y2="689.3" stroke="#c640c6" stroke-width="3.0"/>
<line x1="462.4" y1="689.3" x2="443.9" y2="669.6" stroke="#ff3434" stroke-width="3.0"/>
<line x1="481.0" y1="709.0" x2="468.2" y2="688.6" stroke="#8e1f8e" stroke-width="6.4"/>
<line x1="468.2" y1="688.6" x2="455.5" y2="668.2" stroke="#b80e0e" stroke-width="6.4"/>
<line x1="481.0" y1="709.0" x2="468.2" y2="688.6" stroke="#c640c6" stroke-width="3.0"/>
<line x1="468.2" y1="688.6" x2="455.5" y2="668.2" stroke="#ff3434" stroke-width="3.0"/>
<line x1="481.0" y1="709.0" x2="510.1" y2="689.3" stroke="#8e1f8e" stroke-width="6.4"/>
<line x1="510.1" y1="689.3" x2="539.1" y2="669.6" stroke="#b80e0e" stroke-width="6.4"/>
<line x1="481.0" y1="709.0" x2="510.1" y2="689.3" stroke="#c640c6" stroke-width="3.0"/>
<line x1="510.1" y1="689.3" x2="539.1" y2="669.6" stroke="#ff3434" stroke-width="3.0"/>
<line x1="481.0" y1="709.0" x2="450.1" y2="729.6" stroke="#8e1f8e" stroke-width="6.4"/>
<line x1="450.1" y1="729.6" x2="419.2" y2="750.2" stroke="#b80e0e" stroke-width="6.4"/>
<line x1="481.0" y1="709.0" x2="450.1" y2="729.6" stroke="#c640c6" stroke-width="3.0"/>
<line x1="450.1" y1="729.6" x2="419.2" y2="750.2" stroke="#ff3434" stroke-width="3.0"/>
<line x1="481.0" y1="709.0" x2="456.3" y2="727.8" stroke="#8e1f8e" stroke-width="6.4"/>
<line x1="456.3" y1="727.8" x2="431.6" y2="746.6" stroke="#b80e0e" stroke-width="6.4"/>
<line x1="481.0" y1="709.0" x2="456.3" y2="727.8" stroke="#c640c6" stroke-width="3.0"/>
<line x1="456.3" y1="727.8" x2="431.6" y2="746.6" stroke="#ff3434" stroke-width="3.0"/>
<line x1="481.0" y1="709.0" x2="491.9" y2="730.4" stroke="#8e1f8e" stroke-width="6.4"/>
<line x1="491.9" y1="730.4" x2="502.8" y2="751.7" stroke="#b80e0e" stroke-width="6.4"/>
<line x1="481.0" y1="709.0" x2="491.9" y2="730.4" stroke="#c640c6" stroke-width="3.0"/>
<line x1="491.9" y1="730.4" x2="502.8" y2="751.7" stroke="#ff3434" stroke-width="3.0"/>
<line x1="481.0" y1="709.0" x2="497.7" y2="728.5" stroke="#8e1f8e" stroke-width="6.4"/>
<line x1="497.7" y1="728.5" x2="514.4" y2="748.0" stroke="#b80e0e" stroke-width="6.4"/>
<line x1="481.0" y1="709.0" x2="497.7" y2="728.5" stroke="#c640c6" stroke-width="3.0"/>
<line x1="497.7" y1="728.5" x2="514.4" y2="748.0" stroke="#ff3434" stroke-width="3.0"/>
<line x1="423.0" y1="890.0" x2="404.1" y2="871.1" stroke="#8e1f8e" stroke-width="6.4"/>
<line x1="404.1" y1="871.1" x2="385.1" y2="852.3" stroke="#b80e0e" stroke-width="6.4"/>
<line x1="423.0" y1="890.0" x2="404.1" y2="871.1" stroke="#c640c6" stroke-width="3.0"/>
<line x1="404.1" y1="871.1" x2="385.1" y2="852.3" stroke="#ff3434" stroke-width="3.0"/>
<line x1="423.0" y1="890.0" x2="410.6" y2="869.7" stroke="#8e1f8e" stroke-width="6.4"/>
<line x1="410.6" y1="869.7" x2="398.2" y2="849.4" stroke="#b80e0e" stroke-width="6.4"/>
<line x1="423.0" y1="890.0" x2="410.6" y2="869.7" stroke="#c640c6" stroke-width="3.0"/>
<line x1="410.6" y1="869.7" x2="398.2" y2="849.4" stroke="#ff3434" stroke-width="3.0"/>
<line x1="423.0" y1="890.0" x2="452.1" y2="870.0" stroke="#8e1f8e" stroke-width="6.4"/>
<line x1="452.1" y1="870.0" x2="481.3" y2="850.1" stroke="#b80e0e" stroke-width="6.4"/>
<line x1="423.0" y1="890.0" x2="452.1" y2="870.0" stroke="#c640c6" stroke-width="3.0"/>
<line x1="452.1" y1="870.0" x2="481.3" y2="850.1" stroke="#ff3434" stroke-width="3.0"/>
<line x1="423.0" y1="890.0" x2="392.4" y2="909.8" stroke="#8e1f8e" stroke-width="6.4"/>
<line x1="392.4" y1="909.8" x2="361.7" y2="929.5" stroke="#b80e0e" stroke-width="6.4"/>
<line x1="423.0" y1="890.0" x2="392.4" y2="909.8" stroke="#c640c6" stroke-width="3.0"/>
<line x1="392.4" y1="909.8" x2="361.7" y2="929.5" stroke="#ff3434" stroke-width="3.0"/>
<line x1="423.0" y1="890.0" x2="398.6" y2="909.0" stroke="#8e1f8e" stroke-width="6.4"/>
<line x1="398.6" y1="909.0" x2="374.1" y2="928.1" stroke="#b80e0e" stroke-width="6.4"/>
<line x1="423.0" y1="890.0" x2="398.6" y2="909.0" stroke="#c640c6" stroke-width="3.0"/>
<line x1="398.6" y1="909.0" x2="374.1" y2="928.1" stroke="#ff3434" stroke-width="3.0"/>
<line x1="423.0" y1="890.0" x2="433.4" y2="909.8" stroke="#8e1f8e" stroke-width="6.4"/>
<line x1="433.4" y1="909.8" x2="443.9" y2="929.5" stroke="#b80e0e" stroke-width="6.4"/>
<line x1="423.0" y1="890.0" x2="433.4" y2="909.8" stroke="#c640c6" stroke-width="3.0"/>
<line x1="433.4" y1="909.8" x2="443.9" y2="929.5" stroke="#ff3434" stroke-width="3.0"/>
<line x1="423.0" y1="890.0" x2="440.0" y2="909.0" stroke="#8e1f8e" stroke-width="6.4"/>
<line x1="440.0" y1="909.0" x2="457.0" y2="928.1" stroke="#b80e0e" stroke-width="6.4"/>
<line x1="423.0" y1="890.0" x2="440.0" y2="909.0" stroke="#c640c6" stroke-width="3.0"/>
<line x1="440.0" y1="909.0" x2="457.0" y2="928.1" stroke="#ff3434" stroke-width="3.0"/>
<line x1="365.8" y1="1070.3" x2="347.3" y2="1051.3" stroke="#8e1f8e" stroke-width="6.4"/>
<line x1="347.3" y1="1051.3" x2="328.8" y2="1032.4" stroke="#b80e0e" stroke-width="6.4"/>
<line x1="365.8" y1="1070.3" x2="347.3" y2="1051.3" stroke="#c640c6" stroke-width="3.0"/>
<line x1="347.3" y1="1051.3" x2="328.8" y2="1032.4" stroke="#ff3434" stroke-width="3.0"/>
<line x1="365.8" y1="1070.3" x2="353.4" y2="1050.3" stroke="#8e1f8e" stroke-width="6.4"/>
<line x1="353.4" y1="1050.3" x2="340.9" y2="1030.4" stroke="#b80e0e" stroke-width="6.4"/>
<line x1="365.8" y1="1070.3" x2="353.4" y2="1050.3" stroke="#c640c6" stroke-width="3.0"/>
<line x1="353.4" y1="1050.3" x2="340.9" y2="1030.4" stroke="#ff3434" stroke-width="3.0"/>
<line x1="365.8" y1="1070.3" x2="388.1" y2="1050.9" stroke="#8e1f8e" stroke-width="6.4"/>
<line x1="388.1" y1="1050.9" x2="410.5" y2="1031.5" stroke="#b80e0e" stroke-width="6.4"/>
<line x1="365.8" y1="1070.3" x2="388.1" y2="1050.9" stroke="#c640c6" stroke-width="3.0"/>
<line x1="388.1" y1="1050.9" x2="410.5" y2="1031.5" stroke="#ff3434" stroke-width="3.0"/>
<line x1="365.8" y1="1070.3" x2="392.5" y2="1050.5" stroke="#8e1f8e" stroke-width="6.4"/>
<line x1="392.5" y1="1050.5" x2="419.2" y2="1030.8" stroke="#b80e0e" stroke-width="6.4"/>
<line x1="365.8" y1="1070.3" x2="392.5" y2="1050.5" stroke="#c640c6" stroke-width="3.0"/>
<line x1="392.5" y1="1050.5" x2="419.2" y2="1030.8" stroke="#ff3434" stroke-width="3.0"/>
<line x1="365.8" y1="1070.3" x2="336.5" y2="1090.2" stroke="#8e1f8e" stroke-width="6.4"/>
<line x1="336.5" y1="1090.2" x2="307.1" y2="1110.0" stroke="#b80e0e" stroke-width="6.4"/>
<line x1="365.8" y1="1070.3" x2="336.5" y2="1090.2" stroke="#c640c6" stroke-width="3.0"/>
<line x1="336.5" y1="1090.2" x2="307.1" y2="1110.0" stroke="#ff3434" stroke-width="3.0"/>
<line x1="365.8" y1="1070.3" x2="376.8" y2="1090.2" stroke="#8e1f8e" stroke-width="6.4"/>
<line x1="376.8" y1="1090.2" x2="387.8" y2="1110.0" stroke="#b80e0e" stroke-width="6.4"/>
<line x1="365.8" y1="1070.3" x2="376.8" y2="1090.2" stroke="#c640c6" stroke-width="3.0"/>
<line x1="376.8" y1="1090.2" x2="387.8" y2="1110.0" stroke="#ff3434" stroke-width="3.0"/>
<line x1="365.8" y1="1070.3" x2="380.9" y2="1089.4" stroke="#8e1f8e" stroke-width="6.4"/>
<line x1="380.9" y1="1089.4" x2="396.0" y2="1108.6" stroke="#b80e0e" stroke-width="6.4"/>
<line x1="365.8" y1="1070.3" x2="380.9" y2="1089.4" stroke="#c640c6" stroke-width="3.0"/>
<line x1="380.9" y1="1089.4" x2="396.0" y2="1108.6" stroke="#ff3434" stroke-width="3.0"/>
<line x1="307.9" y1="1250.8" x2="289.9" y2="1231.6" stroke="#8e1f8e" stroke-width="6.4"/>
<line x1="289.9" y1="1231.6" x2="271.8" y2="1212.4" stroke="#b80e0e" stroke-width="6.4"/>
<line x1="307.9" y1="1250.8" x2="289.9" y2="1231.6" stroke="#c640c6" stroke-width="3.0"/>
<line x1="289.9" y1="1231.6" x2="271.8" y2="1212.4" stroke="#ff3434" stroke-width="3.0"/>
<line x1="307.9" y1="1250.8" x2="295.7" y2="1230.6" stroke="#8e1f8e" stroke-width="6.4"/>
<line x1="295.7" y1="1230.6" x2="283.5" y2="1210.4" stroke="#b80e0e" stroke-width="6.4"/>
<line x1="307.9" y1="1250.8" x2="295.7" y2="1230.6" stroke="#c640c6" stroke-width="3.0"/>
<line x1="295.7" y1="1230.6" x2="283.5" y2="1210.4" stroke="#ff3434" stroke-width="3.0"/>
<line x1="307.9" y1="1250.8" x2="330.7" y2="1231.6" stroke="#8e1f8e" stroke-width="6.4"/>
<line x1="330.7" y1="1231.6" x2="353.5" y2="1212.4" stroke="#b80e0e" stroke-width="6.4"/>
<line x1="307.9" y1="1250.8" x2="330.7" y2="1231.6" stroke="#c640c6" stroke-width="3.0"/>
<line x1="330.7" y1="1231.6" x2="353.5" y2="1212.4" stroke="#ff3434" stroke-width="3.0"/>
<line x1="307.9" y1="1250.8" x2="336.2" y2="1230.9" stroke="#8e1f8e" stroke-width="6.4"/>
<line x1="336.2" y1="1230.9" x2="364.5" y2="1211.0" stroke="#b80e0e" stroke-width="6.4"/>
<line x1="307.9" y1="1250.8" x2="336.2" y2="1230.9" stroke="#c640c6" stroke-width="3.0"/>
<line x1="336.2" y1="1230.9" x2="364.5" y2="1211.0" stroke="#ff3434" stroke-width="3.0"/>
<line x1="307.9" y1="1250.8" x2="278.9" y2="1270.7" stroke="#8e1f8e" stroke-width="6.4"/>
<line x1="278.9" y1="1270.7" x2="249.9" y2="1290.6" stroke="#b80e0e" stroke-width="6.4"/>
<line x1="307.9" y1="1250.8" x2="278.9" y2="1270.7" stroke="#c640c6" stroke-width="3.0"/>
<line x1="278.9" y1="1270.7" x2="249.9" y2="1290.6" stroke="#ff3434" stroke-width="3.0"/>
<line x1="307.9" y1="1250.8" x2="319.4" y2="1271.8" stroke="#8e1f8e" stroke-width="6.4"/>
<line x1="319.4" y1="1271.8" x2="330.9" y2="1292.7" stroke="#b80e0e" stroke-width="6.4"/>
<line x1="307.9" y1="1250.8" x2="319.4" y2="1271.8" stroke="#c640c6" stroke-width="3.0"/>
<line x1="319.4" y1="1271.8" x2="330.9" y2="1292.7" stroke="#ff3434" stroke-width="3.0"/>
<line x1="307.9" y1="1250.8" x2="324.9" y2="1270.0" stroke="#8e1f8e" stroke-width="6.4"/>
<line x1="324.9" y1="1270.0" x2="341.8" y2="1289.3" stroke="#b80e0e" stroke-width="6.4"/>
<line x1="307.9" y1="1250.8" x2="324.9" y2="1270.0" stroke="#c640c6" stroke-width="3.0"/>
<line x1="324.9" y1="1270.0" x2="341.8" y2="1289.3" stroke="#ff3434" stroke-width="3.0"/>
<line x1="399.6" y1="1249.5" x2="376.6" y2="1231.0" stroke="#8e1f8e" stroke-width="6.4"/>
<line x1="376.6" y1="1231.0" x2="353.5" y2="1212.4" stroke="#b80e0e" stroke-width="6.4"/>
<line x1="399.6" y1="1249.5" x2="376.6" y2="1231.0" stroke="#c640c6" stroke-width="3.0"/>
<line x1="376.6" y1="1231.0" x2="353.5" y2="1212.4" stroke="#ff3434" stroke-width="3.0"/>
<line x1="399.6" y1="1249.5" x2="382.1" y2="1230.2" stroke="#8e1f8e" stroke-width="6.4"/>
<line x1="382.1" y1="1230.2" x2="364.5" y2="1211.0" stroke="#b80e0e" stroke-width="6.4"/>
<line x1="399.6" y1="1249.5" x2="382.1" y2="1230.2" stroke="#c640c6" stroke-width="3.0"/>
<line x1="382.1" y1="1230.2" x2="364.5" y2="1211.0" stroke="#ff3434" stroke-width="3.0"/>
<line x1="399.6" y1="1249.5" x2="387.9" y2="1229.2" stroke="#8e1f8e" stroke-width="6.4"/>
<line x1="387.9" y1="1229.2" x2="376.1" y2="1209.0" stroke="#b80e0e" stroke-width="6.4"/>
<line x1="399.6" y1="1249.5" x2="387.9" y2="1229.2" stroke="#c640c6" stroke-width="3.0"/>
<line x1="387.9" y1="1229.2" x2="376.1" y2="1209.0" stroke="#ff3434" stroke-width="3.0"/>
<line x1="399.6" y1="1249.5" x2="422.9" y2="1230.2" stroke="#8e1f8e" stroke-width="6.4"/>
<line x1="422.9" y1="1230.2" x2="446.1" y2="1211.0" stroke="#b80e0e" stroke-width="6.4"/>
<line x1="399.6" y1="1249.5" x2="422.9" y2="1230.2" stroke="#c640c6" stroke-width="3.0"/>
<line x1="422.9" y1="1230.2" x2="446.1" y2="1211.0" stroke="#ff3434" stroke-width="3.0"/>
<line x1="399.6" y1="1249.5" x2="429.1" y2="1229.5" stroke="#8e1f8e" stroke-width="6.4"/>
<line x1="429.1" y1="1229.5" x2="458.5" y2="1209.6" stroke="#b80e0e" stroke-width="6.4"/>
<line x1="399.6" y1="1249.5" x2="429.1" y2="1229.5" stroke="#c640c6" stroke-width="3.0"/>
<line x1="429.1" y1="1229.5" x2="458.5" y2="1209.6" stroke="#ff3434" stroke-width="3.0"/>
<line x1="399.6" y1="1249.5" x2="370.7" y2="1269.4" stroke="#8e1f8e" stroke-width="6.4"/>
<line x1="370.7" y1="1269.4" x2="341.8" y2="1289.3" stroke="#b80e0e" stroke-width="6.4"/>
<line x1="399.6" y1="1249.5" x2="370.7" y2="1269.4" stroke="#c640c6" stroke-width="3.0"/>
<line x1="370.7" y1="1269.4" x2="341.8" y2="1289.3" stroke="#ff3434" stroke-width="3.0"/>
<line x1="399.6" y1="1249.5" x2="406.1" y2="1270.6" stroke="#8e1f8e" stroke-width="6.4"/>
<line x1="406.1" y1="1270.6" x2="412.7" y2="1291.7" stroke="#b80e0e" stroke-width="6.4"/>
<line x1="399.6" y1="1249.5" x2="406.1" y2="1270.6" stroke="#c640c6" stroke-width="3.0"/>
<line x1="406.1" y1="1270.6" x2="412.7" y2="1291.7" stroke="#ff3434" stroke-width="3.0"/>
<line x1="399.6" y1="1249.5" x2="410.5" y2="1270.6" stroke="#8e1f8e" stroke-width="6.4"/>
<line x1="410.5" y1="1270.6" x2="421.4" y2="1291.7" stroke="#b80e0e" stroke-width="6.4"/>
<line x1="399.6" y1="1249.5" x2="410.5" y2="1270.6" stroke="#c640c6" stroke-width="3.0"/>
<line x1="410.5" y1="1270.6" x2="421.4" y2="1291.7" stroke="#ff3434" stroke-width="3.0"/>
<line x1="399.6" y1="1249.5" x2="417.1" y2="1268.8" stroke="#8e1f8e" stroke-width="6.4"/>
<line x1="417.1" y1="1268.8" x2="434.5" y2="1288.0" stroke="#b80e0e" stroke-width="6.4"/>
<line x1="399.6" y1="1249.5" x2="417.1" y2="1268.8" stroke="#c640c6" stroke-width="3.0"/>
<line x1="417.1" y1="1268.8" x2="434.5" y2="1288.0" stroke="#ff3434" stroke-width="3.0"/>
<line x1="483.4" y1="1250.2" x2="464.8" y2="1230.6" stroke="#8e1f8e" stroke-width="6.4"/>
<line x1="464.8" y1="1230.6" x2="446.1" y2="1211.0" stroke="#b80e0e" stroke-width="6.4"/>
<line x1="483.4" y1="1250.2" x2="464.8" y2="1230.6" stroke="#c640c6" stroke-width="3.0"/>
<line x1="464.8" y1="1230.6" x2="446.1" y2="1211.0" stroke="#ff3434" stroke-width="3.0"/>
<line x1="483.4" y1="1250.2" x2="470.9" y2="1229.9" stroke="#8e1f8e" stroke-width="6.4"/>
<line x1="470.9" y1="1229.9" x2="458.5" y2="1209.6" stroke="#b80e0e" stroke-width="6.4"/>
<line x1="483.4" y1="1250.2" x2="470.9" y2="1229.9" stroke="#c640c6" stroke-width="3.0"/>
<line x1="470.9" y1="1229.9" x2="458.5" y2="1209.6" stroke="#ff3434" stroke-width="3.0"/>
<line x1="483.4" y1="1250.2" x2="512.7" y2="1230.2" stroke="#8e1f8e" stroke-width="6.4"/>
<line x1="512.7" y1="1230.2" x2="542.0" y2="1210.3" stroke="#b80e0e" stroke-width="6.4"/>
<line x1="483.4" y1="1250.2" x2="512.7" y2="1230.2" stroke="#c640c6" stroke-width="3.0"/>
<line x1="512.7" y1="1230.2" x2="542.0" y2="1210.3" stroke="#ff3434" stroke-width="3.0"/>
<line x1="483.4" y1="1250.2" x2="452.4" y2="1271.0" stroke="#8e1f8e" stroke-width="6.4"/>
<line x1="452.4" y1="1271.0" x2="421.4" y2="1291.7" stroke="#b80e0e" stroke-width="6.4"/>
<line x1="483.4" y1="1250.2" x2="452.4" y2="1271.0" stroke="#c640c6" stroke-width="3.0"/>
<line x1="452.4" y1="1271.0" x2="421.4" y2="1291.7" stroke="#ff3434" stroke-width="3.0"/>
<line x1="483.4" y1="1250.2" x2="458.9" y2="1269.1" stroke="#8e1f8e" stroke-width="6.4"/>
<line x1="458.9" y1="1269.1" x2="434.5" y2="1288.0" stroke="#b80e0e" stroke-width="6.4"/>
<line x1="483.4" y1="1250.2" x2="458.9" y2="1269.1" stroke="#c640c6" stroke-width="3.0"/>
<line x1="458.9" y1="1269.1" x2="434.5" y2="1288.0" stroke="#ff3434" stroke-width="3.0"/>
<line x1="483.4" y1="1250.2" x2="494.2" y2="1271.0" stroke="#8e1f8e" stroke-width="6.4"/>
<line x1="494.2" y1="1271.0" x2="505.0" y2="1291.7" stroke="#b80e0e" stroke-width="6.4"/>
<line x1="483.4" y1="1250.2" x2="494.2" y2="1271.0" stroke="#c640c6" stroke-width="3.0"/>
<line x1="494.2" y1="1271.0" x2="505.0" y2="1291.7" stroke="#ff3434" stroke-width="3.0"/>
<line x1="483.4" y1="1250.2" x2="500.3" y2="1269.1" stroke="#8e1f8e" stroke-width="6.4"/>
<line x1="500.3" y1="1269.1" x2="517.3" y2="1288.0" stroke="#b80e0e" stroke-width="6.4"/>
<line x1="483.4" y1="1250.2" x2="500.3" y2="1269.1" stroke="#c640c6" stroke-width="3.0"/>
<line x1="500.3" y1="1269.1" x2="517.3" y2="1288.0" stroke="#ff3434" stroke-width="3.0"/>
<line x1="363.8" y1="799.8" x2="345.6" y2="775.6" stroke="#8e9494" stroke-width="5.0"/>
<line x1="345.6" y1="775.6" x2="327.4" y2="751.5" stroke="#b80e0e" stroke-width="5.0"/>
<line x1="363.8" y1="799.8" x2="345.6" y2="775.6" stroke="#d4d8d8" stroke-width="2.2"/>
<line x1="345.6" y1="775.6" x2="327.4" y2="751.5" stroke="#ff3434" stroke-width="2.2"/>
<line x1="363.8" y1="799.8" x2="351.5" y2="774.3" stroke="#8e9494" stroke-width="5.0"/>
<line x1="351.5" y1="774.3" x2="339.1" y2="748.8" stroke="#b80e0e" stroke-width="5.0"/>
<line x1="363.8" y1="799.8" x2="351.5" y2="774.3" stroke="#d4d8d8" stroke-width="2.2"/>
<line x1="351.5" y1="774.3" x2="339.1" y2="748.8" stroke="#ff3434" stroke-width="2.2"/>
<line x1="363.8" y1="799.8" x2="386.4" y2="775.0" stroke="#8e9494" stroke-width="5.0"/>
<line x1="386.4" y1="775.0" x2="409.0" y2="750.2" stroke="#b80e0e" stroke-width="5.0"/>
<line x1="363.8" y1="799.8" x2="386.4" y2="775.0" stroke="#d4d8d8" stroke-width="2.2"/>
<line x1="386.4" y1="775.0" x2="409.0" y2="750.2" stroke="#ff3434" stroke-width="2.2"/>
<line x1="363.8" y1="799.8" x2="391.5" y2="775.0" stroke="#8e9494" stroke-width="5.0"/>
<line x1="391.5" y1="775.0" x2="419.2" y2="750.2" stroke="#b80e0e" stroke-width="5.0"/>
<line x1="363.8" y1="799.8" x2="391.5" y2="775.0" stroke="#d4d8d8" stroke-width="2.2"/>
<line x1="391.5" y1="775.0" x2="419.2" y2="750.2" stroke="#ff3434" stroke-width="2.2"/>
<line x1="363.8" y1="799.8" x2="334.9" y2="825.5" stroke="#8e9494" stroke-width="5.0"/>
<line x1="334.9" y1="825.5" x2="305.9" y2="851.1" stroke="#b80e0e" stroke-width="5.0"/>
<line x1="363.8" y1="799.8" x2="334.9" y2="825.5" stroke="#d4d8d8" stroke-width="2.2"/>
<line x1="334.9" y1="825.5" x2="305.9" y2="851.1" stroke="#ff3434" stroke-width="2.2"/>
<line x1="363.8" y1="799.8" x2="374.5" y2="826.0" stroke="#8e9494" stroke-width="5.0"/>
<line x1="374.5" y1="826.0" x2="385.1" y2="852.3" stroke="#b80e0e" stroke-width="5.0"/>
<line x1="363.8" y1="799.8" x2="374.5" y2="826.0" stroke="#d4d8d8" stroke-width="2.2"/>
<line x1="374.5" y1="826.0" x2="385.1" y2="852.3" stroke="#ff3434" stroke-width="2.2"/>
<line x1="363.8" y1="799.8" x2="381.0" y2="824.6" stroke="#8e9494" stroke-width="5.0"/>
<line x1="381.0" y1="824.6" x2="398.2" y2="849.4" stroke="#b80e0e" stroke-width="5.0"/>
<line x1="363.8" y1="799.8" x2="381.0" y2="824.6" stroke="#d4d8d8" stroke-width="2.2"/>
<line x1="381.0" y1="824.6" x2="398.2" y2="849.4" stroke="#ff3434" stroke-width="2.2"/>
<line x1="306.6" y1="980.0" x2="288.2" y2="955.5" stroke="#8e9494" stroke-width="5.0"/>
<line x1="288.2" y1="955.5" x2="269.8" y2="931.0" stroke="#b80e0e" stroke-width="5.0"/>
<line x1="306.6" y1="980.0" x2="288.2" y2="955.5" stroke="#d4d8d8" stroke-width="2.2"/>
<line x1="288.2" y1="955.5" x2="269.8" y2="931.0" stroke="#ff3434" stroke-width="2.2"/>
<line x1="306.6" y1="980.0" x2="294.1" y2="954.1" stroke="#8e9494" stroke-width="5.0"/>
<line x1="294.1" y1="954.1" x2="281.5" y2="928.2" stroke="#b80e0e" stroke-width="5.0"/>
<line x1="306.6" y1="980.0" x2="294.1" y2="954.1" stroke="#d4d8d8" stroke-width="2.2"/>
<line x1="294.1" y1="954.1" x2="281.5" y2="928.2" stroke="#ff3434" stroke-width="2.2"/>
<line x1="306.6" y1="980.0" x2="329.0" y2="955.5" stroke="#8e9494" stroke-width="5.0"/>
<line x1="329.0" y1="955.5" x2="351.4" y2="930.9" stroke="#b80e0e" stroke-width="5.0"/>
<line x1="306.6" y1="980.0" x2="329.0" y2="955.5" stroke="#d4d8d8" stroke-width="2.2"/>
<line x1="329.0" y1="955.5" x2="351.4" y2="930.9" stroke="#ff3434" stroke-width="2.2"/>
<line x1="306.6" y1="980.0" x2="334.1" y2="954.8" stroke="#8e9494" stroke-width="5.0"/>
<line x1="334.1" y1="954.8" x2="361.7" y2="929.5" stroke="#b80e0e" stroke-width="5.0"/>
<line x1="306.6" y1="980.0" x2="334.1" y2="954.8" stroke="#d4d8d8" stroke-width="2.2"/>
<line x1="334.1" y1="954.8" x2="361.7" y2="929.5" stroke="#ff3434" stroke-width="2.2"/>
<line x1="306.6" y1="980.0" x2="277.6" y2="1005.5" stroke="#8e9494" stroke-width="5.0"/>
<line x1="277.6" y1="1005.5" x2="248.5" y2="1031.0" stroke="#b80e0e" stroke-width="5.0"/>
<line x1="306.6" y1="980.0" x2="277.6" y2="1005.5" stroke="#d4d8d8" stroke-width="2.2"/>
<line x1="277.6" y1="1005.5" x2="248.5" y2="1031.0" stroke="#ff3434" stroke-width="2.2"/>
<line x1="306.6" y1="980.0" x2="317.7" y2="1006.2" stroke="#8e9494" stroke-width="5.0"/>
<line x1="317.7" y1="1006.2" x2="328.8" y2="1032.4" stroke="#b80e0e" stroke-width="5.0"/>
<line x1="306.6" y1="980.0" x2="317.7" y2="1006.2" stroke="#d4d8d8" stroke-width="2.2"/>
<line x1="317.7" y1="1006.2" x2="328.8" y2="1032.4" stroke="#ff3434" stroke-width="2.2"/>
<line x1="306.6" y1="980.0" x2="323.8" y2="1005.2" stroke="#8e9494" stroke-width="5.0"/>
<line x1="323.8" y1="1005.2" x2="340.9" y2="1030.4" stroke="#b80e0e" stroke-width="5.0"/>
<line x1="306.6" y1="980.0" x2="323.8" y2="1005.2" stroke="#d4d8d8" stroke-width="2.2"/>
<line x1="323.8" y1="1005.2" x2="340.9" y2="1030.4" stroke="#ff3434" stroke-width="2.2"/>
<line x1="381.0" y1="979.6" x2="366.2" y2="955.2" stroke="#8e9494" stroke-width="5.0"/>
<line x1="366.2" y1="955.2" x2="351.4" y2="930.9" stroke="#b80e0e" stroke-width="5.0"/>
<line x1="381.0" y1="979.6" x2="366.2" y2="955.2" stroke="#d4d8d8" stroke-width="2.2"/>
<line x1="366.2" y1="955.2" x2="351.4" y2="930.9" stroke="#ff3434" stroke-width="2.2"/>
<line x1="381.0" y1="979.6" x2="371.4" y2="954.5" stroke="#8e9494" stroke-width="5.0"/>
<line x1="371.4" y1="954.5" x2="361.7" y2="929.5" stroke="#b80e0e" stroke-width="5.0"/>
<line x1="381.0" y1="979.6" x2="371.4" y2="954.5" stroke="#d4d8d8" stroke-width="2.2"/>
<line x1="371.4" y1="954.5" x2="361.7" y2="929.5" stroke="#ff3434" stroke-width="2.2"/>
<line x1="381.0" y1="979.6" x2="377.6" y2="953.9" stroke="#8e9494" stroke-width="5.0"/>
<line x1="377.6" y1="953.9" x2="374.1" y2="928.1" stroke="#b80e0e" stroke-width="5.0"/>
<line x1="381.0" y1="979.6" x2="377.6" y2="953.9" stroke="#d4d8d8" stroke-width="2.2"/>
<line x1="377.6" y1="953.9" x2="374.1" y2="928.1" stroke="#ff3434" stroke-width="2.2"/>
<line x1="381.0" y1="979.6" x2="412.4" y2="954.5" stroke="#8e9494" stroke-width="5.0"/>
<line x1="412.4" y1="954.5" x2="443.9" y2="929.5" stroke="#b80e0e" stroke-width="5.0"/>
<line x1="381.0" y1="979.6" x2="412.4" y2="954.5" stroke="#d4d8d8" stroke-width="2.2"/>
<line x1="412.4" y1="954.5" x2="443.9" y2="929.5" stroke="#ff3434" stroke-width="2.2"/>
<line x1="381.0" y1="979.6" x2="354.9" y2="1006.0" stroke="#8e9494" stroke-width="5.0"/>
<line x1="354.9" y1="1006.0" x2="328.8" y2="1032.4" stroke="#b80e0e" stroke-width="5.0"/>
<line x1="381.0" y1="979.6" x2="354.9" y2="1006.0" stroke="#d4d8d8" stroke-width="2.2"/>
<line x1="354.9" y1="1006.0" x2="328.8" y2="1032.4" stroke="#ff3434" stroke-width="2.2"/>
<line x1="381.0" y1="979.6" x2="360.9" y2="1005.0" stroke="#8e9494" stroke-width="5.0"/>
<line x1="360.9" y1="1005.0" x2="340.9" y2="1030.4" stroke="#b80e0e" stroke-width="5.0"/>
<line x1="381.0" y1="979.6" x2="360.9" y2="1005.0" stroke="#d4d8d8" stroke-width="2.2"/>
<line x1="360.9" y1="1005.0" x2="340.9" y2="1030.4" stroke="#ff3434" stroke-width="2.2"/>
<line x1="381.0" y1="979.6" x2="395.8" y2="1005.5" stroke="#8e9494" stroke-width="5.0"/>
<line x1="395.8" y1="1005.5" x2="410.5" y2="1031.5" stroke="#b80e0e" stroke-width="5.0"/>
<line x1="381.0" y1="979.6" x2="395.8" y2="1005.5" stroke="#d4d8d8" stroke-width="2.2"/>
<line x1="395.8" y1="1005.5" x2="410.5" y2="1031.5" stroke="#ff3434" stroke-width="2.2"/>
<line x1="381.0" y1="979.6" x2="400.1" y2="1005.2" stroke="#8e9494" stroke-width="5.0"/>
<line x1="400.1" y1="1005.2" x2="419.2" y2="1030.8" stroke="#b80e0e" stroke-width="5.0"/>
<line x1="381.0" y1="979.6" x2="400.1" y2="1005.2" stroke="#d4d8d8" stroke-width="2.2"/>
<line x1="400.1" y1="1005.2" x2="419.2" y2="1030.8" stroke="#ff3434" stroke-width="2.2"/>
<line x1="381.0" y1="979.6" x2="407.0" y2="1004.1" stroke="#8e9494" stroke-width="5.0"/>
<line x1="407.0" y1="1004.1" x2="433.0" y2="1028.6" stroke="#b80e0e" stroke-width="5.0"/>
<line x1="381.0" y1="979.6" x2="407.0" y2="1004.1" stroke="#d4d8d8" stroke-width="2.2"/>
<line x1="407.0" y1="1004.1" x2="433.0" y2="1028.6" stroke="#ff3434" stroke-width="2.2"/>
<line x1="398.9" y1="979.2" x2="375.1" y2="955.0" stroke="#8e9494" stroke-width="5.0"/>
<line x1="375.1" y1="955.0" x2="351.4" y2="930.9" stroke="#b80e0e" stroke-width="5.0"/>
<line x1="398.9" y1="979.2" x2="375.1" y2="955.0" stroke="#d4d8d8" stroke-width="2.2"/>
<line x1="375.1" y1="955.0" x2="351.4" y2="930.9" stroke="#ff3434" stroke-width="2.2"/>
<line x1="398.9" y1="979.2" x2="380.3" y2="954.4" stroke="#8e9494" stroke-width="5.0"/>
<line x1="380.3" y1="954.4" x2="361.7" y2="929.5" stroke="#b80e0e" stroke-width="5.0"/>
<line x1="398.9" y1="979.2" x2="380.3" y2="954.4" stroke="#d4d8d8" stroke-width="2.2"/>
<line x1="380.3" y1="954.4" x2="361.7" y2="929.5" stroke="#ff3434" stroke-width="2.2"/>
<line x1="398.9" y1="979.2" x2="386.5" y2="953.7" stroke="#8e9494" stroke-width="5.0"/>
<line x1="386.5" y1="953.7" x2="374.1" y2="928.1" stroke="#b80e0e" stroke-width="5.0"/>
<line x1="398.9" y1="979.2" x2="386.5" y2="953.7" stroke="#d4d8d8" stroke-width="2.2"/>
<line x1="386.5" y1="953.7" x2="374.1" y2="928.1" stroke="#ff3434" stroke-width="2.2"/>
<line x1="398.9" y1="979.2" x2="421.4" y2="954.4" stroke="#8e9494" stroke-width="5.0"/>
<line x1="421.4" y1="954.4" x2="443.9" y2="929.5" stroke="#b80e0e" stroke-width="5.0"/>
<line x1="398.9" y1="979.2" x2="421.4" y2="954.4" stroke="#d4d8d8" stroke-width="2.2"/>
<line x1="421.4" y1="954.4" x2="443.9" y2="929.5" stroke="#ff3434" stroke-width="2.2"/>
<line x1="398.9" y1="979.2" x2="427.9" y2="953.7" stroke="#8e9494" stroke-width="5.0"/>
<line x1="427.9" y1="953.7" x2="457.0" y2="928.1" stroke="#b80e0e" stroke-width="5.0"/>
<line x1="398.9" y1="979.2" x2="427.9" y2="953.7" stroke="#d4d8d8" stroke-width="2.2"/>
<line x1="427.9" y1="953.7" x2="457.0" y2="928.1" stroke="#ff3434" stroke-width="2.2"/>
<line x1="398.9" y1="979.2" x2="369.9" y2="1004.8" stroke="#8e9494" stroke-width="5.0"/>
<line x1="369.9" y1="1004.8" x2="340.9" y2="1030.4" stroke="#b80e0e" stroke-width="5.0"/>
<line x1="398.9" y1="979.2" x2="369.9" y2="1004.8" stroke="#d4d8d8" stroke-width="2.2"/>
<line x1="369.9" y1="1004.8" x2="340.9" y2="1030.4" stroke="#ff3434" stroke-width="2.2"/>
<line x1="398.9" y1="979.2" x2="404.7" y2="1005.4" stroke="#8e9494" stroke-width="5.0"/>
<line x1="404.7" y1="1005.4" x2="410.5" y2="1031.5" stroke="#b80e0e" stroke-width="5.0"/>
<line x1="398.9" y1="979.2" x2="404.7" y2="1005.4" stroke="#d4d8d8" stroke-width="2.2"/>
<line x1="404.7" y1="1005.4" x2="410.5" y2="1031.5" stroke="#ff3434" stroke-width="2.2"/>
<line x1="398.9" y1="979.2" x2="409.0" y2="1005.0" stroke="#8e9494" stroke-width="5.0"/>
<line x1="409.0" y1="1005.0" x2="419.2" y2="1030.8" stroke="#b80e0e" stroke-width="5.0"/>
<line x1="398.9" y1="979.2" x2="409.0" y2="1005.0" stroke="#d4d8d8" stroke-width="2.2"/>
<line x1="409.0" y1="1005.0" x2="419.2" y2="1030.8" stroke="#ff3434" stroke-width="2.2"/>
<line x1="398.9" y1="979.2" x2="415.9" y2="1003.9" stroke="#8e9494" stroke-width="5.0"/>
<line x1="415.9" y1="1003.9" x2="433.0" y2="1028.6" stroke="#b80e0e" stroke-width="5.0"/>
<line x1="398.9" y1="979.2" x2="415.9" y2="1003.9" stroke="#d4d8d8" stroke-width="2.2"/>
<line x1="415.9" y1="1003.9" x2="433.0" y2="1028.6" stroke="#ff3434" stroke-width="2.2"/>
<line x1="481.7" y1="979.2" x2="462.8" y2="954.4" stroke="#8e9494" stroke-width="5.0"/>
<line x1="462.8" y1="954.4" x2="443.9" y2="929.5" stroke="#b80e0e" stroke-width="5.0"/>
<line x1="481.7" y1="979.2" x2="462.8" y2="954.4" stroke="#d4d8d8" stroke-width="2.2"/>
<line x1="462.8" y1="954.4" x2="443.9" y2="929.5" stroke="#ff3434" stroke-width="2.2"/>
<line x1="481.7" y1="979.2" x2="469.4" y2="953.7" stroke="#8e9494" stroke-width="5.0"/>
<line x1="469.4" y1="953.7" x2="457.0" y2="928.1" stroke="#b80e0e" stroke-width="5.0"/>
<line x1="481.7" y1="979.2" x2="469.4" y2="953.7" stroke="#d4d8d8" stroke-width="2.2"/>
<line x1="469.4" y1="953.7" x2="457.0" y2="928.1" stroke="#ff3434" stroke-width="2.2"/>
<line x1="481.7" y1="979.2" x2="511.1" y2="953.9" stroke="#8e9494" stroke-width="5.0"/>
<line x1="511.1" y1="953.9" x2="540.5" y2="928.5" stroke="#b80e0e" stroke-width="5.0"/>
<line x1="481.7" y1="979.2" x2="511.1" y2="953.9" stroke="#d4d8d8" stroke-width="2.2"/>
<line x1="511.1" y1="953.9" x2="540.5" y2="928.5" stroke="#ff3434" stroke-width="2.2"/>
<line x1="481.7" y1="979.2" x2="450.4" y2="1005.0" stroke="#8e9494" stroke-width="5.0"/>
<line x1="450.4" y1="1005.0" x2="419.2" y2="1030.8" stroke="#b80e0e" stroke-width="5.0"/>
<line x1="481.7" y1="979.2" x2="450.4" y2="1005.0" stroke="#d4d8d8" stroke-width="2.2"/>
<line x1="450.4" y1="1005.0" x2="419.2" y2="1030.8" stroke="#ff3434" stroke-width="2.2"/>
<line x1="481.7" y1="979.2" x2="457.4" y2="1003.9" stroke="#8e9494" stroke-width="5.0"/>
<line x1="457.4" y1="1003.9" x2="433.0" y2="1028.6" stroke="#b80e0e" stroke-width="5.0"/>
<line x1="481.7" y1="979.2" x2="457.4" y2="1003.9" stroke="#d4d8d8" stroke-width="2.2"/>
<line x1="457.4" y1="1003.9" x2="433.0" y2="1028.6" stroke="#ff3434" stroke-width="2.2"/>
<line x1="481.7" y1="979.2" x2="493.4" y2="1005.7" stroke="#8e9494" stroke-width="5.0"/>
<line x1="493.4" y1="1005.7" x2="505.0" y2="1032.2" stroke="#b80e0e" stroke-width="5.0"/>
<line x1="481.7" y1="979.2" x2="493.4" y2="1005.7" stroke="#d4d8d8" stroke-width="2.2"/>
<line x1="493.4" y1="1005.7" x2="505.0" y2="1032.2" stroke="#ff3434" stroke-width="2.2"/>
<line x1="481.7" y1="979.2" x2="498.8" y2="1003.9" stroke="#8e9494" stroke-width="5.0"/>
<line x1="498.8" y1="1003.9" x2="515.8" y2="1028.6" stroke="#b80e0e" stroke-width="5.0"/>
<line x1="481.7" y1="979.2" x2="498.8" y2="1003.9" stroke="#d4d8d8" stroke-width="2.2"/>
<line x1="498.8" y1="1003.9" x2="515.8" y2="1028.6" stroke="#ff3434" stroke-width="2.2"/>
<line x1="424.3" y1="1159.4" x2="406.1" y2="1134.7" stroke="#8e9494" stroke-width="5.0"/>
<line x1="406.1" y1="1134.7" x2="387.8" y2="1110.0" stroke="#b80e0e" stroke-width="5.0"/>
<line x1="424.3" y1="1159.4" x2="406.1" y2="1134.7" stroke="#d4d8d8" stroke-width="2.2"/>
<line x1="406.1" y1="1134.7" x2="387.8" y2="1110.0" stroke="#ff3434" stroke-width="2.2"/>
<line x1="424.3" y1="1159.4" x2="410.1" y2="1134.0" stroke="#8e9494" stroke-width="5.0"/>
<line x1="410.1" y1="1134.0" x2="396.0" y2="1108.6" stroke="#b80e0e" stroke-width="5.0"/>
<line x1="424.3" y1="1159.4" x2="410.1" y2="1134.0" stroke="#d4d8d8" stroke-width="2.2"/>
<line x1="410.1" y1="1134.0" x2="396.0" y2="1108.6" stroke="#ff3434" stroke-width="2.2"/>
<line x1="424.3" y1="1159.4" x2="394.4" y2="1185.2" stroke="#8e9494" stroke-width="5.0"/>
<line x1="394.4" y1="1185.2" x2="364.5" y2="1211.0" stroke="#b80e0e" stroke-width="5.0"/>
<line x1="424.3" y1="1159.4" x2="394.4" y2="1185.2" stroke="#d4d8d8" stroke-width="2.2"/>
<line x1="394.4" y1="1185.2" x2="364.5" y2="1211.0" stroke="#ff3434" stroke-width="2.2"/>
<line x1="424.3" y1="1159.4" x2="400.2" y2="1184.2" stroke="#8e9494" stroke-width="5.0"/>
<line x1="400.2" y1="1184.2" x2="376.1" y2="1209.0" stroke="#b80e0e" stroke-width="5.0"/>
<line x1="424.3" y1="1159.4" x2="400.2" y2="1184.2" stroke="#d4d8d8" stroke-width="2.2"/>
<line x1="400.2" y1="1184.2" x2="376.1" y2="1209.0" stroke="#ff3434" stroke-width="2.2"/>
<line x1="424.3" y1="1159.4" x2="435.2" y2="1185.2" stroke="#8e9494" stroke-width="5.0"/>
<line x1="435.2" y1="1185.2" x2="446.1" y2="1211.0" stroke="#b80e0e" stroke-width="5.0"/>
<line x1="424.3" y1="1159.4" x2="435.2" y2="1185.2" stroke="#d4d8d8" stroke-width="2.2"/>
<line x1="435.2" y1="1185.2" x2="446.1" y2="1211.0" stroke="#ff3434" stroke-width="2.2"/>
<line x1="424.3" y1="1159.4" x2="441.4" y2="1184.5" stroke="#8e9494" stroke-width="5.0"/>
<line x1="441.4" y1="1184.5" x2="458.5" y2="1209.6" stroke="#b80e0e" stroke-width="5.0"/>
<line x1="424.3" y1="1159.4" x2="441.4" y2="1184.5" stroke="#d4d8d8" stroke-width="2.2"/>
<line x1="441.4" y1="1184.5" x2="458.5" y2="1209.6" stroke="#ff3434" stroke-width="2.2"/>
<line x1="424.3" y1="1159.4" x2="453.5" y2="1133.7" stroke="#8e9494" stroke-width="5.0"/>
<line x1="453.5" y1="1133.7" x2="482.6" y2="1108.0" stroke="#b80e0e" stroke-width="5.0"/>
<line x1="424.3" y1="1159.4" x2="453.5" y2="1133.7" stroke="#d4d8d8" stroke-width="2.2"/>
<line x1="453.5" y1="1133.7" x2="482.6" y2="1108.0" stroke="#ff3434" stroke-width="2.2"/>
</g>
<circle cx="269.1" cy="672.0" r="9.7" fill="url(#gO)" stroke="#8a1212" stroke-width="0.7"/>
<circle cx="280.8" cy="669.2" r="9.7" fill="url(#gO)" stroke="#8a1212" stroke-width="0.7"/>
<circle cx="350.7" cy="670.6" r="9.7" fill="url(#gO)" stroke="#8a1212" stroke-width="0.7"/>
<circle cx="361.7" cy="669.2" r="9.7" fill="url(#gO)" stroke="#8a1212" stroke-width="0.7"/>
<circle cx="372.7" cy="667.8" r="9.7" fill="url(#gO)" stroke="#8a1212" stroke-width="0.7"/>
<circle cx="443.9" cy="669.6" r="9.7" fill="url(#gO)" stroke="#8a1212" stroke-width="0.7"/>
<circle cx="455.5" cy="668.2" r="9.7" fill="url(#gO)" stroke="#8a1212" stroke-width="0.7"/>
<circle cx="539.1" cy="669.6" r="9.7" fill="url(#gO)" stroke="#8a1212" stroke-width="0.7"/>
<circle cx="247.2" cy="750.2" r="9.7" fill="url(#gO)" stroke="#8a1212" stroke-width="0.7"/>
<circle cx="327.4" cy="751.5" r="9.7" fill="url(#gO)" stroke="#8a1212" stroke-width="0.7"/>
<circle cx="339.1" cy="748.8" r="9.7" fill="url(#gO)" stroke="#8a1212" stroke-width="0.7"/>
<circle cx="409.0" cy="750.2" r="9.7" fill="url(#gO)" stroke="#8a1212" stroke-width="0.7"/>
<circle cx="419.2" cy="750.2" r="9.7" fill="url(#gO)" stroke="#8a1212" stroke-width="0.7"/>
<circle cx="431.6" cy="746.6" r="9.7" fill="url(#gO)" stroke="#8a1212" stroke-width="0.7"/>
<circle cx="502.8" cy="751.7" r="9.7" fill="url(#gO)" stroke="#8a1212" stroke-width="0.7"/>
<circle cx="514.4" cy="748.0" r="9.7" fill="url(#gO)" stroke="#8a1212" stroke-width="0.7"/>
<circle cx="305.9" cy="851.1" r="9.7" fill="url(#gO)" stroke="#8a1212" stroke-width="0.7"/>
<circle cx="385.1" cy="852.3" r="9.7" fill="url(#gO)" stroke="#8a1212" stroke-width="0.7"/>
<circle cx="398.2" cy="849.4" r="9.7" fill="url(#gO)" stroke="#8a1212" stroke-width="0.7"/>
<circle cx="481.3" cy="850.1" r="9.7" fill="url(#gO)" stroke="#8a1212" stroke-width="0.7"/>
<circle cx="269.8" cy="931.0" r="9.7" fill="url(#gO)" stroke="#8a1212" stroke-width="0.7"/>
<circle cx="281.5" cy="928.2" r="9.7" fill="url(#gO)" stroke="#8a1212" stroke-width="0.7"/>
<circle cx="351.4" cy="930.9" r="9.7" fill="url(#gO)" stroke="#8a1212" stroke-width="0.7"/>
<circle cx="361.7" cy="929.5" r="9.7" fill="url(#gO)" stroke="#8a1212" stroke-width="0.7"/>
<circle cx="374.1" cy="928.1" r="9.7" fill="url(#gO)" stroke="#8a1212" stroke-width="0.7"/>
<circle cx="443.9" cy="929.5" r="9.7" fill="url(#gO)" stroke="#8a1212" stroke-width="0.7"/>
<circle cx="457.0" cy="928.1" r="9.7" fill="url(#gO)" stroke="#8a1212" stroke-width="0.7"/>
<circle cx="540.5" cy="928.5" r="9.7" fill="url(#gO)" stroke="#8a1212" stroke-width="0.7"/>
<circle cx="248.5" cy="1031.0" r="9.7" fill="url(#gO)" stroke="#8a1212" stroke-width="0.7"/>
<circle cx="328.8" cy="1032.4" r="9.7" fill="url(#gO)" stroke="#8a1212" stroke-width="0.7"/>
<circle cx="340.9" cy="1030.4" r="9.7" fill="url(#gO)" stroke="#8a1212" stroke-width="0.7"/>
<circle cx="410.5" cy="1031.5" r="9.7" fill="url(#gO)" stroke="#8a1212" stroke-width="0.7"/>
<circle cx="419.2" cy="1030.8" r="9.7" fill="url(#gO)" stroke="#8a1212" stroke-width="0.7"/>
<circle cx="433.0" cy="1028.6" r="9.7" fill="url(#gO)" stroke="#8a1212" stroke-width="0.7"/>
<circle cx="505.0" cy="1032.2" r="9.7" fill="url(#gO)" stroke="#8a1212" stroke-width="0.7"/>
<circle cx="515.8" cy="1028.6" r="9.7" fill="url(#gO)" stroke="#8a1212" stroke-width="0.7"/>
<circle cx="307.1" cy="1110.0" r="9.7" fill="url(#gO)" stroke="#8a1212" stroke-width="0.7"/>
<circle cx="387.8" cy="1110.0" r="9.7" fill="url(#gO)" stroke="#8a1212" stroke-width="0.7"/>
<circle cx="396.0" cy="1108.6" r="9.7" fill="url(#gO)" stroke="#8a1212" stroke-width="0.7"/>
<circle cx="271.8" cy="1212.4" r="9.7" fill="url(#gO)" stroke="#8a1212" stroke-width="0.7"/>
<circle cx="283.5" cy="1210.4" r="9.7" fill="url(#gO)" stroke="#8a1212" stroke-width="0.7"/>
<circle cx="353.5" cy="1212.4" r="9.7" fill="url(#gO)" stroke="#8a1212" stroke-width="0.7"/>
<circle cx="364.5" cy="1211.0" r="9.7" fill="url(#gO)" stroke="#8a1212" stroke-width="0.7"/>
<circle cx="376.1" cy="1209.0" r="9.7" fill="url(#gO)" stroke="#8a1212" stroke-width="0.7"/>
<circle cx="446.1" cy="1211.0" r="9.7" fill="url(#gO)" stroke="#8a1212" stroke-width="0.7"/>
<circle cx="458.5" cy="1209.6" r="9.7" fill="url(#gO)" stroke="#8a1212" stroke-width="0.7"/>
<circle cx="542.0" cy="1210.3" r="9.7" fill="url(#gO)" stroke="#8a1212" stroke-width="0.7"/>
<circle cx="249.9" cy="1290.6" r="9.7" fill="url(#gO)" stroke="#8a1212" stroke-width="0.7"/>
<circle cx="330.9" cy="1292.7" r="9.7" fill="url(#gO)" stroke="#8a1212" stroke-width="0.7"/>
<circle cx="341.8" cy="1289.3" r="9.7" fill="url(#gO)" stroke="#8a1212" stroke-width="0.7"/>
<circle cx="412.7" cy="1291.7" r="9.7" fill="url(#gO)" stroke="#8a1212" stroke-width="0.7"/>
<circle cx="421.4" cy="1291.7" r="9.7" fill="url(#gO)" stroke="#8a1212" stroke-width="0.7"/>
<circle cx="434.5" cy="1288.0" r="9.7" fill="url(#gO)" stroke="#8a1212" stroke-width="0.7"/>
<circle cx="505.0" cy="1291.7" r="9.7" fill="url(#gO)" stroke="#8a1212" stroke-width="0.7"/>
<circle cx="517.3" cy="1288.0" r="9.7" fill="url(#gO)" stroke="#8a1212" stroke-width="0.7"/>
<circle cx="363.8" cy="799.8" r="17.3" fill="url(#gLi)" stroke="#4f844f" stroke-width="0.8"/>
<circle cx="306.6" cy="980.0" r="17.3" fill="url(#gLi)" stroke="#4f844f" stroke-width="0.8"/>
<circle cx="381.0" cy="979.6" r="17.3" fill="url(#gLi)" stroke="#4f844f" stroke-width="0.8"/>
<circle cx="398.9" cy="979.2" r="17.3" fill="url(#gLi)" stroke="#4f844f" stroke-width="0.8"/>
<circle cx="481.7" cy="979.2" r="17.3" fill="url(#gLi)" stroke="#4f844f" stroke-width="0.8"/>
<circle cx="424.3" cy="1159.4" r="17.3" fill="url(#gLi)" stroke="#4f844f" stroke-width="0.8"/>
<path d="M389.5,709.5 L389.5,689.5 A20.0,20.0 0 0 1 405.7,721.3 Z" fill="#b020a8"/><path d="M389.5,709.5 L405.7,721.3 A20.0,20.0 0 0 1 372.4,719.8 Z" fill="#1e1eb8"/><path d="M389.5,709.5 L372.4,719.8 A20.0,20.0 0 0 1 389.5,689.5 Z" fill="#9ca0a2"/><circle cx="389.5" cy="709.5" r="19.6" fill="url(#gTMh)" stroke="#2a2040" stroke-width="0.8" stroke-opacity="0.7"/>
<path d="M391.5,1251.0 L391.5,1231.0 A20.0,20.0 0 0 1 407.7,1262.8 Z" fill="#b020a8"/><path d="M391.5,1251.0 L407.7,1262.8 A20.0,20.0 0 0 1 374.4,1261.3 Z" fill="#1e1eb8"/><path d="M391.5,1251.0 L374.4,1261.3 A20.0,20.0 0 0 1 391.5,1231.0 Z" fill="#9ca0a2"/><circle cx="391.5" cy="1251.0" r="19.6" fill="url(#gTMh)" stroke="#2a2040" stroke-width="0.8" stroke-opacity="0.7"/>
<path d="M305.0,709.5 L305.0,689.5 A20.0,20.0 0 0 1 321.2,721.3 Z" fill="#b020a8"/><path d="M305.0,709.5 L321.2,721.3 A20.0,20.0 0 0 1 287.9,719.8 Z" fill="#1e1eb8"/><path d="M305.0,709.5 L287.9,719.8 A20.0,20.0 0 0 1 305.0,689.5 Z" fill="#9ca0a2"/><circle cx="305.0" cy="709.5" r="19.6" fill="url(#gTMh)" stroke="#2a2040" stroke-width="0.8" stroke-opacity="0.7"/>
<path d="M396.0,709.5 L396.0,689.5 A20.0,20.0 0 0 1 412.2,721.3 Z" fill="#b020a8"/><path d="M396.0,709.5 L412.2,721.3 A20.0,20.0 0 0 1 378.9,719.8 Z" fill="#1e1eb8"/><path d="M396.0,709.5 L378.9,719.8 A20.0,20.0 0 0 1 396.0,689.5 Z" fill="#9ca0a2"/><circle cx="396.0" cy="709.5" r="19.6" fill="url(#gTMh)" stroke="#2a2040" stroke-width="0.8" stroke-opacity="0.7"/>
<path d="M481.0,709.0 L481.0,689.0 A20.0,20.0 0 0 1 497.2,720.8 Z" fill="#b020a8"/><path d="M481.0,709.0 L497.2,720.8 A20.0,20.0 0 0 1 463.9,719.3 Z" fill="#1e1eb8"/><path d="M481.0,709.0 L463.9,719.3 A20.0,20.0 0 0 1 481.0,689.0 Z" fill="#9ca0a2"/><circle cx="481.0" cy="709.0" r="19.6" fill="url(#gTMh)" stroke="#2a2040" stroke-width="0.8" stroke-opacity="0.7"/>
<path d="M423.0,890.0 L423.0,870.0 A20.0,20.0 0 0 1 439.2,901.8 Z" fill="#b020a8"/><path d="M423.0,890.0 L439.2,901.8 A20.0,20.0 0 0 1 405.9,900.3 Z" fill="#1e1eb8"/><path d="M423.0,890.0 L405.9,900.3 A20.0,20.0 0 0 1 423.0,870.0 Z" fill="#9ca0a2"/><circle cx="423.0" cy="890.0" r="19.6" fill="url(#gTMh)" stroke="#2a2040" stroke-width="0.8" stroke-opacity="0.7"/>
<path d="M365.8,1070.3 L365.8,1050.3 A20.0,20.0 0 0 1 382.0,1082.1 Z" fill="#b020a8"/><path d="M365.8,1070.3 L382.0,1082.1 A20.0,20.0 0 0 1 348.7,1080.6 Z" fill="#1e1eb8"/><path d="M365.8,1070.3 L348.7,1080.6 A20.0,20.0 0 0 1 365.8,1050.3 Z" fill="#9ca0a2"/><circle cx="365.8" cy="1070.3" r="19.6" fill="url(#gTMh)" stroke="#2a2040" stroke-width="0.8" stroke-opacity="0.7"/>
<path d="M307.9,1250.8 L307.9,1230.8 A20.0,20.0 0 0 1 324.1,1262.6 Z" fill="#b020a8"/><path d="M307.9,1250.8 L324.1,1262.6 A20.0,20.0 0 0 1 290.8,1261.1 Z" fill="#1e1eb8"/><path d="M307.9,1250.8 L290.8,1261.1 A20.0,20.0 0 0 1 307.9,1230.8 Z" fill="#9ca0a2"/><circle cx="307.9" cy="1250.8" r="19.6" fill="url(#gTMh)" stroke="#2a2040" stroke-width="0.8" stroke-opacity="0.7"/>
<path d="M399.6,1249.5 L399.6,1229.5 A20.0,20.0 0 0 1 415.8,1261.3 Z" fill="#b020a8"/><path d="M399.6,1249.5 L415.8,1261.3 A20.0,20.0 0 0 1 382.5,1259.8 Z" fill="#1e1eb8"/><path d="M399.6,1249.5 L382.5,1259.8 A20.0,20.0 0 0 1 399.6,1229.5 Z" fill="#9ca0a2"/><circle cx="399.6" cy="1249.5" r="19.6" fill="url(#gTMh)" stroke="#2a2040" stroke-width="0.8" stroke-opacity="0.7"/>
<path d="M483.4,1250.2 L483.4,1230.2 A20.0,20.0 0 0 1 499.6,1262.0 Z" fill="#b020a8"/><path d="M483.4,1250.2 L499.6,1262.0 A20.0,20.0 0 0 1 466.3,1260.5 Z" fill="#1e1eb8"/><path d="M483.4,1250.2 L466.3,1260.5 A20.0,20.0 0 0 1 483.4,1230.2 Z" fill="#9ca0a2"/><circle cx="483.4" cy="1250.2" r="19.6" fill="url(#gTMh)" stroke="#2a2040" stroke-width="0.8" stroke-opacity="0.7"/>
<circle cx="482.6" cy="1108.0" r="11" fill="#f5d020"/>
<circle cx="482.6" cy="1108.0" r="9" fill="#e81010"/>
<path d="M482.6,1108.0 h0 M482.6,1099.0 v18 M473.6,1108.0 h18" stroke="#f5d020" stroke-width="2"/>
<line x1="429.4" y1="888.3" x2="591.7" y2="888.3" stroke="#ee1010" stroke-width="4.6"/><path d="M603.7,888.3 L589.7,881.3 L589.7,895.3 Z" fill="#ee1010"/>
<line x1="497.7" y1="1112.4" x2="591.3" y2="1112.4" stroke="#ee1010" stroke-width="4.6"/><path d="M603.3,1112.4 L589.3,1105.4 L589.3,1119.4 Z" fill="#ee1010"/>
<line x1="434.6" y1="1161.2" x2="591.3" y2="1161.2" stroke="#ee1010" stroke-width="4.6"/><path d="M603.3,1161.2 L589.3,1154.2 L589.3,1168.2 Z" fill="#ee1010"/>
<line x1="566.8" y1="677.5" x2="566.8" y2="756.4" stroke="#eeaa80" stroke-width="4.4"/><path d="M566.8,667.5 L560.3,680.5 L573.3,680.5 Z" fill="#eeaa80"/><path d="M566.8,766.4 L560.3,753.4 L573.3,753.4 Z" fill="#eeaa80"/>
<line x1="564.7" y1="934.6" x2="564.7" y2="1029.8" stroke="#eeaa80" stroke-width="4.4"/><path d="M564.7,924.6 L558.2,937.6 L571.2,937.6 Z" fill="#eeaa80"/><path d="M564.7,1039.8 L558.2,1026.8 L571.2,1026.8 Z" fill="#eeaa80"/>
<line x1="605.1" y1="656.5" x2="605.1" y2="1307.2" stroke="#dcdcdc" stroke-width="1.6"/>
<text x="595.5" y="707.6" font-size="31.6" fill="#222">Transition Metal</text>
<text x="595.5" y="744.5" font-size="31.6" fill="#222">layer thickness</text>
<text x="628.3" y="900.2" font-size="31.6" fill="#222">Transition Metal (3b site)</text>
<text x="582.3" y="992.4" font-size="31.6" fill="#222">Interslab thickness</text>
<text x="621.8" y="1127.1" font-size="31.6" fill="#222">O (6c site)</text>
<text x="621.8" y="1176.0" font-size="31.6" fill="#222">Li (3a site)</text>
</svg></body></html>
